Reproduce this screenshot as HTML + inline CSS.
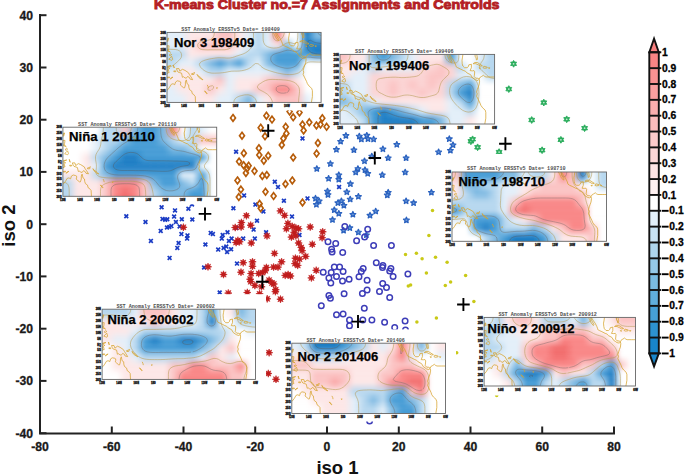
<!DOCTYPE html>
<html><head><meta charset="utf-8"><style>
html,body{margin:0;padding:0;background:#fff;}
body{width:685px;height:476px;overflow:hidden;position:relative;}
</style></head><body>
<svg width="685" height="476" viewBox="0 0 685 476" style="position:absolute;left:0;top:0">
<defs>
<symbol id="mD" overflow="visible"><path d="M0,-3.35 L2.5,0 L0,3.35 L-2.5,0Z" fill="none" stroke="#b65c0a" stroke-width="1.65"/></symbol>
<symbol id="mX" overflow="visible"><path d="M-1.9,-1.9 L1.9,1.9 M-1.9,1.9 L1.9,-1.9" stroke="#1b3cc4" stroke-width="1.7"/></symbol>
<symbol id="mS" overflow="visible"><path d="M0.00,-3.00 L0.82,-1.13 L2.85,-0.93 L1.33,0.43 L1.76,2.43 L0.00,1.40 L-1.76,2.43 L-1.33,0.43 L-2.85,-0.93 L-0.82,-1.13Z" fill="#6a98da" stroke="#2b62bf" stroke-width="1.3" stroke-linejoin="round"/></symbol>
<symbol id="mR" overflow="visible"><path d="M0.00,-3.70 L0.69,-1.66 L2.62,-2.62 L1.66,-0.69 L3.70,0.00 L1.66,0.69 L2.62,2.62 L0.69,1.66 L0.00,3.70 L-0.69,1.66 L-2.62,2.62 L-1.66,0.69 L-3.70,0.00 L-1.66,-0.69 L-2.62,-2.62 L-0.69,-1.66Z" fill="#c01c1c" stroke="#c01c1c" stroke-width="0.6"/></symbol>
<symbol id="mO" overflow="visible"><circle r="2.75" fill="none" stroke="#3d3db8" stroke-width="1.5"/></symbol>
<symbol id="mY" overflow="visible"><circle r="1.75" fill="#c9c916"/></symbol>
<symbol id="mG" overflow="visible"><path d="M0.00,-3.40 L1.00,-1.73 L2.94,-1.70 L2.00,0.00 L2.94,1.70 L1.00,1.73 L0.00,3.40 L-1.00,1.73 L-2.94,1.70 L-2.00,0.00 L-2.94,-1.70 L-1.00,-1.73Z" fill="#2aad5c" stroke="#2aad5c" stroke-width="0.9" stroke-linejoin="round"/><circle r="0.9" fill="#bfe8cf"/></symbol>
<symbol id="mC" overflow="visible"><path d="M-6.3,0 H6.3 M0,-6.5 V6.5" stroke="#000" stroke-width="1.9"/></symbol>

<filter id="bl" x="-30%" y="-30%" width="160%" height="160%"><feGaussianBlur stdDeviation="2.2"/></filter>
<filter id="blg" x="-10%" y="-10%" width="120%" height="120%"><feGaussianBlur stdDeviation="1.6"/></filter>
<filter id="bl2" x="-30%" y="-30%" width="160%" height="160%"><feGaussianBlur stdDeviation="1.2"/></filter>
</defs>
<rect width="685" height="476" fill="#fff"/>
<text x="154" y="9" font-family="Liberation Sans" font-weight="bold" font-size="12.3" fill="#b41f25" stroke="#b41f25" stroke-width="0.85" textLength="345.5" lengthAdjust="spacingAndGlyphs">K-means Cluster no.=7 Assignments and Centroids</text>
<g stroke="#222" stroke-width="2" fill="none">
<path d="M40,14 V434.5 M39,433.5 H615"/>
<path d="M40,433.2 H46.5"/>
<path d="M40,380.9 H46.5"/>
<path d="M40,328.7 H46.5"/>
<path d="M40,276.4 H46.5"/>
<path d="M40,224.2 H46.5"/>
<path d="M40,171.9 H46.5"/>
<path d="M40,119.7 H46.5"/>
<path d="M40,67.5 H46.5"/>
<path d="M40,15.2 H46.5"/>
<path d="M40.0,433.5 V426.5"/>
<path d="M111.8,433.5 V426.5"/>
<path d="M183.5,433.5 V426.5"/>
<path d="M255.2,433.5 V426.5"/>
<path d="M327.0,433.5 V426.5"/>
<path d="M398.8,433.5 V426.5"/>
<path d="M470.5,433.5 V426.5"/>
<path d="M542.2,433.5 V426.5"/>
<path d="M614.0,433.5 V426.5"/>
</g>
<g font-family="Liberation Sans" font-weight="bold" font-size="12.2" fill="#1a1a1a" stroke="#1a1a1a" stroke-width="0.3">
<text x="33" y="437.5" text-anchor="end">-40</text>
<text x="33" y="385.2" text-anchor="end">-30</text>
<text x="33" y="333.0" text-anchor="end">-20</text>
<text x="33" y="280.8" text-anchor="end">-10</text>
<text x="33" y="228.5" text-anchor="end">0</text>
<text x="33" y="176.2" text-anchor="end">10</text>
<text x="33" y="124.0" text-anchor="end">20</text>
<text x="33" y="71.8" text-anchor="end">30</text>
<text x="33" y="19.5" text-anchor="end">40</text>
<text x="40.0" y="450.5" text-anchor="middle">-80</text>
<text x="111.8" y="450.5" text-anchor="middle">-60</text>
<text x="183.5" y="450.5" text-anchor="middle">-40</text>
<text x="255.2" y="450.5" text-anchor="middle">-20</text>
<text x="327.0" y="450.5" text-anchor="middle">0</text>
<text x="398.8" y="450.5" text-anchor="middle">20</text>
<text x="470.5" y="450.5" text-anchor="middle">40</text>
<text x="542.2" y="450.5" text-anchor="middle">60</text>
<text x="614.0" y="450.5" text-anchor="middle">80</text>
</g>
<text x="337.5" y="474.3" text-anchor="middle" font-family="Liberation Sans" font-weight="bold" font-size="18.5" fill="#111">iso 1</text>
<text transform="translate(14.7,225.6) rotate(-90)" text-anchor="middle" font-family="Liberation Sans" font-weight="bold" font-size="18.5" fill="#111">iso 2</text>
<use href="#mX" x="302.5" y="138.4"/>
<use href="#mX" x="236.1" y="151.8"/>
<use href="#mX" x="274.8" y="181.8"/>
<use href="#mX" x="126.3" y="216.3"/>
<use href="#mX" x="145.5" y="222.0"/>
<use href="#mX" x="161.6" y="207.3"/>
<use href="#mX" x="175.0" y="210.4"/>
<use href="#mX" x="188.4" y="208.8"/>
<use href="#mX" x="162.5" y="218.9"/>
<use href="#mX" x="165.2" y="219.8"/>
<use href="#mX" x="167.3" y="219.3"/>
<use href="#mX" x="174.1" y="216.6"/>
<use href="#mX" x="181.8" y="219.3"/>
<use href="#mX" x="192.3" y="219.5"/>
<use href="#mX" x="175.9" y="222.0"/>
<use href="#mX" x="167.0" y="227.5"/>
<use href="#mX" x="169.3" y="227.0"/>
<use href="#mX" x="171.4" y="226.1"/>
<use href="#mX" x="160.7" y="230.9"/>
<use href="#mX" x="179.6" y="226.4"/>
<use href="#mX" x="181.4" y="234.1"/>
<use href="#mX" x="187.5" y="235.4"/>
<use href="#mX" x="187.1" y="238.6"/>
<use href="#mX" x="150.9" y="240.9"/>
<use href="#mX" x="178.6" y="243.0"/>
<use href="#mX" x="177.3" y="247.9"/>
<use href="#mX" x="169.6" y="257.9"/>
<use href="#mX" x="205.4" y="244.5"/>
<use href="#mX" x="210.7" y="232.9"/>
<use href="#mX" x="212.9" y="234.1"/>
<use href="#mX" x="218.2" y="249.6"/>
<use href="#mX" x="204.1" y="267.5"/>
<use href="#mX" x="244.1" y="195.4"/>
<use href="#mX" x="278.0" y="187.1"/>
<use href="#mX" x="283.9" y="200.7"/>
<use href="#mX" x="307.5" y="198.4"/>
<use href="#mX" x="233.4" y="208.2"/>
<use href="#mX" x="255.4" y="204.6"/>
<use href="#mX" x="263.4" y="211.4"/>
<use href="#mX" x="292.0" y="216.6"/>
<use href="#mX" x="257.0" y="220.7"/>
<use href="#mX" x="253.6" y="229.6"/>
<use href="#mX" x="266.1" y="232.3"/>
<use href="#mX" x="299.5" y="235.0"/>
<use href="#mX" x="254.8" y="238.6"/>
<use href="#mX" x="243.2" y="238.6"/>
<use href="#mX" x="227.5" y="232.3"/>
<use href="#mX" x="222.7" y="235.0"/>
<use href="#mX" x="221.8" y="238.6"/>
<use href="#mX" x="231.6" y="238.6"/>
<use href="#mX" x="228.9" y="240.9"/>
<use href="#mX" x="223.6" y="247.9"/>
<use href="#mX" x="227.1" y="252.0"/>
<use href="#mX" x="231.1" y="249.3"/>
<use href="#mX" x="226.3" y="246.6"/>
<use href="#mX" x="237.0" y="263.6"/>
<use href="#mX" x="236.4" y="227.9"/>
<use href="#mX" x="219.7" y="292.5"/>
<use href="#mX" x="339.1" y="187.0"/>
<use href="#mX" x="192.0" y="204.5"/>
<use href="#mD" x="233.0" y="117.9"/>
<use href="#mD" x="266.4" y="115.7"/>
<use href="#mD" x="272.0" y="119.6"/>
<use href="#mD" x="260.7" y="127.7"/>
<use href="#mD" x="242.0" y="135.7"/>
<use href="#mD" x="265.0" y="136.3"/>
<use href="#mD" x="285.7" y="126.8"/>
<use href="#mD" x="286.4" y="133.4"/>
<use href="#mD" x="283.4" y="138.4"/>
<use href="#mD" x="281.8" y="145.0"/>
<use href="#mD" x="293.2" y="117.3"/>
<use href="#mD" x="289.6" y="111.6"/>
<use href="#mD" x="299.5" y="112.5"/>
<use href="#mD" x="302.5" y="124.5"/>
<use href="#mD" x="303.6" y="130.4"/>
<use href="#mD" x="309.3" y="122.3"/>
<use href="#mD" x="316.4" y="125.4"/>
<use href="#mD" x="320.5" y="124.6"/>
<use href="#mD" x="322.3" y="118.2"/>
<use href="#mD" x="326.6" y="126.8"/>
<use href="#mD" x="317.9" y="142.9"/>
<use href="#mD" x="316.6" y="153.6"/>
<use href="#mD" x="293.2" y="157.5"/>
<use href="#mD" x="258.9" y="148.2"/>
<use href="#mD" x="259.3" y="155.0"/>
<use href="#mD" x="268.2" y="155.7"/>
<use href="#mD" x="263.8" y="160.7"/>
<use href="#mD" x="243.8" y="153.2"/>
<use href="#mD" x="239.1" y="161.6"/>
<use href="#mD" x="243.6" y="165.2"/>
<use href="#mD" x="248.6" y="165.7"/>
<use href="#mD" x="247.1" y="168.4"/>
<use href="#mD" x="245.9" y="172.9"/>
<use href="#mD" x="254.5" y="171.1"/>
<use href="#mD" x="262.3" y="175.9"/>
<use href="#mD" x="266.8" y="175.0"/>
<use href="#mD" x="237.5" y="180.4"/>
<use href="#mD" x="292.3" y="180.4"/>
<use href="#mD" x="285.5" y="184.0"/>
<use href="#mD" x="240.9" y="189.5"/>
<use href="#mD" x="238.8" y="197.1"/>
<use href="#mD" x="265.5" y="191.8"/>
<use href="#mD" x="273.6" y="196.1"/>
<use href="#mD" x="259.6" y="203.8"/>
<use href="#mD" x="260.7" y="208.2"/>
<use href="#mD" x="302.5" y="202.5"/>
<use href="#mS" x="336.4" y="149.6"/>
<use href="#mS" x="330.4" y="163.8"/>
<use href="#mS" x="316.8" y="168.8"/>
<use href="#mS" x="328.6" y="178.6"/>
<use href="#mS" x="338.8" y="175.0"/>
<use href="#mS" x="338.8" y="179.5"/>
<use href="#mS" x="345.9" y="135.7"/>
<use href="#mS" x="340.6" y="141.5"/>
<use href="#mS" x="359.3" y="136.3"/>
<use href="#mS" x="361.4" y="139.3"/>
<use href="#mS" x="366.8" y="135.4"/>
<use href="#mS" x="368.0" y="138.9"/>
<use href="#mS" x="373.6" y="139.3"/>
<use href="#mS" x="353.9" y="150.0"/>
<use href="#mS" x="382.9" y="149.1"/>
<use href="#mS" x="396.8" y="144.6"/>
<use href="#mS" x="371.8" y="156.3"/>
<use href="#mS" x="388.2" y="158.0"/>
<use href="#mS" x="406.1" y="158.0"/>
<use href="#mS" x="364.5" y="161.1"/>
<use href="#mS" x="357.9" y="168.8"/>
<use href="#mS" x="355.7" y="172.3"/>
<use href="#mS" x="365.0" y="170.0"/>
<use href="#mS" x="367.7" y="173.6"/>
<use href="#mS" x="382.3" y="175.0"/>
<use href="#mS" x="405.2" y="172.3"/>
<use href="#mS" x="449.3" y="138.9"/>
<use href="#mS" x="453.0" y="145.0"/>
<use href="#mS" x="450.4" y="150.5"/>
<use href="#mS" x="438.6" y="152.1"/>
<use href="#mS" x="350.4" y="183.9"/>
<use href="#mS" x="327.5" y="191.3"/>
<use href="#mS" x="328.0" y="194.8"/>
<use href="#mS" x="315.5" y="198.4"/>
<use href="#mS" x="319.1" y="201.1"/>
<use href="#mS" x="316.4" y="204.6"/>
<use href="#mS" x="337.9" y="202.9"/>
<use href="#mS" x="334.3" y="210.0"/>
<use href="#mS" x="338.8" y="213.6"/>
<use href="#mS" x="332.5" y="219.8"/>
<use href="#mS" x="346.8" y="192.1"/>
<use href="#mS" x="358.4" y="196.6"/>
<use href="#mS" x="350.2" y="199.3"/>
<use href="#mS" x="341.4" y="201.1"/>
<use href="#mS" x="343.9" y="205.5"/>
<use href="#mS" x="352.9" y="214.5"/>
<use href="#mS" x="370.0" y="215.4"/>
<use href="#mS" x="375.7" y="211.3"/>
<use href="#mS" x="388.2" y="192.5"/>
<use href="#mS" x="387.3" y="195.2"/>
<use href="#mS" x="406.1" y="201.1"/>
<use href="#mS" x="413.6" y="202.9"/>
<use href="#mS" x="431.4" y="192.5"/>
<use href="#mS" x="406.4" y="220.2"/>
<use href="#mS" x="343.6" y="230.5"/>
<use href="#mS" x="349.8" y="227.9"/>
<use href="#mS" x="358.4" y="232.3"/>
<use href="#mS" x="366.4" y="235.0"/>
<use href="#mO" x="328.0" y="241.8"/>
<use href="#mO" x="335.7" y="243.6"/>
<use href="#mO" x="331.6" y="249.3"/>
<use href="#mO" x="332.1" y="252.0"/>
<use href="#mO" x="334.3" y="267.1"/>
<use href="#mO" x="339.6" y="267.1"/>
<use href="#mO" x="344.8" y="226.4"/>
<use href="#mO" x="367.7" y="229.3"/>
<use href="#mO" x="364.6" y="237.1"/>
<use href="#mO" x="356.6" y="240.7"/>
<use href="#mO" x="373.6" y="245.4"/>
<use href="#mO" x="391.4" y="245.4"/>
<use href="#mO" x="342.7" y="252.5"/>
<use href="#mO" x="376.3" y="262.7"/>
<use href="#mO" x="382.9" y="265.4"/>
<use href="#mO" x="382.5" y="267.5"/>
<use href="#mO" x="363.2" y="268.6"/>
<use href="#mO" x="390.9" y="268.6"/>
<use href="#mO" x="323.2" y="272.2"/>
<use href="#mO" x="328.9" y="277.9"/>
<use href="#mO" x="331.2" y="272.6"/>
<use href="#mO" x="336.5" y="276.4"/>
<use href="#mO" x="343.1" y="271.6"/>
<use href="#mO" x="342.5" y="281.1"/>
<use href="#mO" x="330.8" y="283.0"/>
<use href="#mO" x="328.9" y="295.4"/>
<use href="#mO" x="330.4" y="298.2"/>
<use href="#mO" x="344.1" y="293.8"/>
<use href="#mO" x="321.3" y="305.8"/>
<use href="#mO" x="336.5" y="314.7"/>
<use href="#mO" x="343.1" y="314.0"/>
<use href="#mO" x="349.1" y="279.2"/>
<use href="#mO" x="359.0" y="276.8"/>
<use href="#mO" x="361.3" y="271.5"/>
<use href="#mO" x="367.1" y="280.2"/>
<use href="#mO" x="389.7" y="271.0"/>
<use href="#mO" x="393.1" y="276.4"/>
<use href="#mO" x="407.9" y="274.1"/>
<use href="#mO" x="382.7" y="283.6"/>
<use href="#mO" x="386.5" y="287.4"/>
<use href="#mO" x="379.5" y="291.6"/>
<use href="#mO" x="367.1" y="290.1"/>
<use href="#mO" x="362.4" y="293.5"/>
<use href="#mO" x="389.7" y="297.6"/>
<use href="#mO" x="364.3" y="308.3"/>
<use href="#mO" x="349.5" y="320.0"/>
<use href="#mO" x="349.5" y="325.7"/>
<use href="#mO" x="362.8" y="320.0"/>
<use href="#mO" x="371.9" y="320.0"/>
<use href="#mO" x="384.6" y="322.3"/>
<use href="#mO" x="394.7" y="327.6"/>
<use href="#mO" x="405.1" y="321.0"/>
<use href="#mO" x="405.5" y="330.0"/>
<use href="#mO" x="369.6" y="421.0"/>
<use href="#mR" x="183.4" y="227.3"/>
<use href="#mR" x="208.0" y="266.8"/>
<use href="#mR" x="246.4" y="215.7"/>
<use href="#mR" x="241.4" y="222.5"/>
<use href="#mR" x="241.1" y="227.0"/>
<use href="#mR" x="235.2" y="227.5"/>
<use href="#mR" x="250.7" y="225.2"/>
<use href="#mR" x="280.4" y="210.9"/>
<use href="#mR" x="284.6" y="215.4"/>
<use href="#mR" x="287.9" y="223.4"/>
<use href="#mR" x="286.4" y="228.8"/>
<use href="#mR" x="292.3" y="226.4"/>
<use href="#mR" x="295.9" y="227.9"/>
<use href="#mR" x="298.6" y="228.8"/>
<use href="#mR" x="294.1" y="232.3"/>
<use href="#mR" x="291.4" y="237.1"/>
<use href="#mR" x="295.9" y="235.9"/>
<use href="#mR" x="310.2" y="227.0"/>
<use href="#mR" x="322.7" y="231.8"/>
<use href="#mR" x="322.1" y="237.7"/>
<use href="#mR" x="267.0" y="235.9"/>
<use href="#mR" x="236.1" y="242.5"/>
<use href="#mR" x="239.6" y="241.8"/>
<use href="#mR" x="237.9" y="240.4"/>
<use href="#mR" x="251.3" y="243.0"/>
<use href="#mR" x="298.6" y="243.0"/>
<use href="#mR" x="301.3" y="247.5"/>
<use href="#mR" x="302.1" y="250.7"/>
<use href="#mR" x="312.3" y="244.3"/>
<use href="#mR" x="274.5" y="253.4"/>
<use href="#mR" x="243.2" y="262.7"/>
<use href="#mR" x="252.5" y="261.8"/>
<use href="#mR" x="252.5" y="266.3"/>
<use href="#mR" x="281.6" y="261.8"/>
<use href="#mR" x="295.4" y="258.2"/>
<use href="#mR" x="299.5" y="259.1"/>
<use href="#mR" x="305.7" y="256.4"/>
<use href="#mR" x="295.0" y="263.6"/>
<use href="#mR" x="297.7" y="265.4"/>
<use href="#mR" x="266.4" y="267.5"/>
<use href="#mR" x="273.6" y="267.1"/>
<use href="#mR" x="278.0" y="267.1"/>
<use href="#mR" x="223.5" y="274.5"/>
<use href="#mR" x="241.0" y="272.2"/>
<use href="#mR" x="251.1" y="273.5"/>
<use href="#mR" x="250.1" y="279.2"/>
<use href="#mR" x="250.7" y="281.7"/>
<use href="#mR" x="258.7" y="273.5"/>
<use href="#mR" x="262.4" y="272.6"/>
<use href="#mR" x="265.3" y="270.7"/>
<use href="#mR" x="254.9" y="285.5"/>
<use href="#mR" x="261.5" y="286.8"/>
<use href="#mR" x="269.1" y="280.2"/>
<use href="#mR" x="272.0" y="283.0"/>
<use href="#mR" x="273.8" y="284.0"/>
<use href="#mR" x="275.7" y="289.7"/>
<use href="#mR" x="275.4" y="291.6"/>
<use href="#mR" x="285.2" y="275.4"/>
<use href="#mR" x="288.1" y="274.5"/>
<use href="#mR" x="290.5" y="276.0"/>
<use href="#mR" x="280.5" y="299.2"/>
<use href="#mR" x="267.2" y="298.8"/>
<use href="#mR" x="247.3" y="292.5"/>
<use href="#mR" x="259.6" y="293.8"/>
<use href="#mR" x="228.3" y="293.1"/>
<use href="#mR" x="311.4" y="277.9"/>
<use href="#mR" x="316.2" y="270.3"/>
<use href="#mR" x="269.1" y="352.7"/>
<use href="#mR" x="268.3" y="373.5"/>
<use href="#mR" x="276.0" y="379.3"/>
<use href="#mY" x="432.5" y="210.4"/>
<use href="#mY" x="428.9" y="235.5"/>
<use href="#mY" x="405.5" y="254.6"/>
<use href="#mY" x="416.4" y="253.2"/>
<use href="#mY" x="422.1" y="258.8"/>
<use href="#mY" x="435.5" y="257.3"/>
<use href="#mY" x="447.1" y="262.3"/>
<use href="#mY" x="426.4" y="273.0"/>
<use href="#mY" x="408.3" y="285.9"/>
<use href="#mY" x="410.6" y="284.9"/>
<use href="#mY" x="445.3" y="285.5"/>
<use href="#mY" x="450.6" y="282.1"/>
<use href="#mY" x="465.6" y="275.4"/>
<use href="#mY" x="416.9" y="321.9"/>
<use href="#mY" x="436.4" y="318.1"/>
<use href="#mY" x="456.7" y="352.7"/>
<use href="#mY" x="473.9" y="301.6"/>
<use href="#mY" x="496.7" y="395.4"/>
<use href="#mG" x="513.6" y="63.8"/>
<use href="#mG" x="508.8" y="89.1"/>
<use href="#mG" x="543.8" y="102.6"/>
<use href="#mG" x="531.7" y="120.0"/>
<use href="#mG" x="566.7" y="119.3"/>
<use href="#mG" x="560.9" y="139.8"/>
<use href="#mG" x="542.1" y="150.2"/>
<use href="#mG" x="470.9" y="141.3"/>
<use href="#mG" x="472.6" y="139.3"/>
<use href="#mG" x="477.6" y="147.3"/>
<use href="#mG" x="499.1" y="152.1"/>
<use href="#mG" x="584.6" y="128.2"/>
<rect x="158.5" y="17.4" width="173.1" height="93.0" fill="#fff"/>
<clipPath id="cp0"><rect x="167.0" y="32.4" width="154.1" height="70.0"/></clipPath>
<g clip-path="url(#cp0)">
<rect x="167.0" y="32.4" width="154.1" height="70.0" fill="#f6fafd"/>
<g filter="url(#blg)">
<linearGradient id="g0_0" gradientUnits="userSpaceOnUse" x1="167.0" x2="321.1" y1="0" y2="0"><stop offset="0.031" stop-color="#e3eff9"/><stop offset="0.094" stop-color="#e3eff9"/><stop offset="0.156" stop-color="#fde7e7"/><stop offset="0.219" stop-color="#fde7e7"/><stop offset="0.281" stop-color="#fde7e7"/><stop offset="0.344" stop-color="#fbc3c3"/><stop offset="0.406" stop-color="#fbc3c3"/><stop offset="0.469" stop-color="#fde7e7"/><stop offset="0.531" stop-color="#e3eff9"/><stop offset="0.594" stop-color="#b6d7ef"/><stop offset="0.656" stop-color="#e3eff9"/><stop offset="0.719" stop-color="#f98585"/><stop offset="0.781" stop-color="#ffffff"/><stop offset="0.844" stop-color="#ffffff"/><stop offset="0.906" stop-color="#1d7dc4"/><stop offset="0.969" stop-color="#7db9e2"/></linearGradient>
<rect x="163.00" y="28.40" width="162.10" height="6.75" fill="url(#g0_0)"/>
<linearGradient id="g0_1" gradientUnits="userSpaceOnUse" x1="167.0" x2="321.1" y1="0" y2="0"><stop offset="0.031" stop-color="#e3eff9"/><stop offset="0.094" stop-color="#e3eff9"/><stop offset="0.156" stop-color="#fde7e7"/><stop offset="0.219" stop-color="#fde7e7"/><stop offset="0.281" stop-color="#fde7e7"/><stop offset="0.344" stop-color="#fbc3c3"/><stop offset="0.406" stop-color="#fbc3c3"/><stop offset="0.469" stop-color="#fde7e7"/><stop offset="0.531" stop-color="#e3eff9"/><stop offset="0.594" stop-color="#b6d7ef"/><stop offset="0.656" stop-color="#e3eff9"/><stop offset="0.719" stop-color="#f98585"/><stop offset="0.781" stop-color="#ffffff"/><stop offset="0.844" stop-color="#ffffff"/><stop offset="0.906" stop-color="#1d7dc4"/><stop offset="0.969" stop-color="#7db9e2"/></linearGradient>
<rect x="163.00" y="34.90" width="162.10" height="2.75" fill="url(#g0_1)"/>
<linearGradient id="g0_2" gradientUnits="userSpaceOnUse" x1="167.0" x2="321.1" y1="0" y2="0"><stop offset="0.031" stop-color="#e3eff9"/><stop offset="0.094" stop-color="#e3eff9"/><stop offset="0.156" stop-color="#fde7e7"/><stop offset="0.219" stop-color="#fddfdf"/><stop offset="0.281" stop-color="#fddfdf"/><stop offset="0.344" stop-color="#fbc3c3"/><stop offset="0.406" stop-color="#fbc3c3"/><stop offset="0.469" stop-color="#fde7e7"/><stop offset="0.531" stop-color="#e3eff9"/><stop offset="0.594" stop-color="#b6d7ef"/><stop offset="0.656" stop-color="#e3eff9"/><stop offset="0.719" stop-color="#fa9a9a"/><stop offset="0.781" stop-color="#e3f0f9"/><stop offset="0.844" stop-color="#ffffff"/><stop offset="0.906" stop-color="#1d7dc4"/><stop offset="0.969" stop-color="#68acdc"/></linearGradient>
<rect x="163.00" y="37.40" width="162.10" height="2.75" fill="url(#g0_2)"/>
<linearGradient id="g0_3" gradientUnits="userSpaceOnUse" x1="167.0" x2="321.1" y1="0" y2="0"><stop offset="0.031" stop-color="#e3eff9"/><stop offset="0.094" stop-color="#e3eff9"/><stop offset="0.156" stop-color="#fde7e7"/><stop offset="0.219" stop-color="#fcd5d5"/><stop offset="0.281" stop-color="#fcd5d5"/><stop offset="0.344" stop-color="#fbc3c3"/><stop offset="0.406" stop-color="#fbc3c3"/><stop offset="0.469" stop-color="#fde7e7"/><stop offset="0.531" stop-color="#e3eff9"/><stop offset="0.594" stop-color="#b6d7ef"/><stop offset="0.656" stop-color="#e3eff9"/><stop offset="0.719" stop-color="#fbb6b6"/><stop offset="0.781" stop-color="#bedcf0"/><stop offset="0.844" stop-color="#ffffff"/><stop offset="0.906" stop-color="#1d7dc4"/><stop offset="0.969" stop-color="#4d9bd3"/></linearGradient>
<rect x="163.00" y="39.90" width="162.10" height="2.75" fill="url(#g0_3)"/>
<linearGradient id="g0_4" gradientUnits="userSpaceOnUse" x1="167.0" x2="321.1" y1="0" y2="0"><stop offset="0.031" stop-color="#e3eff9"/><stop offset="0.094" stop-color="#e3eff9"/><stop offset="0.156" stop-color="#fde7e7"/><stop offset="0.219" stop-color="#fbcbcb"/><stop offset="0.281" stop-color="#fbcbcb"/><stop offset="0.344" stop-color="#fbc3c3"/><stop offset="0.406" stop-color="#fbc3c3"/><stop offset="0.469" stop-color="#fde7e7"/><stop offset="0.531" stop-color="#e3eff9"/><stop offset="0.594" stop-color="#b6d7ef"/><stop offset="0.656" stop-color="#e3eff9"/><stop offset="0.719" stop-color="#fcd2d2"/><stop offset="0.781" stop-color="#99c8e8"/><stop offset="0.844" stop-color="#ffffff"/><stop offset="0.906" stop-color="#1d7dc4"/><stop offset="0.969" stop-color="#328aca"/></linearGradient>
<rect x="163.00" y="42.40" width="162.10" height="2.75" fill="url(#g0_4)"/>
<linearGradient id="g0_5" gradientUnits="userSpaceOnUse" x1="167.0" x2="321.1" y1="0" y2="0"><stop offset="0.031" stop-color="#e0edf8"/><stop offset="0.094" stop-color="#e0edf8"/><stop offset="0.156" stop-color="#fde7e7"/><stop offset="0.219" stop-color="#fbc6c6"/><stop offset="0.281" stop-color="#fbc6c6"/><stop offset="0.344" stop-color="#fbc6c6"/><stop offset="0.406" stop-color="#fbc6c6"/><stop offset="0.469" stop-color="#fbe8e8"/><stop offset="0.531" stop-color="#e0edf8"/><stop offset="0.594" stop-color="#b6d7ef"/><stop offset="0.656" stop-color="#dcebf7"/><stop offset="0.719" stop-color="#f0e2e6"/><stop offset="0.781" stop-color="#79b7e1"/><stop offset="0.844" stop-color="#f2f8fc"/><stop offset="0.906" stop-color="#207fc5"/><stop offset="0.969" stop-color="#1d7dc4"/></linearGradient>
<rect x="163.00" y="44.90" width="162.10" height="2.75" fill="url(#g0_5)"/>
<linearGradient id="g0_6" gradientUnits="userSpaceOnUse" x1="167.0" x2="321.1" y1="0" y2="0"><stop offset="0.031" stop-color="#d3e6f5"/><stop offset="0.094" stop-color="#d3e6f5"/><stop offset="0.156" stop-color="#fde7e7"/><stop offset="0.219" stop-color="#fcd0d0"/><stop offset="0.281" stop-color="#fcd0d0"/><stop offset="0.344" stop-color="#fcd0d0"/><stop offset="0.406" stop-color="#fcd0d0"/><stop offset="0.469" stop-color="#f4eaed"/><stop offset="0.531" stop-color="#d3e6f5"/><stop offset="0.594" stop-color="#b6d7ef"/><stop offset="0.656" stop-color="#bfdcf1"/><stop offset="0.719" stop-color="#bbcce1"/><stop offset="0.781" stop-color="#69aedd"/><stop offset="0.844" stop-color="#bcdbf0"/><stop offset="0.906" stop-color="#2b88ca"/><stop offset="0.969" stop-color="#1d7dc4"/></linearGradient>
<rect x="163.00" y="47.40" width="162.10" height="2.75" fill="url(#g0_6)"/>
<linearGradient id="g0_7" gradientUnits="userSpaceOnUse" x1="167.0" x2="321.1" y1="0" y2="0"><stop offset="0.031" stop-color="#c6e0f3"/><stop offset="0.094" stop-color="#c6e0f3"/><stop offset="0.156" stop-color="#fde7e7"/><stop offset="0.219" stop-color="#fcdada"/><stop offset="0.281" stop-color="#fcdada"/><stop offset="0.344" stop-color="#fcdada"/><stop offset="0.406" stop-color="#fcdada"/><stop offset="0.469" stop-color="#ececf3"/><stop offset="0.531" stop-color="#c6e0f3"/><stop offset="0.594" stop-color="#b6d7ef"/><stop offset="0.656" stop-color="#a1ccea"/><stop offset="0.719" stop-color="#86b6db"/><stop offset="0.781" stop-color="#58a6da"/><stop offset="0.844" stop-color="#87bfe4"/><stop offset="0.906" stop-color="#3690cf"/><stop offset="0.969" stop-color="#1d7dc4"/></linearGradient>
<rect x="163.00" y="49.90" width="162.10" height="2.75" fill="url(#g0_7)"/>
<linearGradient id="g0_8" gradientUnits="userSpaceOnUse" x1="167.0" x2="321.1" y1="0" y2="0"><stop offset="0.031" stop-color="#b9d9f0"/><stop offset="0.094" stop-color="#b9d9f0"/><stop offset="0.156" stop-color="#fde7e7"/><stop offset="0.219" stop-color="#fde4e4"/><stop offset="0.281" stop-color="#fde4e4"/><stop offset="0.344" stop-color="#fde4e4"/><stop offset="0.406" stop-color="#fde4e4"/><stop offset="0.469" stop-color="#e5eef8"/><stop offset="0.531" stop-color="#b9d9f0"/><stop offset="0.594" stop-color="#b6d7ef"/><stop offset="0.656" stop-color="#84bde4"/><stop offset="0.719" stop-color="#51a0d6"/><stop offset="0.781" stop-color="#489dd6"/><stop offset="0.844" stop-color="#51a2d8"/><stop offset="0.906" stop-color="#4199d4"/><stop offset="0.969" stop-color="#1d7dc4"/></linearGradient>
<rect x="163.00" y="52.40" width="162.10" height="2.75" fill="url(#g0_8)"/>
<linearGradient id="g0_9" gradientUnits="userSpaceOnUse" x1="167.0" x2="321.1" y1="0" y2="0"><stop offset="0.031" stop-color="#b6d7ef"/><stop offset="0.094" stop-color="#c0dcf1"/><stop offset="0.156" stop-color="#f7e9eb"/><stop offset="0.219" stop-color="#eee4e9"/><stop offset="0.281" stop-color="#e2dde6"/><stop offset="0.344" stop-color="#d5d7e3"/><stop offset="0.406" stop-color="#e2dde6"/><stop offset="0.469" stop-color="#c1ddf1"/><stop offset="0.531" stop-color="#b6d7ef"/><stop offset="0.594" stop-color="#c0dcf1"/><stop offset="0.656" stop-color="#7db9e2"/><stop offset="0.719" stop-color="#449bd5"/><stop offset="0.781" stop-color="#449bd5"/><stop offset="0.844" stop-color="#449bd5"/><stop offset="0.906" stop-color="#6cb0de"/><stop offset="0.969" stop-color="#4d99d1"/></linearGradient>
<rect x="163.00" y="54.90" width="162.10" height="2.75" fill="url(#g0_9)"/>
<linearGradient id="g0_10" gradientUnits="userSpaceOnUse" x1="167.0" x2="321.1" y1="0" y2="0"><stop offset="0.031" stop-color="#b6d7ef"/><stop offset="0.094" stop-color="#cce3f4"/><stop offset="0.156" stop-color="#f0ebf0"/><stop offset="0.219" stop-color="#dadfeb"/><stop offset="0.281" stop-color="#bdd0e4"/><stop offset="0.344" stop-color="#a0c1de"/><stop offset="0.406" stop-color="#bdd0e4"/><stop offset="0.469" stop-color="#94c5e7"/><stop offset="0.531" stop-color="#b6d7ef"/><stop offset="0.594" stop-color="#cce3f4"/><stop offset="0.656" stop-color="#7db9e2"/><stop offset="0.719" stop-color="#449bd5"/><stop offset="0.781" stop-color="#449bd5"/><stop offset="0.844" stop-color="#449bd5"/><stop offset="0.906" stop-color="#a2cdea"/><stop offset="0.969" stop-color="#8ebee2"/></linearGradient>
<rect x="163.00" y="57.40" width="162.10" height="2.75" fill="url(#g0_10)"/>
<linearGradient id="g0_11" gradientUnits="userSpaceOnUse" x1="167.0" x2="321.1" y1="0" y2="0"><stop offset="0.031" stop-color="#b6d7ef"/><stop offset="0.094" stop-color="#d9eaf7"/><stop offset="0.156" stop-color="#e9edf5"/><stop offset="0.219" stop-color="#c5daed"/><stop offset="0.281" stop-color="#98c3e3"/><stop offset="0.344" stop-color="#6cabd9"/><stop offset="0.406" stop-color="#98c3e3"/><stop offset="0.469" stop-color="#66addd"/><stop offset="0.531" stop-color="#b6d7ef"/><stop offset="0.594" stop-color="#d9eaf7"/><stop offset="0.656" stop-color="#7db9e2"/><stop offset="0.719" stop-color="#449bd5"/><stop offset="0.781" stop-color="#449bd5"/><stop offset="0.844" stop-color="#449bd5"/><stop offset="0.906" stop-color="#d7eaf6"/><stop offset="0.969" stop-color="#cfe3f2"/></linearGradient>
<rect x="163.00" y="59.90" width="162.10" height="2.75" fill="url(#g0_11)"/>
<linearGradient id="g0_12" gradientUnits="userSpaceOnUse" x1="167.0" x2="321.1" y1="0" y2="0"><stop offset="0.031" stop-color="#b9d9f0"/><stop offset="0.094" stop-color="#e5eef8"/><stop offset="0.156" stop-color="#e5eef8"/><stop offset="0.219" stop-color="#b9d9f0"/><stop offset="0.281" stop-color="#81bbe3"/><stop offset="0.344" stop-color="#4c9fd7"/><stop offset="0.406" stop-color="#84bde4"/><stop offset="0.469" stop-color="#4fa1d8"/><stop offset="0.531" stop-color="#b9d9f0"/><stop offset="0.594" stop-color="#e3eff9"/><stop offset="0.656" stop-color="#84bde4"/><stop offset="0.719" stop-color="#4c9fd7"/><stop offset="0.781" stop-color="#489dd6"/><stop offset="0.844" stop-color="#4c9fd7"/><stop offset="0.906" stop-color="#ffffff"/><stop offset="0.969" stop-color="#ffffff"/></linearGradient>
<rect x="163.00" y="62.40" width="162.10" height="2.75" fill="url(#g0_12)"/>
<linearGradient id="g0_13" gradientUnits="userSpaceOnUse" x1="167.0" x2="321.1" y1="0" y2="0"><stop offset="0.031" stop-color="#c6e0f3"/><stop offset="0.094" stop-color="#ececf3"/><stop offset="0.156" stop-color="#ececf3"/><stop offset="0.219" stop-color="#c6e0f3"/><stop offset="0.281" stop-color="#91c4e7"/><stop offset="0.344" stop-color="#6db0de"/><stop offset="0.406" stop-color="#a1ccea"/><stop offset="0.469" stop-color="#7db9e2"/><stop offset="0.531" stop-color="#c6e0f3"/><stop offset="0.594" stop-color="#e3eff9"/><stop offset="0.656" stop-color="#a1ccea"/><stop offset="0.719" stop-color="#6db0de"/><stop offset="0.781" stop-color="#58a6da"/><stop offset="0.844" stop-color="#6db0de"/><stop offset="0.906" stop-color="#ffffff"/><stop offset="0.969" stop-color="#ffffff"/></linearGradient>
<rect x="163.00" y="64.90" width="162.10" height="2.75" fill="url(#g0_13)"/>
<linearGradient id="g0_14" gradientUnits="userSpaceOnUse" x1="167.0" x2="321.1" y1="0" y2="0"><stop offset="0.031" stop-color="#d3e6f5"/><stop offset="0.094" stop-color="#f4eaed"/><stop offset="0.156" stop-color="#f4eaed"/><stop offset="0.219" stop-color="#d3e6f5"/><stop offset="0.281" stop-color="#a2ccea"/><stop offset="0.344" stop-color="#8dc2e6"/><stop offset="0.406" stop-color="#bfdcf1"/><stop offset="0.469" stop-color="#aad1ec"/><stop offset="0.531" stop-color="#d3e6f5"/><stop offset="0.594" stop-color="#e3eff9"/><stop offset="0.656" stop-color="#bfdcf1"/><stop offset="0.719" stop-color="#8dc2e6"/><stop offset="0.781" stop-color="#69aedd"/><stop offset="0.844" stop-color="#8dc2e6"/><stop offset="0.906" stop-color="#ffffff"/><stop offset="0.969" stop-color="#ffffff"/></linearGradient>
<rect x="163.00" y="67.40" width="162.10" height="2.75" fill="url(#g0_14)"/>
<linearGradient id="g0_15" gradientUnits="userSpaceOnUse" x1="167.0" x2="321.1" y1="0" y2="0"><stop offset="0.031" stop-color="#e0edf8"/><stop offset="0.094" stop-color="#fbe8e8"/><stop offset="0.156" stop-color="#fbe8e8"/><stop offset="0.219" stop-color="#e0edf8"/><stop offset="0.281" stop-color="#b2d5ee"/><stop offset="0.344" stop-color="#aed3ed"/><stop offset="0.406" stop-color="#dcebf7"/><stop offset="0.469" stop-color="#d8e9f6"/><stop offset="0.531" stop-color="#e0edf8"/><stop offset="0.594" stop-color="#e3eff9"/><stop offset="0.656" stop-color="#dcebf7"/><stop offset="0.719" stop-color="#aed3ed"/><stop offset="0.781" stop-color="#79b7e1"/><stop offset="0.844" stop-color="#aed3ed"/><stop offset="0.906" stop-color="#ffffff"/><stop offset="0.969" stop-color="#ffffff"/></linearGradient>
<rect x="163.00" y="69.90" width="162.10" height="2.75" fill="url(#g0_15)"/>
<linearGradient id="g0_16" gradientUnits="userSpaceOnUse" x1="167.0" x2="321.1" y1="0" y2="0"><stop offset="0.031" stop-color="#e9edf5"/><stop offset="0.094" stop-color="#fde7e7"/><stop offset="0.156" stop-color="#fde7e7"/><stop offset="0.219" stop-color="#e9edf5"/><stop offset="0.281" stop-color="#c5daed"/><stop offset="0.344" stop-color="#c5d3e6"/><stop offset="0.406" stop-color="#e3eff9"/><stop offset="0.469" stop-color="#e9edf5"/><stop offset="0.531" stop-color="#e9edf5"/><stop offset="0.594" stop-color="#e9edf5"/><stop offset="0.656" stop-color="#e8e6ed"/><stop offset="0.719" stop-color="#c5d3e6"/><stop offset="0.781" stop-color="#98bbdb"/><stop offset="0.844" stop-color="#c5daed"/><stop offset="0.906" stop-color="#ffffff"/><stop offset="0.969" stop-color="#ffffff"/></linearGradient>
<rect x="163.00" y="72.40" width="162.10" height="2.75" fill="url(#g0_16)"/>
<linearGradient id="g0_17" gradientUnits="userSpaceOnUse" x1="167.0" x2="321.1" y1="0" y2="0"><stop offset="0.031" stop-color="#f0ebf0"/><stop offset="0.094" stop-color="#fde7e7"/><stop offset="0.156" stop-color="#fde7e7"/><stop offset="0.219" stop-color="#f0ebf0"/><stop offset="0.281" stop-color="#dadfeb"/><stop offset="0.344" stop-color="#d8cdd9"/><stop offset="0.406" stop-color="#e3eff9"/><stop offset="0.469" stop-color="#f0ebf0"/><stop offset="0.531" stop-color="#f0ebf0"/><stop offset="0.594" stop-color="#f0ebf0"/><stop offset="0.656" stop-color="#efd9de"/><stop offset="0.719" stop-color="#d8cdd9"/><stop offset="0.781" stop-color="#bcbed2"/><stop offset="0.844" stop-color="#dadfeb"/><stop offset="0.906" stop-color="#ffffff"/><stop offset="0.969" stop-color="#ffffff"/></linearGradient>
<rect x="163.00" y="74.90" width="162.10" height="2.75" fill="url(#g0_17)"/>
<linearGradient id="g0_18" gradientUnits="userSpaceOnUse" x1="167.0" x2="321.1" y1="0" y2="0"><stop offset="0.031" stop-color="#f7e9eb"/><stop offset="0.094" stop-color="#fde7e7"/><stop offset="0.156" stop-color="#fde7e7"/><stop offset="0.219" stop-color="#f7e9eb"/><stop offset="0.281" stop-color="#eee4e9"/><stop offset="0.344" stop-color="#ecc7cc"/><stop offset="0.406" stop-color="#e3eff9"/><stop offset="0.469" stop-color="#f7e9eb"/><stop offset="0.531" stop-color="#f7e9eb"/><stop offset="0.594" stop-color="#f7e9eb"/><stop offset="0.656" stop-color="#f6cccf"/><stop offset="0.719" stop-color="#ecc7cc"/><stop offset="0.781" stop-color="#e0c1ca"/><stop offset="0.844" stop-color="#eee4e9"/><stop offset="0.906" stop-color="#ffffff"/><stop offset="0.969" stop-color="#ffffff"/></linearGradient>
<rect x="163.00" y="77.40" width="162.10" height="2.75" fill="url(#g0_18)"/>
<linearGradient id="g0_19" gradientUnits="userSpaceOnUse" x1="167.0" x2="321.1" y1="0" y2="0"><stop offset="0.031" stop-color="#fbe8e8"/><stop offset="0.094" stop-color="#fde7e7"/><stop offset="0.156" stop-color="#fde7e7"/><stop offset="0.219" stop-color="#fde7e7"/><stop offset="0.281" stop-color="#fde4e4"/><stop offset="0.344" stop-color="#fbc6c6"/><stop offset="0.406" stop-color="#e3eff9"/><stop offset="0.469" stop-color="#fde7e7"/><stop offset="0.531" stop-color="#fde7e7"/><stop offset="0.594" stop-color="#fde4e4"/><stop offset="0.656" stop-color="#fbc3c3"/><stop offset="0.719" stop-color="#fbbfbf"/><stop offset="0.781" stop-color="#fbbfbf"/><stop offset="0.844" stop-color="#fde4e4"/><stop offset="0.906" stop-color="#ffffff"/><stop offset="0.969" stop-color="#ffffff"/></linearGradient>
<rect x="163.00" y="79.90" width="162.10" height="2.75" fill="url(#g0_19)"/>
<linearGradient id="g0_20" gradientUnits="userSpaceOnUse" x1="167.0" x2="321.1" y1="0" y2="0"><stop offset="0.031" stop-color="#f4eaed"/><stop offset="0.094" stop-color="#fde7e7"/><stop offset="0.156" stop-color="#fde7e7"/><stop offset="0.219" stop-color="#fde7e7"/><stop offset="0.281" stop-color="#fcdada"/><stop offset="0.344" stop-color="#fcd0d0"/><stop offset="0.406" stop-color="#e3eff9"/><stop offset="0.469" stop-color="#fde7e7"/><stop offset="0.531" stop-color="#fde7e7"/><stop offset="0.594" stop-color="#fcdada"/><stop offset="0.656" stop-color="#fbc3c3"/><stop offset="0.719" stop-color="#faadad"/><stop offset="0.781" stop-color="#faadad"/><stop offset="0.844" stop-color="#fcdada"/><stop offset="0.906" stop-color="#ffffff"/><stop offset="0.969" stop-color="#ffffff"/></linearGradient>
<rect x="163.00" y="82.40" width="162.10" height="2.75" fill="url(#g0_20)"/>
<linearGradient id="g0_21" gradientUnits="userSpaceOnUse" x1="167.0" x2="321.1" y1="0" y2="0"><stop offset="0.031" stop-color="#ececf3"/><stop offset="0.094" stop-color="#fde7e7"/><stop offset="0.156" stop-color="#fde7e7"/><stop offset="0.219" stop-color="#fde7e7"/><stop offset="0.281" stop-color="#fcd0d0"/><stop offset="0.344" stop-color="#fcdada"/><stop offset="0.406" stop-color="#e3eff9"/><stop offset="0.469" stop-color="#fde7e7"/><stop offset="0.531" stop-color="#fde7e7"/><stop offset="0.594" stop-color="#fcd0d0"/><stop offset="0.656" stop-color="#fbc3c3"/><stop offset="0.719" stop-color="#fa9b9b"/><stop offset="0.781" stop-color="#fa9b9b"/><stop offset="0.844" stop-color="#fcd0d0"/><stop offset="0.906" stop-color="#ffffff"/><stop offset="0.969" stop-color="#ffffff"/></linearGradient>
<rect x="163.00" y="84.90" width="162.10" height="2.75" fill="url(#g0_21)"/>
<linearGradient id="g0_22" gradientUnits="userSpaceOnUse" x1="167.0" x2="321.1" y1="0" y2="0"><stop offset="0.031" stop-color="#e5eef8"/><stop offset="0.094" stop-color="#fde7e7"/><stop offset="0.156" stop-color="#fde7e7"/><stop offset="0.219" stop-color="#fde7e7"/><stop offset="0.281" stop-color="#fbc6c6"/><stop offset="0.344" stop-color="#fde4e4"/><stop offset="0.406" stop-color="#e3eff9"/><stop offset="0.469" stop-color="#fde7e7"/><stop offset="0.531" stop-color="#fde7e7"/><stop offset="0.594" stop-color="#fbc6c6"/><stop offset="0.656" stop-color="#fbc3c3"/><stop offset="0.719" stop-color="#f98989"/><stop offset="0.781" stop-color="#f98989"/><stop offset="0.844" stop-color="#fbc6c6"/><stop offset="0.906" stop-color="#ffffff"/><stop offset="0.969" stop-color="#ffffff"/></linearGradient>
<rect x="163.00" y="87.40" width="162.10" height="2.75" fill="url(#g0_22)"/>
<linearGradient id="g0_23" gradientUnits="userSpaceOnUse" x1="167.0" x2="321.1" y1="0" y2="0"><stop offset="0.031" stop-color="#e3eff9"/><stop offset="0.094" stop-color="#f7e9eb"/><stop offset="0.156" stop-color="#fde7e7"/><stop offset="0.219" stop-color="#fde7e7"/><stop offset="0.281" stop-color="#fbcbcb"/><stop offset="0.344" stop-color="#f7e9eb"/><stop offset="0.406" stop-color="#e3eff9"/><stop offset="0.469" stop-color="#eee4e9"/><stop offset="0.531" stop-color="#e2dde6"/><stop offset="0.594" stop-color="#f6cccf"/><stop offset="0.656" stop-color="#fbcbcb"/><stop offset="0.719" stop-color="#f99292"/><stop offset="0.781" stop-color="#f99292"/><stop offset="0.844" stop-color="#fbc3c3"/><stop offset="0.906" stop-color="#f9fcfe"/><stop offset="0.969" stop-color="#ffffff"/></linearGradient>
<rect x="163.00" y="89.90" width="162.10" height="2.75" fill="url(#g0_23)"/>
<linearGradient id="g0_24" gradientUnits="userSpaceOnUse" x1="167.0" x2="321.1" y1="0" y2="0"><stop offset="0.031" stop-color="#e3eff9"/><stop offset="0.094" stop-color="#f0ebf0"/><stop offset="0.156" stop-color="#fde7e7"/><stop offset="0.219" stop-color="#fde7e7"/><stop offset="0.281" stop-color="#fcd5d5"/><stop offset="0.344" stop-color="#f0ebf0"/><stop offset="0.406" stop-color="#e3eff9"/><stop offset="0.469" stop-color="#dadfeb"/><stop offset="0.531" stop-color="#bdd0e4"/><stop offset="0.594" stop-color="#efd9de"/><stop offset="0.656" stop-color="#fcd5d5"/><stop offset="0.719" stop-color="#faa4a4"/><stop offset="0.781" stop-color="#faa4a4"/><stop offset="0.844" stop-color="#fbc3c3"/><stop offset="0.906" stop-color="#f1f7fc"/><stop offset="0.969" stop-color="#ffffff"/></linearGradient>
<rect x="163.00" y="92.40" width="162.10" height="2.75" fill="url(#g0_24)"/>
<linearGradient id="g0_25" gradientUnits="userSpaceOnUse" x1="167.0" x2="321.1" y1="0" y2="0"><stop offset="0.031" stop-color="#e3eff9"/><stop offset="0.094" stop-color="#e9edf5"/><stop offset="0.156" stop-color="#fde7e7"/><stop offset="0.219" stop-color="#fde7e7"/><stop offset="0.281" stop-color="#fddfdf"/><stop offset="0.344" stop-color="#e9edf5"/><stop offset="0.406" stop-color="#e3eff9"/><stop offset="0.469" stop-color="#c5daed"/><stop offset="0.531" stop-color="#98c3e3"/><stop offset="0.594" stop-color="#e8e6ed"/><stop offset="0.656" stop-color="#fddfdf"/><stop offset="0.719" stop-color="#fbb6b6"/><stop offset="0.781" stop-color="#fbb6b6"/><stop offset="0.844" stop-color="#fbc3c3"/><stop offset="0.906" stop-color="#e9f2fa"/><stop offset="0.969" stop-color="#ffffff"/></linearGradient>
<rect x="163.00" y="94.90" width="162.10" height="2.75" fill="url(#g0_25)"/>
<linearGradient id="g0_26" gradientUnits="userSpaceOnUse" x1="167.0" x2="321.1" y1="0" y2="0"><stop offset="0.031" stop-color="#e3eff9"/><stop offset="0.094" stop-color="#e3eff9"/><stop offset="0.156" stop-color="#fde7e7"/><stop offset="0.219" stop-color="#fde7e7"/><stop offset="0.281" stop-color="#fde7e7"/><stop offset="0.344" stop-color="#e3eff9"/><stop offset="0.406" stop-color="#e3eff9"/><stop offset="0.469" stop-color="#b6d7ef"/><stop offset="0.531" stop-color="#7db9e2"/><stop offset="0.594" stop-color="#e3eff9"/><stop offset="0.656" stop-color="#fde7e7"/><stop offset="0.719" stop-color="#fbc3c3"/><stop offset="0.781" stop-color="#fbc3c3"/><stop offset="0.844" stop-color="#fbc3c3"/><stop offset="0.906" stop-color="#e3eff9"/><stop offset="0.969" stop-color="#ffffff"/></linearGradient>
<rect x="163.00" y="97.40" width="162.10" height="2.75" fill="url(#g0_26)"/>
<linearGradient id="g0_27" gradientUnits="userSpaceOnUse" x1="167.0" x2="321.1" y1="0" y2="0"><stop offset="0.031" stop-color="#e3eff9"/><stop offset="0.094" stop-color="#e3eff9"/><stop offset="0.156" stop-color="#fde7e7"/><stop offset="0.219" stop-color="#fde7e7"/><stop offset="0.281" stop-color="#fde7e7"/><stop offset="0.344" stop-color="#e3eff9"/><stop offset="0.406" stop-color="#e3eff9"/><stop offset="0.469" stop-color="#b6d7ef"/><stop offset="0.531" stop-color="#7db9e2"/><stop offset="0.594" stop-color="#e3eff9"/><stop offset="0.656" stop-color="#fde7e7"/><stop offset="0.719" stop-color="#fbc3c3"/><stop offset="0.781" stop-color="#fbc3c3"/><stop offset="0.844" stop-color="#fbc3c3"/><stop offset="0.906" stop-color="#e3eff9"/><stop offset="0.969" stop-color="#ffffff"/></linearGradient>
<rect x="163.00" y="99.90" width="162.10" height="6.75" fill="url(#g0_27)"/>
</g>
<path d="M253.5,28.0 253.5,30.4 253.5,32.8 253.5,35.2 253.5,37.6 253.5,40.0 253.3,42.3 252.8,44.7 252.2,46.3 251.2,47.9 250.0,49.3 248.9,50.3 247.3,51.7 245.7,52.7 244.2,53.5 242.2,54.3 239.9,55.0 238.1,55.6 236.3,56.2 234.4,56.9 232.5,57.5 229.9,58.0 227.1,58.1 224.4,57.9 221.6,57.8 218.9,57.7 216.2,57.9 213.7,58.3 211.6,58.6 209.4,59.0 207.0,59.6 205.2,60.1 203.3,60.8 201.5,61.6 199.9,63.0 199.4,64.6 200.0,66.2 201.1,67.8 202.4,69.1 203.8,70.2 205.2,71.1 207.0,72.0 208.8,72.6 211.6,73.1 214.3,73.2 217.1,73.1 219.8,73.0 222.6,72.7 224.4,72.5 227.1,72.0 229.0,71.6 231.7,71.2 234.4,71.1 237.2,71.1 239.2,71.0 241.8,70.7 244.3,70.2 246.3,69.6 248.2,68.9 250.0,67.9 251.3,67.0 252.7,65.7 254.0,64.6 255.5,63.5 258.2,63.8 259.3,64.6 260.9,66.2 261.9,67.1 263.7,68.4 265.5,69.3 267.4,70.0 269.2,70.6 271.0,71.2 273.1,71.8 275.6,72.5 277.4,73.0 279.3,73.4 282.0,73.9 283.8,74.2 286.6,74.5 289.3,74.6 292.1,74.5 294.3,74.2 296.6,73.6 298.5,72.9 300.1,71.8 301.2,70.7 302.2,69.4 303.2,67.8 304.0,66.2 305.0,64.6 306.7,63.0 308.5,62.2 310.4,61.9 313.1,61.9 315.9,62.0 318.6,62.1 321.3,62.1 324.1,62.1" fill="none" stroke="#b59a55" stroke-width="0.55"/>
<path d="M297.9,28.0 297.9,30.4 297.9,32.8 297.8,35.2 297.7,37.6 297.5,39.2 297.0,41.5 295.9,43.1 293.9,43.6 292.1,43.1 289.3,42.5 286.6,43.1 285.0,43.9 283.8,44.7 282.0,45.9 280.2,46.9 278.4,47.6 276.5,47.9 273.8,48.1 271.9,47.9 269.2,47.3 267.4,46.6 265.6,45.5 264.6,44.4 263.7,42.5 263.3,40.8 263.1,38.4 263.1,36.0 263.1,33.6 263.0,31.2 263.0,28.8" fill="none" stroke="#b59a55" stroke-width="0.55"/>
<path d="M162.2,67.7 164.9,67.7 167.7,67.5 169.8,67.0 171.7,66.2 173.2,65.3 175.0,63.9 176.0,63.0 177.7,61.5 178.7,60.6 180.2,59.0 181.2,57.5 181.6,55.9 181.4,53.7 180.5,51.9 179.6,51.0 177.7,50.0 175.4,49.5 173.2,49.4 170.4,49.3 167.7,49.3 164.9,49.3 162.2,49.3" fill="none" stroke="#b59a55" stroke-width="0.55"/>
<path d="M256.7,106.8 256.7,104.4 256.5,102.0 256.1,100.4 255.3,98.8 253.8,97.2 252.7,96.4 250.9,95.5 248.3,94.8 246.3,94.8 244.5,94.9 241.8,95.5 239.9,96.0 238.1,96.7 236.3,97.7 235.1,98.8 234.2,100.4 233.7,102.8 233.6,105.2" fill="none" stroke="#b59a55" stroke-width="0.55"/>
<path d="M234.8,28.0 234.8,30.4 234.8,32.8 234.8,35.2 234.7,37.6 234.7,40.0 234.4,42.1 233.9,43.9 233.0,45.5 231.7,47.0 230.5,47.9 229.0,48.8 226.6,49.5 224.4,49.8 221.6,49.8 218.9,49.8 216.2,49.8 213.4,49.8 210.7,49.8 207.9,49.9 205.2,49.8 202.4,49.6 200.6,49.1 198.8,48.1 197.9,46.8 197.6,44.7 198.5,43.1 199.7,42.1 201.5,41.3 204.3,40.8 206.1,40.6 208.8,40.1 210.7,39.4 212.1,38.4 213.3,36.8 214.0,35.2 214.3,33.3 214.5,31.2 214.5,28.8" fill="none" stroke="#b59a55" stroke-width="0.55"/>
<path d="M284.5,28.0 284.5,30.4 284.3,32.8 283.8,35.0 283.0,36.8 282.0,38.1 281.0,39.2 279.3,40.4 277.4,40.9 275.6,40.4 274.2,39.2 273.4,37.6 272.9,35.7 272.6,33.6 272.5,31.2 272.5,28.8" fill="none" stroke="#b59a55" stroke-width="0.55"/>
<path d="M272.6,106.8 272.6,104.4 272.4,102.0 271.9,100.3 271.0,98.4 270.1,97.0 268.9,95.6 267.4,94.2 266.0,93.3 264.6,92.4 262.8,91.4 261.0,90.5 259.1,89.4 258.0,88.5 257.3,86.9 258.0,85.3 259.1,84.3 261.0,83.1 262.5,82.1 263.9,81.3 265.6,80.5 268.3,79.7 270.1,79.5 272.9,79.4 275.6,79.5 278.4,79.6 280.9,79.7 282.9,79.9 285.7,80.1 288.4,80.5 290.2,80.9 292.1,81.5 293.9,82.2 295.7,83.4 297.0,84.5 298.2,86.1 299.0,87.7 299.4,89.3 299.5,91.7 299.4,93.3 299.1,95.6 298.8,98.0 298.6,100.4 298.5,102.8 298.5,105.2" fill="none" stroke="#b59a55" stroke-width="0.55"/>
<path d="M210.7,90.5 208.2,90.1 207.8,88.5 208.8,86.9 210.4,86.1 212.5,85.7 213.8,86.9 213.1,88.5 211.6,90.0" fill="none" stroke="#b59a55" stroke-width="0.55"/>
<path d="M302.6,28.0 302.6,30.4 302.6,32.8 302.6,35.2 302.5,37.6 302.5,40.0 302.4,42.3 302.1,44.5 301.8,46.3 301.2,47.9 300.2,49.5 298.5,50.8 296.6,51.3 293.9,51.3 292.1,50.9 289.3,50.3 287.5,50.2 285.7,50.6 283.8,51.1 281.5,51.9 279.3,52.6 277.4,53.1 275.6,53.6 273.8,54.3 271.9,55.6 271.0,56.9 270.7,59.0 271.0,60.7 271.9,62.4 273.4,63.8 274.7,64.7 276.5,65.7 278.4,66.4 280.2,67.0 282.9,67.7 284.8,68.1 287.5,68.3 290.2,68.0 292.1,67.6 293.9,66.9 295.7,65.9 297.2,64.6 298.5,63.0 299.4,61.7 300.3,60.5 301.6,59.0 303.0,58.0 304.9,57.4 307.6,57.1 310.4,57.2 312.2,57.5 314.9,57.8 317.7,58.0 320.4,58.1 323.2,58.1 325.9,58.1" fill="none" stroke="#6b6b6b" stroke-width="0.45"/>
<path d="M325.9,35.9 323.2,35.8 320.4,35.3 318.8,34.4 317.9,32.8 317.6,31.2 317.5,28.8" fill="none" stroke="#6b6b6b" stroke-width="0.45"/>
<path d="M286.6,92.7 283.8,93.2 281.1,93.1 278.9,92.5 277.4,91.6 276.2,90.1 276.3,87.7 277.4,86.6 279.3,85.9 282.0,85.6 284.8,85.8 286.6,86.4 288.4,87.7 289.2,89.3 288.4,91.5 287.1,92.5" fill="none" stroke="#7a6a6a" stroke-width="0.45"/>
<path d="M325.9,43.3 323.2,43.3 320.4,43.3 318.6,43.1 315.9,42.7 314.0,42.1 312.2,41.2 310.4,40.3 308.3,40.8 307.6,42.3 307.2,44.7 307.3,47.1 307.6,48.8 308.5,50.4 310.4,51.9 312.1,52.7 314.0,53.3 315.9,53.8 318.6,54.2 320.4,54.3 323.2,54.4 325.9,54.4" fill="none" stroke="#555" stroke-width="0.4"/>
<path d="M166.1,90.7 L167.9,89.6 L169.6,87.2 L171.3,84.3 L173.0,83.7 L174.7,84.7 L175.6,82.0 L177.3,80.8 L179.8,81.4 L180.7,82.0 L180.7,83.7 L180.3,84.9 L181.6,86.1 L183.7,87.8 L184.6,87.8 L185.4,84.9 L185.4,82.0 L186.3,79.9 L187.1,83.7 L188.7,84.9 L188.8,87.2 L189.5,89.6 L191.7,91.1 L192.3,93.7 L193.4,94.2 L195.3,96.6 L195.4,100.1 L195.7,103.6" fill="none" stroke="#d6a32c" stroke-width="0.75" stroke-linejoin="round"/>
<path d="M176.4,68.6 L179.0,68.6 L179.8,71.2 L182.4,69.3 L185.0,70.4 L188.4,72.7 L189.3,74.4 L190.5,76.2 L192.7,79.7 L190.1,79.1 L189.3,77.3 L187.5,76.5 L186.3,78.2 L185.0,77.9 L183.3,76.7 L182.4,77.3 L181.6,73.2 L179.8,72.7 L178.1,72.1 L177.3,70.9 L176.4,68.6" fill="none" stroke="#d6a32c" stroke-width="0.75" stroke-linejoin="round"/>
<path d="M191.4,73.8 L193.5,73.2 L194.4,72.3 L194.0,74.4 L191.8,74.6 L191.4,73.8" fill="none" stroke="#d6a32c" stroke-width="0.75" stroke-linejoin="round"/>
<path d="M197.0,74.4 L198.2,75.6 L199.1,76.7 L200.4,77.3 L201.7,78.5 L203.0,79.9 L201.2,79.1 L198.7,77.3 L197.0,74.4" fill="none" stroke="#d6a32c" stroke-width="0.75" stroke-linejoin="round"/>
<path d="M166.6,73.8 L167.4,70.9 L167.0,67.4 L167.6,66.2 L170.9,65.7 L167.9,66.8 L168.7,68.6 L169.8,68.3 L168.3,69.7 L169.1,72.7 L167.9,72.7 L167.4,73.8" fill="none" stroke="#d6a32c" stroke-width="0.75" stroke-linejoin="round"/>
<path d="M173.4,65.1 L173.8,66.2 L174.3,68.0 L173.7,66.8 L173.4,65.1" fill="none" stroke="#d6a32c" stroke-width="0.75" stroke-linejoin="round"/>
<path d="M173.8,70.9 L176.0,71.1 L175.6,71.8 L173.8,71.6 L173.8,70.9" fill="none" stroke="#d6a32c" stroke-width="0.75" stroke-linejoin="round"/>
<path d="M167.0,77.3 L169.6,77.0 L169.6,77.7 L167.0,77.8" fill="none" stroke="#d6a32c" stroke-width="0.75" stroke-linejoin="round"/>
<path d="M170.3,79.1 L173.0,77.1 L171.3,77.7 L170.3,79.1" fill="none" stroke="#d6a32c" stroke-width="0.75" stroke-linejoin="round"/>
<path d="M167.0,45.8 L169.1,45.8 L168.7,48.7 L168.3,50.5 L170.4,52.2 L169.6,51.6 L167.9,51.3 L167.4,50.1 L167.0,48.7 L167.0,45.8" fill="none" stroke="#d6a32c" stroke-width="0.75" stroke-linejoin="round"/>
<path d="M168.7,59.2 L170.0,58.1 L171.7,56.3 L172.6,59.2 L171.7,60.4 L170.4,59.8 L168.7,59.2" fill="none" stroke="#d6a32c" stroke-width="0.75" stroke-linejoin="round"/>
<path d="M169.1,55.1 L170.4,54.0 L171.7,54.6 L170.4,55.7 L169.1,55.1" fill="none" stroke="#d6a32c" stroke-width="0.75" stroke-linejoin="round"/>
<path d="M167.0,41.7 L167.9,38.2 L168.7,38.2 L167.7,41.7" fill="none" stroke="#d6a32c" stroke-width="0.75" stroke-linejoin="round"/>
<path d="M204.7,90.7 L207.2,93.7 L206.8,93.8 L204.5,91.0" fill="none" stroke="#d6a32c" stroke-width="0.75" stroke-linejoin="round"/>
<path d="M207.2,84.9 L208.1,86.7 L208.4,88.2" fill="none" stroke="#d6a32c" stroke-width="0.75" stroke-linejoin="round"/>
<path d="M216.2,87.8 L217.1,88.6 L217.2,87.2" fill="none" stroke="#d6a32c" stroke-width="0.75" stroke-linejoin="round"/>
<path d="M235.3,41.7 L236.3,42.5 L238.1,43.1 L238.9,44.6 L239.8,44.4" fill="none" stroke="#d6a32c" stroke-width="0.75" stroke-linejoin="round"/>
<path d="M273.2,32.4 L274.4,34.7 L276.2,38.2 L278.3,40.7 L278.7,39.4 L276.6,35.9 L275.7,33.6 L275.3,32.4" fill="none" stroke="#d6a32c" stroke-width="0.75" stroke-linejoin="round"/>
<path d="M276.2,32.4 L278.3,35.9 L280.0,38.2 L281.7,41.7 L282.4,43.5 L282.6,44.6 L284.3,45.8 L286.9,47.0 L290.3,48.7 L292.0,49.3 L293.7,51.1 L297.1,52.8 L298.8,55.7 L300.6,56.9 L302.3,58.1 L304.4,58.6 L305.7,57.5 L306.1,59.2 L305.7,62.7 L304.8,65.1 L304.0,67.4 L303.1,70.3 L303.8,72.1 L303.1,74.4 L304.8,77.9 L306.5,81.4 L307.4,83.7 L309.1,86.1 L311.7,88.4 L312.4,90.7 L312.4,96.6 L311.3,103.0" fill="none" stroke="#d6a32c" stroke-width="0.75" stroke-linejoin="round"/>
<path d="M289.4,31.8 L289.4,33.0 L289.0,35.9 L288.6,38.2 L288.8,41.7 L289.4,44.1 L291.1,45.8 L293.7,45.8 L295.0,44.6 L295.4,42.9 L298.0,42.3 L298.0,45.8 L296.7,48.7 L298.8,49.0 L300.6,48.7 L301.2,49.9 L301.0,53.4 L300.7,54.6 L302.3,56.3 L304.4,56.4 L305.7,57.2 L307.0,55.1 L308.3,54.6 L310.0,53.4 L311.3,54.6 L312.5,55.1 L316.8,55.1 L319.4,55.1 L322.0,55.1" fill="none" stroke="#d6a32c" stroke-width="0.75" stroke-linejoin="round"/>
<path d="M301.4,31.8 L301.8,34.7 L302.7,35.9 L303.0,37.9 L303.8,37.6 L304.0,35.9 L303.1,31.8" fill="none" stroke="#d6a32c" stroke-width="0.75" stroke-linejoin="round"/>
<path d="M299.7,41.7 L301.4,40.6 L304.0,40.6 L306.5,42.3 L308.9,43.8 L307.0,44.2 L304.8,42.9 L302.3,41.7 L299.7,41.7" fill="none" stroke="#d6a32c" stroke-width="0.75" stroke-linejoin="round"/>
<path d="M310.4,44.3 L313.8,45.2 L313.4,46.0 L310.8,46.4 L309.5,45.8 L310.4,44.3" fill="none" stroke="#d6a32c" stroke-width="0.75" stroke-linejoin="round"/>
<path d="M305.7,45.8 L307.1,46.2 L306.1,46.6 L305.7,45.8" fill="none" stroke="#d6a32c" stroke-width="0.75" stroke-linejoin="round"/>
<path d="M314.9,45.8 L316.4,45.9 L316.2,46.4 L314.9,46.3" fill="none" stroke="#d6a32c" stroke-width="0.75" stroke-linejoin="round"/>
</g>
<rect x="167.0" y="32.4" width="154.1" height="70.0" fill="none" stroke="#666" stroke-width="0.9"/>
<text x="181.3" y="30.7" font-family="Liberation Mono" font-weight="bold" font-size="6.1" fill="#505050" textLength="98.5" lengthAdjust="spacingAndGlyphs">SST Anomaly ERSSTv5 Date= 198409</text>
<g font-family="Liberation Sans" font-weight="bold" fill="#1e1e1e" stroke="#1e1e1e" stroke-width="0.45">
<text x="165.8" y="33.6" font-size="3.6" text-anchor="end" textLength="5.2" lengthAdjust="spacingAndGlyphs">30N</text>
<text x="165.8" y="39.5" font-size="3.6" text-anchor="end" textLength="5.2" lengthAdjust="spacingAndGlyphs">25N</text>
<text x="165.8" y="45.3" font-size="3.6" text-anchor="end" textLength="5.2" lengthAdjust="spacingAndGlyphs">20N</text>
<text x="165.8" y="51.1" font-size="3.6" text-anchor="end" textLength="5.2" lengthAdjust="spacingAndGlyphs">15N</text>
<text x="165.8" y="57.0" font-size="3.6" text-anchor="end" textLength="5.2" lengthAdjust="spacingAndGlyphs">10N</text>
<text x="165.8" y="62.8" font-size="3.6" text-anchor="end" textLength="3.6" lengthAdjust="spacingAndGlyphs">5N</text>
<text x="165.8" y="68.7" font-size="3.6" text-anchor="end" textLength="3.6" lengthAdjust="spacingAndGlyphs">EQ</text>
<text x="165.8" y="74.5" font-size="3.6" text-anchor="end" textLength="3.6" lengthAdjust="spacingAndGlyphs">5S</text>
<text x="165.8" y="80.3" font-size="3.6" text-anchor="end" textLength="5.2" lengthAdjust="spacingAndGlyphs">10S</text>
<text x="165.8" y="86.2" font-size="3.6" text-anchor="end" textLength="5.2" lengthAdjust="spacingAndGlyphs">15S</text>
<text x="165.8" y="92.0" font-size="3.6" text-anchor="end" textLength="5.2" lengthAdjust="spacingAndGlyphs">20S</text>
<text x="165.8" y="97.8" font-size="3.6" text-anchor="end" textLength="5.2" lengthAdjust="spacingAndGlyphs">25S</text>
<text x="165.8" y="103.7" font-size="3.6" text-anchor="end" textLength="5.2" lengthAdjust="spacingAndGlyphs">30S</text>
<text x="167.0" y="107.1" font-size="3.7" text-anchor="middle" textLength="5.6" lengthAdjust="spacingAndGlyphs">120E</text>
<text x="184.1" y="107.1" font-size="3.7" text-anchor="middle" textLength="5.6" lengthAdjust="spacingAndGlyphs">140E</text>
<text x="201.2" y="107.1" font-size="3.7" text-anchor="middle" textLength="5.6" lengthAdjust="spacingAndGlyphs">160E</text>
<text x="218.4" y="107.1" font-size="3.7" text-anchor="middle" textLength="4.6" lengthAdjust="spacingAndGlyphs">180</text>
<text x="235.5" y="107.1" font-size="3.7" text-anchor="middle" textLength="5.6" lengthAdjust="spacingAndGlyphs">160W</text>
<text x="252.6" y="107.1" font-size="3.7" text-anchor="middle" textLength="5.6" lengthAdjust="spacingAndGlyphs">140W</text>
<text x="269.7" y="107.1" font-size="3.7" text-anchor="middle" textLength="5.6" lengthAdjust="spacingAndGlyphs">120W</text>
<text x="286.9" y="107.1" font-size="3.7" text-anchor="middle" textLength="5.6" lengthAdjust="spacingAndGlyphs">100W</text>
<text x="304.0" y="107.1" font-size="3.7" text-anchor="middle" textLength="4.6" lengthAdjust="spacingAndGlyphs">80W</text>
<text x="321.1" y="107.1" font-size="3.7" text-anchor="middle" textLength="4.6" lengthAdjust="spacingAndGlyphs">60W</text>
</g>
<text x="174.0" y="47.2" font-family="Liberation Sans" font-weight="bold" font-size="12.6" fill="#000" stroke="#000" stroke-width="0.25" textLength="80.3" lengthAdjust="spacingAndGlyphs">Nor 3 198409</text>
<rect x="331.5" y="39.4" width="173.6" height="92.6" fill="#fff"/>
<clipPath id="cp1"><rect x="340.0" y="54.4" width="154.6" height="69.6"/></clipPath>
<g clip-path="url(#cp1)">
<rect x="340.0" y="54.4" width="154.6" height="69.6" fill="#fdf7f7"/>
<g filter="url(#blg)">
<linearGradient id="g1_0" gradientUnits="userSpaceOnUse" x1="340.0" x2="494.6" y1="0" y2="0"><stop offset="0.031" stop-color="#fbc3c3"/><stop offset="0.094" stop-color="#fde7e7"/><stop offset="0.156" stop-color="#fde7e7"/><stop offset="0.219" stop-color="#7db9e2"/><stop offset="0.281" stop-color="#449bd5"/><stop offset="0.344" stop-color="#7db9e2"/><stop offset="0.406" stop-color="#b6d7ef"/><stop offset="0.469" stop-color="#e3eff9"/><stop offset="0.531" stop-color="#fde7e7"/><stop offset="0.594" stop-color="#fde7e7"/><stop offset="0.656" stop-color="#fde7e7"/><stop offset="0.719" stop-color="#449bd5"/><stop offset="0.781" stop-color="#ffffff"/><stop offset="0.844" stop-color="#ffffff"/><stop offset="0.906" stop-color="#e3eff9"/><stop offset="0.969" stop-color="#b6d7ef"/></linearGradient>
<rect x="336.00" y="50.40" width="162.60" height="6.74" fill="url(#g1_0)"/>
<linearGradient id="g1_1" gradientUnits="userSpaceOnUse" x1="340.0" x2="494.6" y1="0" y2="0"><stop offset="0.031" stop-color="#fbc3c3"/><stop offset="0.094" stop-color="#fde7e7"/><stop offset="0.156" stop-color="#fde7e7"/><stop offset="0.219" stop-color="#7db9e2"/><stop offset="0.281" stop-color="#449bd5"/><stop offset="0.344" stop-color="#7db9e2"/><stop offset="0.406" stop-color="#b6d7ef"/><stop offset="0.469" stop-color="#e3eff9"/><stop offset="0.531" stop-color="#fde7e7"/><stop offset="0.594" stop-color="#fde7e7"/><stop offset="0.656" stop-color="#fde7e7"/><stop offset="0.719" stop-color="#449bd5"/><stop offset="0.781" stop-color="#ffffff"/><stop offset="0.844" stop-color="#ffffff"/><stop offset="0.906" stop-color="#e3eff9"/><stop offset="0.969" stop-color="#b6d7ef"/></linearGradient>
<rect x="336.00" y="56.89" width="162.60" height="2.74" fill="url(#g1_1)"/>
<linearGradient id="g1_2" gradientUnits="userSpaceOnUse" x1="340.0" x2="494.6" y1="0" y2="0"><stop offset="0.031" stop-color="#fbcbcb"/><stop offset="0.094" stop-color="#fde7e7"/><stop offset="0.156" stop-color="#f7e9eb"/><stop offset="0.219" stop-color="#89bfe5"/><stop offset="0.281" stop-color="#66addd"/><stop offset="0.344" stop-color="#93c5e7"/><stop offset="0.406" stop-color="#c0dcf1"/><stop offset="0.469" stop-color="#e3eff9"/><stop offset="0.531" stop-color="#fde3e3"/><stop offset="0.594" stop-color="#fde3e3"/><stop offset="0.656" stop-color="#fddfdf"/><stop offset="0.719" stop-color="#6ba7d5"/><stop offset="0.781" stop-color="#eff6fc"/><stop offset="0.844" stop-color="#ffffff"/><stop offset="0.906" stop-color="#d9eaf7"/><stop offset="0.969" stop-color="#b6d7ef"/></linearGradient>
<rect x="336.00" y="59.37" width="162.60" height="2.74" fill="url(#g1_2)"/>
<linearGradient id="g1_3" gradientUnits="userSpaceOnUse" x1="340.0" x2="494.6" y1="0" y2="0"><stop offset="0.031" stop-color="#fcd5d5"/><stop offset="0.094" stop-color="#fde7e7"/><stop offset="0.156" stop-color="#f0ebf0"/><stop offset="0.219" stop-color="#9ac8e8"/><stop offset="0.281" stop-color="#94c5e7"/><stop offset="0.344" stop-color="#b0d4ee"/><stop offset="0.406" stop-color="#cce3f4"/><stop offset="0.469" stop-color="#e3eff9"/><stop offset="0.531" stop-color="#fcdede"/><stop offset="0.594" stop-color="#fcdede"/><stop offset="0.656" stop-color="#fcd5d5"/><stop offset="0.719" stop-color="#a0b8d4"/><stop offset="0.781" stop-color="#daebf7"/><stop offset="0.844" stop-color="#ffffff"/><stop offset="0.906" stop-color="#cce3f4"/><stop offset="0.969" stop-color="#b6d7ef"/></linearGradient>
<rect x="336.00" y="61.86" width="162.60" height="2.74" fill="url(#g1_3)"/>
<linearGradient id="g1_4" gradientUnits="userSpaceOnUse" x1="340.0" x2="494.6" y1="0" y2="0"><stop offset="0.031" stop-color="#fddfdf"/><stop offset="0.094" stop-color="#fde7e7"/><stop offset="0.156" stop-color="#e9edf5"/><stop offset="0.219" stop-color="#aad1ec"/><stop offset="0.281" stop-color="#c1ddf1"/><stop offset="0.344" stop-color="#cde3f4"/><stop offset="0.406" stop-color="#d9eaf7"/><stop offset="0.469" stop-color="#e3eff9"/><stop offset="0.531" stop-color="#fbd8d8"/><stop offset="0.594" stop-color="#fbd8d8"/><stop offset="0.656" stop-color="#fbcbcb"/><stop offset="0.719" stop-color="#d4c8d4"/><stop offset="0.781" stop-color="#c6e0f2"/><stop offset="0.844" stop-color="#ffffff"/><stop offset="0.906" stop-color="#c0dcf1"/><stop offset="0.969" stop-color="#b6d7ef"/></linearGradient>
<rect x="336.00" y="64.34" width="162.60" height="2.74" fill="url(#g1_4)"/>
<linearGradient id="g1_5" gradientUnits="userSpaceOnUse" x1="340.0" x2="494.6" y1="0" y2="0"><stop offset="0.031" stop-color="#fde7e7"/><stop offset="0.094" stop-color="#fbe8e8"/><stop offset="0.156" stop-color="#e3eff9"/><stop offset="0.219" stop-color="#bbd7ed"/><stop offset="0.281" stop-color="#e5edf6"/><stop offset="0.344" stop-color="#e5edf6"/><stop offset="0.406" stop-color="#e5edf6"/><stop offset="0.469" stop-color="#e5edf6"/><stop offset="0.531" stop-color="#fbd4d4"/><stop offset="0.594" stop-color="#fbd3d3"/><stop offset="0.656" stop-color="#fbc3c3"/><stop offset="0.719" stop-color="#fbd4d4"/><stop offset="0.781" stop-color="#b9d9f0"/><stop offset="0.844" stop-color="#fdfeff"/><stop offset="0.906" stop-color="#bbdaf0"/><stop offset="0.969" stop-color="#b6d7ef"/></linearGradient>
<rect x="336.00" y="66.83" width="162.60" height="2.74" fill="url(#g1_5)"/>
<linearGradient id="g1_6" gradientUnits="userSpaceOnUse" x1="340.0" x2="494.6" y1="0" y2="0"><stop offset="0.031" stop-color="#fde7e7"/><stop offset="0.094" stop-color="#f4eaed"/><stop offset="0.156" stop-color="#e3eff9"/><stop offset="0.219" stop-color="#cfd6e5"/><stop offset="0.281" stop-color="#ece5ec"/><stop offset="0.344" stop-color="#ece5ec"/><stop offset="0.406" stop-color="#ece5ec"/><stop offset="0.469" stop-color="#ece5ec"/><stop offset="0.531" stop-color="#fbd4d4"/><stop offset="0.594" stop-color="#fbcece"/><stop offset="0.656" stop-color="#fbc3c3"/><stop offset="0.719" stop-color="#fbd4d4"/><stop offset="0.781" stop-color="#c6e0f3"/><stop offset="0.844" stop-color="#f5f9fd"/><stop offset="0.906" stop-color="#d0e5f5"/><stop offset="0.969" stop-color="#b6d7ef"/></linearGradient>
<rect x="336.00" y="69.31" width="162.60" height="2.74" fill="url(#g1_6)"/>
<linearGradient id="g1_7" gradientUnits="userSpaceOnUse" x1="340.0" x2="494.6" y1="0" y2="0"><stop offset="0.031" stop-color="#fde7e7"/><stop offset="0.094" stop-color="#ececf3"/><stop offset="0.156" stop-color="#e3eff9"/><stop offset="0.219" stop-color="#e2d5de"/><stop offset="0.281" stop-color="#f2dee1"/><stop offset="0.344" stop-color="#f2dee1"/><stop offset="0.406" stop-color="#f2dee1"/><stop offset="0.469" stop-color="#f2dee1"/><stop offset="0.531" stop-color="#fbd4d4"/><stop offset="0.594" stop-color="#fbc9c9"/><stop offset="0.656" stop-color="#fbc3c3"/><stop offset="0.719" stop-color="#fbd4d4"/><stop offset="0.781" stop-color="#d3e6f5"/><stop offset="0.844" stop-color="#edf5fb"/><stop offset="0.906" stop-color="#e5f1f9"/><stop offset="0.969" stop-color="#b6d7ef"/></linearGradient>
<rect x="336.00" y="71.80" width="162.60" height="2.74" fill="url(#g1_7)"/>
<linearGradient id="g1_8" gradientUnits="userSpaceOnUse" x1="340.0" x2="494.6" y1="0" y2="0"><stop offset="0.031" stop-color="#fde7e7"/><stop offset="0.094" stop-color="#e5eef8"/><stop offset="0.156" stop-color="#e3eff9"/><stop offset="0.219" stop-color="#f6d4d6"/><stop offset="0.281" stop-color="#f9d6d7"/><stop offset="0.344" stop-color="#f9d6d7"/><stop offset="0.406" stop-color="#f9d6d7"/><stop offset="0.469" stop-color="#f9d6d7"/><stop offset="0.531" stop-color="#fbd4d4"/><stop offset="0.594" stop-color="#fbc4c4"/><stop offset="0.656" stop-color="#fbc3c3"/><stop offset="0.719" stop-color="#fbd4d4"/><stop offset="0.781" stop-color="#e0edf8"/><stop offset="0.844" stop-color="#e5f0f9"/><stop offset="0.906" stop-color="#fafcfe"/><stop offset="0.969" stop-color="#b6d7ef"/></linearGradient>
<rect x="336.00" y="74.29" width="162.60" height="2.74" fill="url(#g1_8)"/>
<linearGradient id="g1_9" gradientUnits="userSpaceOnUse" x1="340.0" x2="494.6" y1="0" y2="0"><stop offset="0.031" stop-color="#eee4e9"/><stop offset="0.094" stop-color="#e3eff9"/><stop offset="0.156" stop-color="#e3eff9"/><stop offset="0.219" stop-color="#fbd4d4"/><stop offset="0.281" stop-color="#fbd4d4"/><stop offset="0.344" stop-color="#fbd0d0"/><stop offset="0.406" stop-color="#fbd4d4"/><stop offset="0.469" stop-color="#fbd0d0"/><stop offset="0.531" stop-color="#fbd4d4"/><stop offset="0.594" stop-color="#fbc3c3"/><stop offset="0.656" stop-color="#fbc7c7"/><stop offset="0.719" stop-color="#ecd5da"/><stop offset="0.781" stop-color="#cde3f4"/><stop offset="0.844" stop-color="#c1ddf1"/><stop offset="0.906" stop-color="#ffffff"/><stop offset="0.969" stop-color="#c6e0f2"/></linearGradient>
<rect x="336.00" y="76.77" width="162.60" height="2.74" fill="url(#g1_9)"/>
<linearGradient id="g1_10" gradientUnits="userSpaceOnUse" x1="340.0" x2="494.6" y1="0" y2="0"><stop offset="0.031" stop-color="#dadfeb"/><stop offset="0.094" stop-color="#e3eff9"/><stop offset="0.156" stop-color="#e3eff9"/><stop offset="0.219" stop-color="#fbd4d4"/><stop offset="0.281" stop-color="#fbd4d4"/><stop offset="0.344" stop-color="#fbcccc"/><stop offset="0.406" stop-color="#fbd4d4"/><stop offset="0.469" stop-color="#fbcccc"/><stop offset="0.531" stop-color="#fbd4d4"/><stop offset="0.594" stop-color="#fbc3c3"/><stop offset="0.656" stop-color="#fbcccc"/><stop offset="0.719" stop-color="#d8d6e2"/><stop offset="0.781" stop-color="#b0d4ee"/><stop offset="0.844" stop-color="#94c5e7"/><stop offset="0.906" stop-color="#ffffff"/><stop offset="0.969" stop-color="#daebf7"/></linearGradient>
<rect x="336.00" y="79.26" width="162.60" height="2.74" fill="url(#g1_10)"/>
<linearGradient id="g1_11" gradientUnits="userSpaceOnUse" x1="340.0" x2="494.6" y1="0" y2="0"><stop offset="0.031" stop-color="#c5daed"/><stop offset="0.094" stop-color="#e3eff9"/><stop offset="0.156" stop-color="#e3eff9"/><stop offset="0.219" stop-color="#fbd4d4"/><stop offset="0.281" stop-color="#fbd4d4"/><stop offset="0.344" stop-color="#fbc7c7"/><stop offset="0.406" stop-color="#fbd4d4"/><stop offset="0.469" stop-color="#fbc7c7"/><stop offset="0.531" stop-color="#fbd4d4"/><stop offset="0.594" stop-color="#fbc3c3"/><stop offset="0.656" stop-color="#fbd0d0"/><stop offset="0.719" stop-color="#c5d6e9"/><stop offset="0.781" stop-color="#93c5e7"/><stop offset="0.844" stop-color="#66addd"/><stop offset="0.906" stop-color="#ffffff"/><stop offset="0.969" stop-color="#eff6fc"/></linearGradient>
<rect x="336.00" y="81.74" width="162.60" height="2.74" fill="url(#g1_11)"/>
<linearGradient id="g1_12" gradientUnits="userSpaceOnUse" x1="340.0" x2="494.6" y1="0" y2="0"><stop offset="0.031" stop-color="#b6d7ef"/><stop offset="0.094" stop-color="#e3eff9"/><stop offset="0.156" stop-color="#e3eff9"/><stop offset="0.219" stop-color="#fbd4d4"/><stop offset="0.281" stop-color="#fbd4d4"/><stop offset="0.344" stop-color="#fbc3c3"/><stop offset="0.406" stop-color="#fbd4d4"/><stop offset="0.469" stop-color="#fbc4c4"/><stop offset="0.531" stop-color="#fbd3d3"/><stop offset="0.594" stop-color="#fbc4c4"/><stop offset="0.656" stop-color="#fbd4d4"/><stop offset="0.719" stop-color="#b6d7ef"/><stop offset="0.781" stop-color="#79b7e1"/><stop offset="0.844" stop-color="#4199d4"/><stop offset="0.906" stop-color="#ffffff"/><stop offset="0.969" stop-color="#ffffff"/></linearGradient>
<rect x="336.00" y="84.23" width="162.60" height="2.74" fill="url(#g1_12)"/>
<linearGradient id="g1_13" gradientUnits="userSpaceOnUse" x1="340.0" x2="494.6" y1="0" y2="0"><stop offset="0.031" stop-color="#b6d7ef"/><stop offset="0.094" stop-color="#e3eff9"/><stop offset="0.156" stop-color="#e3eff9"/><stop offset="0.219" stop-color="#fbd4d4"/><stop offset="0.281" stop-color="#fbd4d4"/><stop offset="0.344" stop-color="#fbc3c3"/><stop offset="0.406" stop-color="#fbd4d4"/><stop offset="0.469" stop-color="#fbc9c9"/><stop offset="0.531" stop-color="#fbcece"/><stop offset="0.594" stop-color="#fbc9c9"/><stop offset="0.656" stop-color="#fbd4d4"/><stop offset="0.719" stop-color="#b6d7ef"/><stop offset="0.781" stop-color="#69aedd"/><stop offset="0.844" stop-color="#3690cf"/><stop offset="0.906" stop-color="#ffffff"/><stop offset="0.969" stop-color="#ffffff"/></linearGradient>
<rect x="336.00" y="86.71" width="162.60" height="2.74" fill="url(#g1_13)"/>
<linearGradient id="g1_14" gradientUnits="userSpaceOnUse" x1="340.0" x2="494.6" y1="0" y2="0"><stop offset="0.031" stop-color="#b6d7ef"/><stop offset="0.094" stop-color="#e3eff9"/><stop offset="0.156" stop-color="#e3eff9"/><stop offset="0.219" stop-color="#fbd4d4"/><stop offset="0.281" stop-color="#fbd4d4"/><stop offset="0.344" stop-color="#fbc3c3"/><stop offset="0.406" stop-color="#fbd4d4"/><stop offset="0.469" stop-color="#fbcece"/><stop offset="0.531" stop-color="#fbc9c9"/><stop offset="0.594" stop-color="#fbcece"/><stop offset="0.656" stop-color="#fbd4d4"/><stop offset="0.719" stop-color="#b6d7ef"/><stop offset="0.781" stop-color="#58a6da"/><stop offset="0.844" stop-color="#2b88ca"/><stop offset="0.906" stop-color="#ffffff"/><stop offset="0.969" stop-color="#ffffff"/></linearGradient>
<rect x="336.00" y="89.20" width="162.60" height="2.74" fill="url(#g1_14)"/>
<linearGradient id="g1_15" gradientUnits="userSpaceOnUse" x1="340.0" x2="494.6" y1="0" y2="0"><stop offset="0.031" stop-color="#b6d7ef"/><stop offset="0.094" stop-color="#e3eff9"/><stop offset="0.156" stop-color="#e3eff9"/><stop offset="0.219" stop-color="#fbd4d4"/><stop offset="0.281" stop-color="#fbd4d4"/><stop offset="0.344" stop-color="#fbc3c3"/><stop offset="0.406" stop-color="#fbd4d4"/><stop offset="0.469" stop-color="#fbd3d3"/><stop offset="0.531" stop-color="#fbc4c4"/><stop offset="0.594" stop-color="#fbd3d3"/><stop offset="0.656" stop-color="#fbd4d4"/><stop offset="0.719" stop-color="#b6d7ef"/><stop offset="0.781" stop-color="#489dd6"/><stop offset="0.844" stop-color="#207fc5"/><stop offset="0.906" stop-color="#ffffff"/><stop offset="0.969" stop-color="#ffffff"/></linearGradient>
<rect x="336.00" y="91.69" width="162.60" height="2.74" fill="url(#g1_15)"/>
<linearGradient id="g1_16" gradientUnits="userSpaceOnUse" x1="340.0" x2="494.6" y1="0" y2="0"><stop offset="0.031" stop-color="#aad1ec"/><stop offset="0.094" stop-color="#d9eaf7"/><stop offset="0.156" stop-color="#d9eaf7"/><stop offset="0.219" stop-color="#f6dadc"/><stop offset="0.281" stop-color="#fbd8d8"/><stop offset="0.344" stop-color="#fbcbcb"/><stop offset="0.406" stop-color="#fbd8d8"/><stop offset="0.469" stop-color="#fbd8d8"/><stop offset="0.531" stop-color="#fbcbcb"/><stop offset="0.594" stop-color="#fbd8d8"/><stop offset="0.656" stop-color="#fbd8d8"/><stop offset="0.719" stop-color="#c0dcf1"/><stop offset="0.781" stop-color="#5ca8db"/><stop offset="0.844" stop-color="#2583c8"/><stop offset="0.906" stop-color="#ffffff"/><stop offset="0.969" stop-color="#ffffff"/></linearGradient>
<rect x="336.00" y="94.17" width="162.60" height="2.74" fill="url(#g1_16)"/>
<linearGradient id="g1_17" gradientUnits="userSpaceOnUse" x1="340.0" x2="494.6" y1="0" y2="0"><stop offset="0.031" stop-color="#9ac8e8"/><stop offset="0.094" stop-color="#cce3f4"/><stop offset="0.156" stop-color="#cce3f4"/><stop offset="0.219" stop-color="#efe2e6"/><stop offset="0.281" stop-color="#fcdede"/><stop offset="0.344" stop-color="#fcd5d5"/><stop offset="0.406" stop-color="#fcdede"/><stop offset="0.469" stop-color="#fcdede"/><stop offset="0.531" stop-color="#fcd5d5"/><stop offset="0.594" stop-color="#fcdede"/><stop offset="0.656" stop-color="#fcdede"/><stop offset="0.719" stop-color="#cce3f4"/><stop offset="0.781" stop-color="#7db9e2"/><stop offset="0.844" stop-color="#308ccc"/><stop offset="0.906" stop-color="#ffffff"/><stop offset="0.969" stop-color="#ffffff"/></linearGradient>
<rect x="336.00" y="96.66" width="162.60" height="2.74" fill="url(#g1_17)"/>
<linearGradient id="g1_18" gradientUnits="userSpaceOnUse" x1="340.0" x2="494.6" y1="0" y2="0"><stop offset="0.031" stop-color="#89bfe5"/><stop offset="0.094" stop-color="#c0dcf1"/><stop offset="0.156" stop-color="#c0dcf1"/><stop offset="0.219" stop-color="#e8e9f1"/><stop offset="0.281" stop-color="#fde3e3"/><stop offset="0.344" stop-color="#fddfdf"/><stop offset="0.406" stop-color="#fde3e3"/><stop offset="0.469" stop-color="#fde3e3"/><stop offset="0.531" stop-color="#fddfdf"/><stop offset="0.594" stop-color="#fde3e3"/><stop offset="0.656" stop-color="#fde3e3"/><stop offset="0.719" stop-color="#d9eaf7"/><stop offset="0.781" stop-color="#9ecae9"/><stop offset="0.844" stop-color="#3c95d1"/><stop offset="0.906" stop-color="#ffffff"/><stop offset="0.969" stop-color="#ffffff"/></linearGradient>
<rect x="336.00" y="99.14" width="162.60" height="2.74" fill="url(#g1_18)"/>
<linearGradient id="g1_19" gradientUnits="userSpaceOnUse" x1="340.0" x2="494.6" y1="0" y2="0"><stop offset="0.031" stop-color="#84bde4"/><stop offset="0.094" stop-color="#b6d7ef"/><stop offset="0.156" stop-color="#b2d5ee"/><stop offset="0.219" stop-color="#d8e9f6"/><stop offset="0.281" stop-color="#eddfe4"/><stop offset="0.344" stop-color="#f0e2e6"/><stop offset="0.406" stop-color="#f4e4e7"/><stop offset="0.469" stop-color="#f8e6e8"/><stop offset="0.531" stop-color="#fbe8e8"/><stop offset="0.594" stop-color="#fde7e7"/><stop offset="0.656" stop-color="#fde7e7"/><stop offset="0.719" stop-color="#e3eff9"/><stop offset="0.781" stop-color="#b9d9f0"/><stop offset="0.844" stop-color="#4c9fd7"/><stop offset="0.906" stop-color="#ffffff"/><stop offset="0.969" stop-color="#ffffff"/></linearGradient>
<rect x="336.00" y="101.63" width="162.60" height="2.74" fill="url(#g1_19)"/>
<linearGradient id="g1_20" gradientUnits="userSpaceOnUse" x1="340.0" x2="494.6" y1="0" y2="0"><stop offset="0.031" stop-color="#a1ccea"/><stop offset="0.094" stop-color="#b6d7ef"/><stop offset="0.156" stop-color="#a2ccea"/><stop offset="0.219" stop-color="#aad1ec"/><stop offset="0.281" stop-color="#adc1da"/><stop offset="0.344" stop-color="#bbcce1"/><stop offset="0.406" stop-color="#cfd7e5"/><stop offset="0.469" stop-color="#e4e1ea"/><stop offset="0.531" stop-color="#f4eaed"/><stop offset="0.594" stop-color="#fde7e7"/><stop offset="0.656" stop-color="#fde7e7"/><stop offset="0.719" stop-color="#e3eff9"/><stop offset="0.781" stop-color="#c6e0f3"/><stop offset="0.844" stop-color="#6db0de"/><stop offset="0.906" stop-color="#ffffff"/><stop offset="0.969" stop-color="#ffffff"/></linearGradient>
<rect x="336.00" y="104.11" width="162.60" height="2.74" fill="url(#g1_20)"/>
<linearGradient id="g1_21" gradientUnits="userSpaceOnUse" x1="340.0" x2="494.6" y1="0" y2="0"><stop offset="0.031" stop-color="#bfdcf1"/><stop offset="0.094" stop-color="#b6d7ef"/><stop offset="0.156" stop-color="#91c4e7"/><stop offset="0.219" stop-color="#7db9e2"/><stop offset="0.281" stop-color="#6da3d0"/><stop offset="0.344" stop-color="#86b6db"/><stop offset="0.406" stop-color="#abc9e4"/><stop offset="0.469" stop-color="#cfddec"/><stop offset="0.531" stop-color="#ececf3"/><stop offset="0.594" stop-color="#fde7e7"/><stop offset="0.656" stop-color="#fde7e7"/><stop offset="0.719" stop-color="#e3eff9"/><stop offset="0.781" stop-color="#d3e6f5"/><stop offset="0.844" stop-color="#8dc2e6"/><stop offset="0.906" stop-color="#ffffff"/><stop offset="0.969" stop-color="#ffffff"/></linearGradient>
<rect x="336.00" y="106.60" width="162.60" height="2.74" fill="url(#g1_21)"/>
<linearGradient id="g1_22" gradientUnits="userSpaceOnUse" x1="340.0" x2="494.6" y1="0" y2="0"><stop offset="0.031" stop-color="#dcebf7"/><stop offset="0.094" stop-color="#b6d7ef"/><stop offset="0.156" stop-color="#81bbe3"/><stop offset="0.219" stop-color="#4fa1d8"/><stop offset="0.281" stop-color="#2d85c6"/><stop offset="0.344" stop-color="#51a0d6"/><stop offset="0.406" stop-color="#86bce2"/><stop offset="0.469" stop-color="#bbd8ee"/><stop offset="0.531" stop-color="#e5eef8"/><stop offset="0.594" stop-color="#fde7e7"/><stop offset="0.656" stop-color="#fde7e7"/><stop offset="0.719" stop-color="#e3eff9"/><stop offset="0.781" stop-color="#e0edf8"/><stop offset="0.844" stop-color="#aed3ed"/><stop offset="0.906" stop-color="#ffffff"/><stop offset="0.969" stop-color="#ffffff"/></linearGradient>
<rect x="336.00" y="109.09" width="162.60" height="2.74" fill="url(#g1_22)"/>
<linearGradient id="g1_23" gradientUnits="userSpaceOnUse" x1="340.0" x2="494.6" y1="0" y2="0"><stop offset="0.031" stop-color="#e3eff9"/><stop offset="0.094" stop-color="#c0dcf1"/><stop offset="0.156" stop-color="#89bfe5"/><stop offset="0.219" stop-color="#449bd5"/><stop offset="0.281" stop-color="#1d7dc4"/><stop offset="0.344" stop-color="#3c95d1"/><stop offset="0.406" stop-color="#68acdc"/><stop offset="0.469" stop-color="#95c4e6"/><stop offset="0.531" stop-color="#c1ddf1"/><stop offset="0.594" stop-color="#d5d7e3"/><stop offset="0.656" stop-color="#e2dde6"/><stop offset="0.719" stop-color="#e3eff9"/><stop offset="0.781" stop-color="#e3eff9"/><stop offset="0.844" stop-color="#c5daed"/><stop offset="0.906" stop-color="#ffffff"/><stop offset="0.969" stop-color="#ffffff"/></linearGradient>
<rect x="336.00" y="111.57" width="162.60" height="2.74" fill="url(#g1_23)"/>
<linearGradient id="g1_24" gradientUnits="userSpaceOnUse" x1="340.0" x2="494.6" y1="0" y2="0"><stop offset="0.031" stop-color="#e3eff9"/><stop offset="0.094" stop-color="#cce3f4"/><stop offset="0.156" stop-color="#9ac8e8"/><stop offset="0.219" stop-color="#449bd5"/><stop offset="0.281" stop-color="#1d7dc4"/><stop offset="0.344" stop-color="#308ccc"/><stop offset="0.406" stop-color="#4d9bd3"/><stop offset="0.469" stop-color="#6aaada"/><stop offset="0.531" stop-color="#94c5e7"/><stop offset="0.594" stop-color="#a0c1de"/><stop offset="0.656" stop-color="#bdd0e4"/><stop offset="0.719" stop-color="#e3eff9"/><stop offset="0.781" stop-color="#e3eff9"/><stop offset="0.844" stop-color="#dadfeb"/><stop offset="0.906" stop-color="#ffffff"/><stop offset="0.969" stop-color="#ffffff"/></linearGradient>
<rect x="336.00" y="114.06" width="162.60" height="2.74" fill="url(#g1_24)"/>
<linearGradient id="g1_25" gradientUnits="userSpaceOnUse" x1="340.0" x2="494.6" y1="0" y2="0"><stop offset="0.031" stop-color="#e3eff9"/><stop offset="0.094" stop-color="#d9eaf7"/><stop offset="0.156" stop-color="#aad1ec"/><stop offset="0.219" stop-color="#449bd5"/><stop offset="0.281" stop-color="#1d7dc4"/><stop offset="0.344" stop-color="#2583c8"/><stop offset="0.406" stop-color="#328aca"/><stop offset="0.469" stop-color="#3e90cd"/><stop offset="0.531" stop-color="#66addd"/><stop offset="0.594" stop-color="#6cabd9"/><stop offset="0.656" stop-color="#98c3e3"/><stop offset="0.719" stop-color="#e3eff9"/><stop offset="0.781" stop-color="#e3eff9"/><stop offset="0.844" stop-color="#eee4e9"/><stop offset="0.906" stop-color="#ffffff"/><stop offset="0.969" stop-color="#ffffff"/></linearGradient>
<rect x="336.00" y="116.54" width="162.60" height="2.74" fill="url(#g1_25)"/>
<linearGradient id="g1_26" gradientUnits="userSpaceOnUse" x1="340.0" x2="494.6" y1="0" y2="0"><stop offset="0.031" stop-color="#e3eff9"/><stop offset="0.094" stop-color="#e3eff9"/><stop offset="0.156" stop-color="#b6d7ef"/><stop offset="0.219" stop-color="#449bd5"/><stop offset="0.281" stop-color="#1d7dc4"/><stop offset="0.344" stop-color="#1d7dc4"/><stop offset="0.406" stop-color="#1d7dc4"/><stop offset="0.469" stop-color="#1d7dc4"/><stop offset="0.531" stop-color="#449bd5"/><stop offset="0.594" stop-color="#449bd5"/><stop offset="0.656" stop-color="#7db9e2"/><stop offset="0.719" stop-color="#e3eff9"/><stop offset="0.781" stop-color="#e3eff9"/><stop offset="0.844" stop-color="#fde7e7"/><stop offset="0.906" stop-color="#ffffff"/><stop offset="0.969" stop-color="#ffffff"/></linearGradient>
<rect x="336.00" y="119.03" width="162.60" height="2.74" fill="url(#g1_26)"/>
<linearGradient id="g1_27" gradientUnits="userSpaceOnUse" x1="340.0" x2="494.6" y1="0" y2="0"><stop offset="0.031" stop-color="#e3eff9"/><stop offset="0.094" stop-color="#e3eff9"/><stop offset="0.156" stop-color="#b6d7ef"/><stop offset="0.219" stop-color="#449bd5"/><stop offset="0.281" stop-color="#1d7dc4"/><stop offset="0.344" stop-color="#1d7dc4"/><stop offset="0.406" stop-color="#1d7dc4"/><stop offset="0.469" stop-color="#1d7dc4"/><stop offset="0.531" stop-color="#449bd5"/><stop offset="0.594" stop-color="#449bd5"/><stop offset="0.656" stop-color="#7db9e2"/><stop offset="0.719" stop-color="#e3eff9"/><stop offset="0.781" stop-color="#e3eff9"/><stop offset="0.844" stop-color="#fde7e7"/><stop offset="0.906" stop-color="#ffffff"/><stop offset="0.969" stop-color="#ffffff"/></linearGradient>
<rect x="336.00" y="121.51" width="162.60" height="6.74" fill="url(#g1_27)"/>
</g>
<path d="M369.1,50.0 369.1,52.4 369.1,54.8 369.1,57.2 369.1,59.5 369.1,61.9 369.2,63.5 369.8,65.9 371.0,67.1 372.8,67.7 375.5,67.9 378.3,67.6 380.1,67.3 382.9,67.0 385.3,66.7 387.5,66.4 390.2,66.1 392.1,65.9 394.8,65.5 396.9,65.1 399.4,64.5 401.2,64.0 403.1,63.3 404.9,62.2 406.1,61.1 407.1,59.5 407.7,57.7 408.0,55.6 408.1,53.2 408.1,50.8" fill="none" stroke="#b59a55" stroke-width="0.55"/>
<path d="M444.8,50.0 444.8,52.4 444.9,54.8 445.3,57.2 445.9,58.8 447.0,60.3 448.0,61.3 449.9,62.3 451.7,62.9 454.5,63.1 456.7,62.7 458.1,61.1 458.5,59.5 458.8,57.2 458.8,54.8 458.9,52.4 458.9,50.0" fill="none" stroke="#b59a55" stroke-width="0.55"/>
<path d="M484.5,50.0 484.4,52.4 484.4,54.8 484.0,57.2 483.6,58.8 482.8,60.3 481.7,61.9 480.6,63.5 479.7,65.1 479.5,67.5 480.3,69.0 481.9,70.6 482.9,71.4 484.7,73.0 485.7,73.9 487.0,75.4 488.4,76.6 490.3,77.7 492.1,78.2 493.9,78.5 496.7,78.7 499.4,78.7" fill="none" stroke="#b59a55" stroke-width="0.55"/>
<path d="M471.1,111.7 473.0,110.9 474.7,109.6 475.6,108.5 476.5,106.9 477.4,104.6 477.9,103.0 478.3,100.8 478.6,99.1 478.8,96.7 479.0,94.3 478.9,92.0 478.8,89.6 478.5,87.2 478.2,85.6 477.4,83.3 476.7,81.7 475.6,80.1 474.7,79.2 472.8,77.9 471.0,77.2 469.1,76.7 466.4,76.5 463.6,76.9 461.8,77.6 460.1,78.5 458.8,79.3 457.2,80.3 455.4,81.4 453.8,82.5 452.6,83.4 451.3,84.8 450.4,86.4 449.9,88.1 449.6,90.4 449.7,92.8 449.9,94.3 450.6,96.7 451.3,98.3 452.3,99.9 453.4,101.5 454.5,102.8 455.4,103.9 456.8,105.4 458.1,106.7 459.4,107.8 460.9,109.0 462.5,110.2 463.9,110.9 466.0,111.7 468.2,112.1 471.0,111.8" fill="none" stroke="#b59a55" stroke-width="0.55"/>
<path d="M450.1,128.3 450.1,126.0 450.0,123.6 449.8,122.0 449.1,119.7 448.1,118.1 447.1,117.2 445.3,116.3 443.2,115.7 440.7,115.2 438.9,114.9 436.1,114.5 433.8,114.1 431.5,113.7 429.3,113.3 426.9,112.8 425.1,112.3 423.2,111.7 420.7,110.9 418.7,110.3 416.8,109.7 415.0,109.2 412.4,108.6 410.4,108.1 408.6,107.7 405.8,107.2 404.0,106.8 401.2,106.4 399.4,106.1 396.7,105.7 394.6,105.4 392.1,105.1 389.3,104.8 387.0,104.6 384.7,104.4 382.0,104.1 379.2,103.8 377.4,103.6 374.6,103.1 372.8,102.7 371.0,102.2 369.0,101.5 367.2,100.7 365.5,99.7 363.6,98.8 361.8,98.0 359.9,97.5 357.2,96.8 355.4,96.1 353.8,95.1 352.6,94.0 351.6,92.8 350.8,90.8 350.2,88.8 349.7,87.2 348.6,85.6 347.1,84.6 345.3,84.0 342.5,83.6 339.8,83.5 337.0,83.5" fill="none" stroke="#b59a55" stroke-width="0.55"/>
<path d="M335.2,109.9 337.9,109.9 340.7,110.0 342.9,110.2 345.3,110.6 347.1,111.2 348.9,112.3 350.3,113.3 351.7,114.6 353.0,115.7 354.4,117.0 355.5,118.1 356.8,119.7 357.6,121.2 358.1,123.1 358.3,125.2 358.4,127.6" fill="none" stroke="#b59a55" stroke-width="0.55"/>
<path d="M350.3,50.0 350.3,52.4 350.2,54.8 349.9,57.2 349.4,58.8 348.5,60.3 347.1,61.7 345.3,62.7 343.4,63.2 341.4,63.5 338.8,63.6 336.1,63.7" fill="none" stroke="#b59a55" stroke-width="0.55"/>
<path d="M423.3,97.5 421.0,97.5 418.7,97.2 416.4,96.7 414.1,96.1 412.3,95.6 409.5,95.2 407.7,95.0 404.9,95.1 403.1,95.4 401.2,95.9 398.5,96.6 396.7,97.0 393.9,97.2 391.1,97.1 388.8,96.7 386.6,96.0 384.7,95.2 383.0,94.3 381.5,93.5 380.0,92.8 378.3,91.7 377.1,90.4 376.5,88.8 376.2,86.4 376.2,84.1 376.5,81.7 377.2,80.1 378.3,79.2 380.3,78.5 382.9,78.1 385.3,77.7 387.5,77.5 390.2,77.3 393.0,77.2 395.7,77.2 398.5,77.4 401.2,77.6 404.0,77.6 406.7,77.4 409.5,77.2 411.9,76.9 414.1,76.7 416.7,76.2 418.7,75.4 419.8,74.6 421.4,73.0 422.3,71.6 423.3,70.1 424.2,68.8 425.5,67.5 426.9,66.6 429.0,65.9 431.5,65.2 433.4,64.8 436.0,64.3 437.2,64.3 439.8,64.9 441.6,65.8 443.2,66.7 444.6,67.5 446.2,68.5 447.9,69.8 448.9,71.4 449.0,73.0 448.4,74.6 447.1,76.0 446.1,76.9 444.4,78.5 443.5,79.4 442.2,80.9 441.2,82.5 440.5,84.1 439.8,86.4 439.4,88.0 438.9,90.4 438.3,92.0 437.2,93.5 436.1,94.4 434.2,95.1 431.5,95.8 429.7,96.3 427.9,96.8 425.1,97.4 423.3,97.5" fill="none" stroke="#b59a55" stroke-width="0.55"/>
<path d="M376.6,50.0 376.6,52.4 376.7,54.8 377.4,57.2 378.3,58.5 379.9,59.5 382.0,60.1 384.7,60.0 386.6,59.5 388.4,58.5 389.9,57.2 390.7,55.6 391.1,53.8 391.3,51.6" fill="none" stroke="#6b6b6b" stroke-width="0.45"/>
<path d="M470.6,102.2 471.9,101.1 472.8,99.5 473.5,97.5 473.8,95.9 474.0,93.5 473.9,91.2 473.5,89.6 472.8,87.5 471.9,86.0 470.7,84.8 468.6,84.1 466.9,84.1 464.6,84.7 462.8,85.6 461.6,86.4 460.0,88.0 459.1,89.2 458.3,91.2 458.4,93.5 459.1,95.1 460.3,96.7 461.8,98.1 462.9,99.1 464.6,100.5 465.9,101.5 467.3,102.3 470.1,102.5" fill="none" stroke="#6b6b6b" stroke-width="0.45"/>
<path d="M439.2,128.3 439.1,126.0 438.9,124.1 438.0,122.0 437.0,121.0 435.2,119.8 433.4,119.1 431.5,118.7 428.8,118.2 426.9,117.9 424.2,117.4 422.3,117.0 420.5,116.5 418.0,115.7 415.9,115.1 414.1,114.6 412.2,114.1 409.5,113.5 407.7,113.1 405.2,112.5 403.1,112.0 401.2,111.5 399.2,110.9 396.7,110.3 394.8,109.8 393.0,109.4 390.2,108.8 388.4,108.5 385.6,108.1 382.9,107.9 380.1,108.0 377.4,108.1 374.6,108.5 372.8,108.9 371.0,109.6 369.1,110.8 368.2,112.5 368.2,114.1 368.5,115.7 369.0,118.1 369.2,119.7 369.5,122.0 369.5,124.4 369.5,126.8" fill="none" stroke="#6b6b6b" stroke-width="0.45"/>
<path d="M418.5,128.3 418.4,126.0 417.9,123.6 417.0,122.0 415.9,121.0 414.1,119.9 412.3,119.2 410.4,118.7 407.7,118.2 405.8,117.9 403.1,117.5 401.2,117.2 398.5,116.6 396.7,116.1 394.8,115.5 393.0,114.9 391.1,114.1 389.1,113.3 386.6,112.5 384.7,112.3 382.0,112.5 380.1,113.2 379.1,114.1 378.3,115.7 378.0,118.1 378.0,120.4 378.0,122.8 378.0,125.2 378.0,127.6" fill="none" stroke="#555" stroke-width="0.4"/>
<path d="M339.1,112.4 L340.9,111.2 L342.6,108.9 L344.3,106.0 L346.0,105.4 L347.7,106.4 L348.6,103.7 L350.3,102.5 L352.9,103.1 L353.7,103.7 L353.7,105.4 L353.3,106.6 L354.6,107.8 L356.7,109.5 L357.6,109.5 L358.5,106.6 L358.5,103.7 L359.3,101.6 L360.2,105.4 L361.7,106.6 L361.9,108.9 L362.6,111.2 L364.7,112.7 L365.3,115.3 L366.5,115.9 L368.3,118.2 L368.5,121.7 L368.8,125.2" fill="none" stroke="#d6a32c" stroke-width="0.75" stroke-linejoin="round"/>
<path d="M349.4,90.4 L352.0,90.4 L352.9,93.0 L355.5,91.1 L358.0,92.2 L361.5,94.4 L362.3,96.2 L363.6,97.9 L365.8,101.4 L363.2,100.8 L362.3,99.1 L360.6,98.2 L359.3,100.0 L358.0,99.6 L356.3,98.5 L355.5,99.1 L354.6,95.0 L352.9,94.4 L351.2,93.8 L350.3,92.7 L349.4,90.4" fill="none" stroke="#d6a32c" stroke-width="0.75" stroke-linejoin="round"/>
<path d="M364.5,95.6 L366.6,95.0 L367.5,94.1 L367.1,96.2 L364.9,96.4 L364.5,95.6" fill="none" stroke="#d6a32c" stroke-width="0.75" stroke-linejoin="round"/>
<path d="M370.1,96.2 L371.3,97.3 L372.2,98.5 L373.5,99.1 L374.8,100.2 L376.1,101.6 L374.4,100.8 L371.8,99.1 L370.1,96.2" fill="none" stroke="#d6a32c" stroke-width="0.75" stroke-linejoin="round"/>
<path d="M339.6,95.6 L340.4,92.7 L340.0,89.2 L340.6,88.0 L343.9,87.5 L340.9,88.6 L341.7,90.4 L342.8,90.1 L341.3,91.5 L342.1,94.4 L340.9,94.4 L340.4,95.6" fill="none" stroke="#d6a32c" stroke-width="0.75" stroke-linejoin="round"/>
<path d="M346.4,86.9 L346.9,88.0 L347.3,89.8 L346.7,88.6 L346.4,86.9" fill="none" stroke="#d6a32c" stroke-width="0.75" stroke-linejoin="round"/>
<path d="M346.9,92.7 L349.0,92.9 L348.6,93.6 L346.9,93.4 L346.9,92.7" fill="none" stroke="#d6a32c" stroke-width="0.75" stroke-linejoin="round"/>
<path d="M340.0,99.1 L342.6,98.7 L342.6,99.4 L340.0,99.5" fill="none" stroke="#d6a32c" stroke-width="0.75" stroke-linejoin="round"/>
<path d="M343.3,100.8 L346.0,98.8 L344.3,99.4 L343.3,100.8" fill="none" stroke="#d6a32c" stroke-width="0.75" stroke-linejoin="round"/>
<path d="M340.0,67.7 L342.1,67.7 L341.7,70.6 L341.3,72.4 L343.4,74.1 L342.6,73.5 L340.9,73.2 L340.4,72.0 L340.0,70.6 L340.0,67.7" fill="none" stroke="#d6a32c" stroke-width="0.75" stroke-linejoin="round"/>
<path d="M341.7,81.1 L343.0,79.9 L344.7,78.2 L345.6,81.1 L344.7,82.2 L343.4,81.7 L341.7,81.1" fill="none" stroke="#d6a32c" stroke-width="0.75" stroke-linejoin="round"/>
<path d="M342.1,77.0 L343.4,75.9 L344.7,76.4 L343.4,77.6 L342.1,77.0" fill="none" stroke="#d6a32c" stroke-width="0.75" stroke-linejoin="round"/>
<path d="M340.0,63.7 L340.9,60.2 L341.7,60.2 L340.7,63.7" fill="none" stroke="#d6a32c" stroke-width="0.75" stroke-linejoin="round"/>
<path d="M377.8,112.4 L380.4,115.3 L379.9,115.4 L377.6,112.6" fill="none" stroke="#d6a32c" stroke-width="0.75" stroke-linejoin="round"/>
<path d="M380.4,106.6 L381.2,108.3 L381.5,109.8" fill="none" stroke="#d6a32c" stroke-width="0.75" stroke-linejoin="round"/>
<path d="M389.4,109.5 L390.2,110.3 L390.3,108.9" fill="none" stroke="#d6a32c" stroke-width="0.75" stroke-linejoin="round"/>
<path d="M408.5,63.7 L409.6,64.5 L411.3,65.1 L412.1,66.6 L413.0,66.3" fill="none" stroke="#d6a32c" stroke-width="0.75" stroke-linejoin="round"/>
<path d="M446.5,54.4 L447.8,56.7 L449.5,60.2 L451.7,62.6 L452.1,61.4 L449.9,57.9 L449.1,55.6 L448.6,54.4" fill="none" stroke="#d6a32c" stroke-width="0.75" stroke-linejoin="round"/>
<path d="M449.5,54.4 L451.7,57.9 L453.4,60.2 L455.1,63.7 L455.8,65.4 L456.0,66.6 L457.7,67.7 L460.2,68.9 L463.7,70.6 L465.4,71.2 L467.1,73.0 L470.6,74.7 L472.3,77.6 L474.0,78.8 L475.7,79.9 L477.9,80.5 L479.1,79.3 L479.6,81.1 L479.1,84.6 L478.3,86.9 L477.4,89.2 L476.6,92.1 L477.3,93.8 L476.6,96.2 L478.3,99.6 L480.0,103.1 L480.9,105.4 L482.6,107.8 L485.2,110.1 L485.8,112.4 L485.8,118.2 L484.7,124.6" fill="none" stroke="#d6a32c" stroke-width="0.75" stroke-linejoin="round"/>
<path d="M462.8,53.8 L462.8,55.0 L462.4,57.9 L462.0,60.2 L462.2,63.7 L462.8,66.0 L464.5,67.7 L467.1,67.7 L468.4,66.6 L468.8,64.8 L471.4,64.3 L471.4,67.7 L470.1,70.6 L472.3,70.9 L474.0,70.6 L474.7,71.8 L474.4,75.3 L474.2,76.4 L475.7,78.2 L477.9,78.3 L479.1,79.1 L480.4,77.0 L481.7,76.4 L483.4,75.3 L484.7,76.4 L486.0,77.0 L490.3,77.0 L492.9,77.0 L495.5,77.0" fill="none" stroke="#d6a32c" stroke-width="0.75" stroke-linejoin="round"/>
<path d="M474.8,53.8 L475.3,56.7 L476.1,57.9 L476.4,59.9 L477.3,59.6 L477.4,57.9 L476.6,53.8" fill="none" stroke="#d6a32c" stroke-width="0.75" stroke-linejoin="round"/>
<path d="M473.1,63.7 L474.8,62.5 L477.4,62.5 L480.0,64.3 L482.4,65.8 L480.4,66.1 L478.3,64.8 L475.7,63.7 L473.1,63.7" fill="none" stroke="#d6a32c" stroke-width="0.75" stroke-linejoin="round"/>
<path d="M483.9,66.2 L487.3,67.2 L486.9,68.0 L484.3,68.3 L483.0,67.7 L483.9,66.2" fill="none" stroke="#d6a32c" stroke-width="0.75" stroke-linejoin="round"/>
<path d="M479.1,67.7 L480.5,68.1 L479.6,68.6 L479.1,67.7" fill="none" stroke="#d6a32c" stroke-width="0.75" stroke-linejoin="round"/>
<path d="M488.4,67.7 L489.9,67.9 L489.7,68.3 L488.4,68.2" fill="none" stroke="#d6a32c" stroke-width="0.75" stroke-linejoin="round"/>
</g>
<rect x="340.0" y="54.4" width="154.6" height="69.6" fill="none" stroke="#666" stroke-width="0.9"/>
<text x="355.1" y="52.7" font-family="Liberation Mono" font-weight="bold" font-size="6.1" fill="#505050" textLength="98.5" lengthAdjust="spacingAndGlyphs">SST Anomaly ERSSTv5 Date= 199406</text>
<g font-family="Liberation Sans" font-weight="bold" fill="#1e1e1e" stroke="#1e1e1e" stroke-width="0.45">
<text x="338.8" y="55.6" font-size="3.6" text-anchor="end" textLength="5.2" lengthAdjust="spacingAndGlyphs">30N</text>
<text x="338.8" y="61.4" font-size="3.6" text-anchor="end" textLength="5.2" lengthAdjust="spacingAndGlyphs">25N</text>
<text x="338.8" y="67.2" font-size="3.6" text-anchor="end" textLength="5.2" lengthAdjust="spacingAndGlyphs">20N</text>
<text x="338.8" y="73.0" font-size="3.6" text-anchor="end" textLength="5.2" lengthAdjust="spacingAndGlyphs">15N</text>
<text x="338.8" y="78.8" font-size="3.6" text-anchor="end" textLength="5.2" lengthAdjust="spacingAndGlyphs">10N</text>
<text x="338.8" y="84.7" font-size="3.6" text-anchor="end" textLength="3.6" lengthAdjust="spacingAndGlyphs">5N</text>
<text x="338.8" y="90.4" font-size="3.6" text-anchor="end" textLength="3.6" lengthAdjust="spacingAndGlyphs">EQ</text>
<text x="338.8" y="96.2" font-size="3.6" text-anchor="end" textLength="3.6" lengthAdjust="spacingAndGlyphs">5S</text>
<text x="338.8" y="102.0" font-size="3.6" text-anchor="end" textLength="5.2" lengthAdjust="spacingAndGlyphs">10S</text>
<text x="338.8" y="107.8" font-size="3.6" text-anchor="end" textLength="5.2" lengthAdjust="spacingAndGlyphs">15S</text>
<text x="338.8" y="113.7" font-size="3.6" text-anchor="end" textLength="5.2" lengthAdjust="spacingAndGlyphs">20S</text>
<text x="338.8" y="119.4" font-size="3.6" text-anchor="end" textLength="5.2" lengthAdjust="spacingAndGlyphs">25S</text>
<text x="338.8" y="125.2" font-size="3.6" text-anchor="end" textLength="5.2" lengthAdjust="spacingAndGlyphs">30S</text>
<text x="340.0" y="128.7" font-size="3.7" text-anchor="middle" textLength="5.6" lengthAdjust="spacingAndGlyphs">120E</text>
<text x="357.2" y="128.7" font-size="3.7" text-anchor="middle" textLength="5.6" lengthAdjust="spacingAndGlyphs">140E</text>
<text x="374.4" y="128.7" font-size="3.7" text-anchor="middle" textLength="5.6" lengthAdjust="spacingAndGlyphs">160E</text>
<text x="391.5" y="128.7" font-size="3.7" text-anchor="middle" textLength="4.6" lengthAdjust="spacingAndGlyphs">180</text>
<text x="408.7" y="128.7" font-size="3.7" text-anchor="middle" textLength="5.6" lengthAdjust="spacingAndGlyphs">160W</text>
<text x="425.9" y="128.7" font-size="3.7" text-anchor="middle" textLength="5.6" lengthAdjust="spacingAndGlyphs">140W</text>
<text x="443.1" y="128.7" font-size="3.7" text-anchor="middle" textLength="5.6" lengthAdjust="spacingAndGlyphs">120W</text>
<text x="460.2" y="128.7" font-size="3.7" text-anchor="middle" textLength="5.6" lengthAdjust="spacingAndGlyphs">100W</text>
<text x="477.4" y="128.7" font-size="3.7" text-anchor="middle" textLength="4.6" lengthAdjust="spacingAndGlyphs">80W</text>
<text x="494.6" y="128.7" font-size="3.7" text-anchor="middle" textLength="4.6" lengthAdjust="spacingAndGlyphs">60W</text>
</g>
<text x="349.0" y="70.3" font-family="Liberation Sans" font-weight="bold" font-size="12.6" fill="#000" stroke="#000" stroke-width="0.25" textLength="80.3" lengthAdjust="spacingAndGlyphs">Nor 1 199406</text>
<rect x="54.4" y="112.2" width="172.8" height="92.1" fill="#fff"/>
<clipPath id="cp2"><rect x="62.9" y="127.2" width="153.8" height="69.1"/></clipPath>
<g clip-path="url(#cp2)">
<rect x="62.9" y="127.2" width="153.8" height="69.1" fill="#f4f9fd"/>
<g filter="url(#blg)">
<linearGradient id="g2_0" gradientUnits="userSpaceOnUse" x1="62.9" x2="216.7" y1="0" y2="0"><stop offset="0.031" stop-color="#ffffff"/><stop offset="0.094" stop-color="#ffffff"/><stop offset="0.156" stop-color="#ffffff"/><stop offset="0.219" stop-color="#ffffff"/><stop offset="0.281" stop-color="#b6d7ef"/><stop offset="0.344" stop-color="#b6d7ef"/><stop offset="0.406" stop-color="#fbc3c3"/><stop offset="0.469" stop-color="#7db9e2"/><stop offset="0.531" stop-color="#449bd5"/><stop offset="0.594" stop-color="#449bd5"/><stop offset="0.656" stop-color="#7db9e2"/><stop offset="0.719" stop-color="#f98585"/><stop offset="0.781" stop-color="#ffffff"/><stop offset="0.844" stop-color="#b6d7ef"/><stop offset="0.906" stop-color="#e3eff9"/><stop offset="0.969" stop-color="#ffffff"/></linearGradient>
<rect x="58.90" y="123.20" width="161.80" height="6.72" fill="url(#g2_0)"/>
<linearGradient id="g2_1" gradientUnits="userSpaceOnUse" x1="62.9" x2="216.7" y1="0" y2="0"><stop offset="0.031" stop-color="#ffffff"/><stop offset="0.094" stop-color="#ffffff"/><stop offset="0.156" stop-color="#ffffff"/><stop offset="0.219" stop-color="#ffffff"/><stop offset="0.281" stop-color="#b6d7ef"/><stop offset="0.344" stop-color="#b6d7ef"/><stop offset="0.406" stop-color="#fbc3c3"/><stop offset="0.469" stop-color="#7db9e2"/><stop offset="0.531" stop-color="#449bd5"/><stop offset="0.594" stop-color="#449bd5"/><stop offset="0.656" stop-color="#7db9e2"/><stop offset="0.719" stop-color="#f98585"/><stop offset="0.781" stop-color="#ffffff"/><stop offset="0.844" stop-color="#b6d7ef"/><stop offset="0.906" stop-color="#e3eff9"/><stop offset="0.969" stop-color="#ffffff"/></linearGradient>
<rect x="58.90" y="129.67" width="161.80" height="2.72" fill="url(#g2_1)"/>
<linearGradient id="g2_2" gradientUnits="userSpaceOnUse" x1="62.9" x2="216.7" y1="0" y2="0"><stop offset="0.031" stop-color="#ffffff"/><stop offset="0.094" stop-color="#ffffff"/><stop offset="0.156" stop-color="#ffffff"/><stop offset="0.219" stop-color="#f9fcfe"/><stop offset="0.281" stop-color="#b6d7ef"/><stop offset="0.344" stop-color="#b6d7ef"/><stop offset="0.406" stop-color="#e0c1ca"/><stop offset="0.469" stop-color="#71b3df"/><stop offset="0.531" stop-color="#449bd5"/><stop offset="0.594" stop-color="#449bd5"/><stop offset="0.656" stop-color="#7db9e2"/><stop offset="0.719" stop-color="#eb979c"/><stop offset="0.781" stop-color="#f9fcfe"/><stop offset="0.844" stop-color="#b6d7ef"/><stop offset="0.906" stop-color="#e8e6ed"/><stop offset="0.969" stop-color="#fef2f2"/></linearGradient>
<rect x="58.90" y="132.14" width="161.80" height="2.72" fill="url(#g2_2)"/>
<linearGradient id="g2_3" gradientUnits="userSpaceOnUse" x1="62.9" x2="216.7" y1="0" y2="0"><stop offset="0.031" stop-color="#ffffff"/><stop offset="0.094" stop-color="#ffffff"/><stop offset="0.156" stop-color="#ffffff"/><stop offset="0.219" stop-color="#f1f7fc"/><stop offset="0.281" stop-color="#b6d7ef"/><stop offset="0.344" stop-color="#b6d7ef"/><stop offset="0.406" stop-color="#bcbed2"/><stop offset="0.469" stop-color="#60aadc"/><stop offset="0.531" stop-color="#449bd5"/><stop offset="0.594" stop-color="#449bd5"/><stop offset="0.656" stop-color="#7db9e2"/><stop offset="0.719" stop-color="#d8aeba"/><stop offset="0.781" stop-color="#f1f7fc"/><stop offset="0.844" stop-color="#b6d7ef"/><stop offset="0.906" stop-color="#efd9de"/><stop offset="0.969" stop-color="#fde1e1"/></linearGradient>
<rect x="58.90" y="134.60" width="161.80" height="2.72" fill="url(#g2_3)"/>
<linearGradient id="g2_4" gradientUnits="userSpaceOnUse" x1="62.9" x2="216.7" y1="0" y2="0"><stop offset="0.031" stop-color="#ffffff"/><stop offset="0.094" stop-color="#ffffff"/><stop offset="0.156" stop-color="#ffffff"/><stop offset="0.219" stop-color="#e9f2fa"/><stop offset="0.281" stop-color="#b6d7ef"/><stop offset="0.344" stop-color="#b6d7ef"/><stop offset="0.406" stop-color="#98bbdb"/><stop offset="0.469" stop-color="#50a1d8"/><stop offset="0.531" stop-color="#449bd5"/><stop offset="0.594" stop-color="#449bd5"/><stop offset="0.656" stop-color="#7db9e2"/><stop offset="0.719" stop-color="#c4c5d8"/><stop offset="0.781" stop-color="#e9f2fa"/><stop offset="0.844" stop-color="#b6d7ef"/><stop offset="0.906" stop-color="#f6cccf"/><stop offset="0.969" stop-color="#fcd0d0"/></linearGradient>
<rect x="58.90" y="137.07" width="161.80" height="2.72" fill="url(#g2_4)"/>
<linearGradient id="g2_5" gradientUnits="userSpaceOnUse" x1="62.9" x2="216.7" y1="0" y2="0"><stop offset="0.031" stop-color="#ffffff"/><stop offset="0.094" stop-color="#ffffff"/><stop offset="0.156" stop-color="#ffffff"/><stop offset="0.219" stop-color="#e3eff9"/><stop offset="0.281" stop-color="#b6d7ef"/><stop offset="0.344" stop-color="#b2d5ee"/><stop offset="0.406" stop-color="#79b7e1"/><stop offset="0.469" stop-color="#449bd5"/><stop offset="0.531" stop-color="#449bd5"/><stop offset="0.594" stop-color="#449bd5"/><stop offset="0.656" stop-color="#79b7e1"/><stop offset="0.719" stop-color="#b2d5ee"/><stop offset="0.781" stop-color="#dcebf7"/><stop offset="0.844" stop-color="#b6d7ef"/><stop offset="0.906" stop-color="#fbc7c7"/><stop offset="0.969" stop-color="#fbc7c7"/></linearGradient>
<rect x="58.90" y="139.54" width="161.80" height="2.72" fill="url(#g2_5)"/>
<linearGradient id="g2_6" gradientUnits="userSpaceOnUse" x1="62.9" x2="216.7" y1="0" y2="0"><stop offset="0.031" stop-color="#ffffff"/><stop offset="0.094" stop-color="#ffffff"/><stop offset="0.156" stop-color="#ffffff"/><stop offset="0.219" stop-color="#e3eff9"/><stop offset="0.281" stop-color="#b6d7ef"/><stop offset="0.344" stop-color="#a2ccea"/><stop offset="0.406" stop-color="#69aedd"/><stop offset="0.469" stop-color="#449bd5"/><stop offset="0.531" stop-color="#449bd5"/><stop offset="0.594" stop-color="#449bd5"/><stop offset="0.656" stop-color="#69aedd"/><stop offset="0.719" stop-color="#a2ccea"/><stop offset="0.781" stop-color="#bfdcf1"/><stop offset="0.844" stop-color="#b6d7ef"/><stop offset="0.906" stop-color="#fcd8d8"/><stop offset="0.969" stop-color="#fcd8d8"/></linearGradient>
<rect x="58.90" y="142.01" width="161.80" height="2.72" fill="url(#g2_6)"/>
<linearGradient id="g2_7" gradientUnits="userSpaceOnUse" x1="62.9" x2="216.7" y1="0" y2="0"><stop offset="0.031" stop-color="#ffffff"/><stop offset="0.094" stop-color="#ffffff"/><stop offset="0.156" stop-color="#ffffff"/><stop offset="0.219" stop-color="#e3eff9"/><stop offset="0.281" stop-color="#b6d7ef"/><stop offset="0.344" stop-color="#91c4e7"/><stop offset="0.406" stop-color="#58a6da"/><stop offset="0.469" stop-color="#449bd5"/><stop offset="0.531" stop-color="#449bd5"/><stop offset="0.594" stop-color="#449bd5"/><stop offset="0.656" stop-color="#58a6da"/><stop offset="0.719" stop-color="#91c4e7"/><stop offset="0.781" stop-color="#a1ccea"/><stop offset="0.844" stop-color="#b6d7ef"/><stop offset="0.906" stop-color="#feeaea"/><stop offset="0.969" stop-color="#feeaea"/></linearGradient>
<rect x="58.90" y="144.47" width="161.80" height="2.72" fill="url(#g2_7)"/>
<linearGradient id="g2_8" gradientUnits="userSpaceOnUse" x1="62.9" x2="216.7" y1="0" y2="0"><stop offset="0.031" stop-color="#ffffff"/><stop offset="0.094" stop-color="#ffffff"/><stop offset="0.156" stop-color="#ffffff"/><stop offset="0.219" stop-color="#e3eff9"/><stop offset="0.281" stop-color="#b6d7ef"/><stop offset="0.344" stop-color="#81bbe3"/><stop offset="0.406" stop-color="#489dd6"/><stop offset="0.469" stop-color="#449bd5"/><stop offset="0.531" stop-color="#449bd5"/><stop offset="0.594" stop-color="#449bd5"/><stop offset="0.656" stop-color="#489dd6"/><stop offset="0.719" stop-color="#81bbe3"/><stop offset="0.781" stop-color="#84bde4"/><stop offset="0.844" stop-color="#b6d7ef"/><stop offset="0.906" stop-color="#fffbfb"/><stop offset="0.969" stop-color="#fffbfb"/></linearGradient>
<rect x="58.90" y="146.94" width="161.80" height="2.72" fill="url(#g2_8)"/>
<linearGradient id="g2_9" gradientUnits="userSpaceOnUse" x1="62.9" x2="216.7" y1="0" y2="0"><stop offset="0.031" stop-color="#ffffff"/><stop offset="0.094" stop-color="#ffffff"/><stop offset="0.156" stop-color="#fffafa"/><stop offset="0.219" stop-color="#d9eaf7"/><stop offset="0.281" stop-color="#aad1ec"/><stop offset="0.344" stop-color="#71b3df"/><stop offset="0.406" stop-color="#3c95d1"/><stop offset="0.469" stop-color="#3c95d1"/><stop offset="0.531" stop-color="#449bd5"/><stop offset="0.594" stop-color="#449bd5"/><stop offset="0.656" stop-color="#449bd5"/><stop offset="0.719" stop-color="#71b3df"/><stop offset="0.781" stop-color="#71b3df"/><stop offset="0.844" stop-color="#9ecae9"/><stop offset="0.906" stop-color="#d7eaf6"/><stop offset="0.969" stop-color="#ffffff"/></linearGradient>
<rect x="58.90" y="149.41" width="161.80" height="2.72" fill="url(#g2_9)"/>
<linearGradient id="g2_10" gradientUnits="userSpaceOnUse" x1="62.9" x2="216.7" y1="0" y2="0"><stop offset="0.031" stop-color="#ffffff"/><stop offset="0.094" stop-color="#ffffff"/><stop offset="0.156" stop-color="#fef3f3"/><stop offset="0.219" stop-color="#cce3f4"/><stop offset="0.281" stop-color="#9ac8e8"/><stop offset="0.344" stop-color="#60aadc"/><stop offset="0.406" stop-color="#308ccc"/><stop offset="0.469" stop-color="#308ccc"/><stop offset="0.531" stop-color="#449bd5"/><stop offset="0.594" stop-color="#449bd5"/><stop offset="0.656" stop-color="#449bd5"/><stop offset="0.719" stop-color="#60aadc"/><stop offset="0.781" stop-color="#60aadc"/><stop offset="0.844" stop-color="#7db9e2"/><stop offset="0.906" stop-color="#a2cdea"/><stop offset="0.969" stop-color="#ffffff"/></linearGradient>
<rect x="58.90" y="151.88" width="161.80" height="2.72" fill="url(#g2_10)"/>
<linearGradient id="g2_11" gradientUnits="userSpaceOnUse" x1="62.9" x2="216.7" y1="0" y2="0"><stop offset="0.031" stop-color="#ffffff"/><stop offset="0.094" stop-color="#ffffff"/><stop offset="0.156" stop-color="#fdecec"/><stop offset="0.219" stop-color="#c0dcf1"/><stop offset="0.281" stop-color="#89bfe5"/><stop offset="0.344" stop-color="#50a1d8"/><stop offset="0.406" stop-color="#2583c8"/><stop offset="0.469" stop-color="#2583c8"/><stop offset="0.531" stop-color="#449bd5"/><stop offset="0.594" stop-color="#449bd5"/><stop offset="0.656" stop-color="#449bd5"/><stop offset="0.719" stop-color="#50a1d8"/><stop offset="0.781" stop-color="#50a1d8"/><stop offset="0.844" stop-color="#5ca8db"/><stop offset="0.906" stop-color="#6cb0de"/><stop offset="0.969" stop-color="#ffffff"/></linearGradient>
<rect x="58.90" y="154.35" width="161.80" height="2.72" fill="url(#g2_11)"/>
<linearGradient id="g2_12" gradientUnits="userSpaceOnUse" x1="62.9" x2="216.7" y1="0" y2="0"><stop offset="0.031" stop-color="#ffffff"/><stop offset="0.094" stop-color="#ffffff"/><stop offset="0.156" stop-color="#fde7e7"/><stop offset="0.219" stop-color="#b9d9f0"/><stop offset="0.281" stop-color="#79b7e1"/><stop offset="0.344" stop-color="#4199d4"/><stop offset="0.406" stop-color="#1d7dc4"/><stop offset="0.469" stop-color="#1d7dc4"/><stop offset="0.531" stop-color="#4199d4"/><stop offset="0.594" stop-color="#4199d4"/><stop offset="0.656" stop-color="#4199d4"/><stop offset="0.719" stop-color="#4199d4"/><stop offset="0.781" stop-color="#4199d4"/><stop offset="0.844" stop-color="#4199d4"/><stop offset="0.906" stop-color="#51a2d8"/><stop offset="0.969" stop-color="#ffffff"/></linearGradient>
<rect x="58.90" y="156.81" width="161.80" height="2.72" fill="url(#g2_12)"/>
<linearGradient id="g2_13" gradientUnits="userSpaceOnUse" x1="62.9" x2="216.7" y1="0" y2="0"><stop offset="0.031" stop-color="#ffffff"/><stop offset="0.094" stop-color="#ffffff"/><stop offset="0.156" stop-color="#fde7e7"/><stop offset="0.219" stop-color="#c6e0f3"/><stop offset="0.281" stop-color="#69aedd"/><stop offset="0.344" stop-color="#3690cf"/><stop offset="0.406" stop-color="#1d7dc4"/><stop offset="0.469" stop-color="#1d7dc4"/><stop offset="0.531" stop-color="#3690cf"/><stop offset="0.594" stop-color="#3690cf"/><stop offset="0.656" stop-color="#3690cf"/><stop offset="0.719" stop-color="#3690cf"/><stop offset="0.781" stop-color="#3690cf"/><stop offset="0.844" stop-color="#3690cf"/><stop offset="0.906" stop-color="#87bfe4"/><stop offset="0.969" stop-color="#ffffff"/></linearGradient>
<rect x="58.90" y="159.28" width="161.80" height="2.72" fill="url(#g2_13)"/>
<linearGradient id="g2_14" gradientUnits="userSpaceOnUse" x1="62.9" x2="216.7" y1="0" y2="0"><stop offset="0.031" stop-color="#ffffff"/><stop offset="0.094" stop-color="#ffffff"/><stop offset="0.156" stop-color="#fde7e7"/><stop offset="0.219" stop-color="#d3e6f5"/><stop offset="0.281" stop-color="#58a6da"/><stop offset="0.344" stop-color="#2b88ca"/><stop offset="0.406" stop-color="#1d7dc4"/><stop offset="0.469" stop-color="#1d7dc4"/><stop offset="0.531" stop-color="#2b88ca"/><stop offset="0.594" stop-color="#2b88ca"/><stop offset="0.656" stop-color="#2b88ca"/><stop offset="0.719" stop-color="#2b88ca"/><stop offset="0.781" stop-color="#2b88ca"/><stop offset="0.844" stop-color="#2b88ca"/><stop offset="0.906" stop-color="#bcdbf0"/><stop offset="0.969" stop-color="#ffffff"/></linearGradient>
<rect x="58.90" y="161.75" width="161.80" height="2.72" fill="url(#g2_14)"/>
<linearGradient id="g2_15" gradientUnits="userSpaceOnUse" x1="62.9" x2="216.7" y1="0" y2="0"><stop offset="0.031" stop-color="#ffffff"/><stop offset="0.094" stop-color="#ffffff"/><stop offset="0.156" stop-color="#fde7e7"/><stop offset="0.219" stop-color="#e0edf8"/><stop offset="0.281" stop-color="#489dd6"/><stop offset="0.344" stop-color="#207fc5"/><stop offset="0.406" stop-color="#1d7dc4"/><stop offset="0.469" stop-color="#1d7dc4"/><stop offset="0.531" stop-color="#207fc5"/><stop offset="0.594" stop-color="#207fc5"/><stop offset="0.656" stop-color="#207fc5"/><stop offset="0.719" stop-color="#207fc5"/><stop offset="0.781" stop-color="#207fc5"/><stop offset="0.844" stop-color="#207fc5"/><stop offset="0.906" stop-color="#f2f8fc"/><stop offset="0.969" stop-color="#ffffff"/></linearGradient>
<rect x="58.90" y="164.22" width="161.80" height="2.72" fill="url(#g2_15)"/>
<linearGradient id="g2_16" gradientUnits="userSpaceOnUse" x1="62.9" x2="216.7" y1="0" y2="0"><stop offset="0.031" stop-color="#fffafa"/><stop offset="0.094" stop-color="#fffafa"/><stop offset="0.156" stop-color="#fde7e7"/><stop offset="0.219" stop-color="#d9eaf7"/><stop offset="0.281" stop-color="#50a1d8"/><stop offset="0.344" stop-color="#2583c8"/><stop offset="0.406" stop-color="#2583c8"/><stop offset="0.469" stop-color="#2583c8"/><stop offset="0.531" stop-color="#2583c8"/><stop offset="0.594" stop-color="#2583c8"/><stop offset="0.656" stop-color="#2583c8"/><stop offset="0.719" stop-color="#2583c8"/><stop offset="0.781" stop-color="#4795cf"/><stop offset="0.844" stop-color="#4795cf"/><stop offset="0.906" stop-color="#d7eaf6"/><stop offset="0.969" stop-color="#ffffff"/></linearGradient>
<rect x="58.90" y="166.69" width="161.80" height="2.72" fill="url(#g2_16)"/>
<linearGradient id="g2_17" gradientUnits="userSpaceOnUse" x1="62.9" x2="216.7" y1="0" y2="0"><stop offset="0.031" stop-color="#fef3f3"/><stop offset="0.094" stop-color="#fef3f3"/><stop offset="0.156" stop-color="#fde7e7"/><stop offset="0.219" stop-color="#cce3f4"/><stop offset="0.281" stop-color="#60aadc"/><stop offset="0.344" stop-color="#308ccc"/><stop offset="0.406" stop-color="#308ccc"/><stop offset="0.469" stop-color="#308ccc"/><stop offset="0.531" stop-color="#308ccc"/><stop offset="0.594" stop-color="#308ccc"/><stop offset="0.656" stop-color="#308ccc"/><stop offset="0.719" stop-color="#308ccc"/><stop offset="0.781" stop-color="#80b6de"/><stop offset="0.844" stop-color="#80b6de"/><stop offset="0.906" stop-color="#a2cdea"/><stop offset="0.969" stop-color="#ffffff"/></linearGradient>
<rect x="58.90" y="169.15" width="161.80" height="2.72" fill="url(#g2_17)"/>
<linearGradient id="g2_18" gradientUnits="userSpaceOnUse" x1="62.9" x2="216.7" y1="0" y2="0"><stop offset="0.031" stop-color="#fdecec"/><stop offset="0.094" stop-color="#fdecec"/><stop offset="0.156" stop-color="#fde7e7"/><stop offset="0.219" stop-color="#c0dcf1"/><stop offset="0.281" stop-color="#71b3df"/><stop offset="0.344" stop-color="#3c95d1"/><stop offset="0.406" stop-color="#3c95d1"/><stop offset="0.469" stop-color="#3c95d1"/><stop offset="0.531" stop-color="#3c95d1"/><stop offset="0.594" stop-color="#3c95d1"/><stop offset="0.656" stop-color="#3c95d1"/><stop offset="0.719" stop-color="#3c95d1"/><stop offset="0.781" stop-color="#b9d7ee"/><stop offset="0.844" stop-color="#b9d7ee"/><stop offset="0.906" stop-color="#6cb0de"/><stop offset="0.969" stop-color="#ffffff"/></linearGradient>
<rect x="58.90" y="171.62" width="161.80" height="2.72" fill="url(#g2_18)"/>
<linearGradient id="g2_19" gradientUnits="userSpaceOnUse" x1="62.9" x2="216.7" y1="0" y2="0"><stop offset="0.031" stop-color="#f8e6e8"/><stop offset="0.094" stop-color="#fde7e7"/><stop offset="0.156" stop-color="#fde7e7"/><stop offset="0.219" stop-color="#bbd8ee"/><stop offset="0.281" stop-color="#86bae0"/><stop offset="0.344" stop-color="#5199cf"/><stop offset="0.406" stop-color="#5199cf"/><stop offset="0.469" stop-color="#5199cf"/><stop offset="0.531" stop-color="#519ed4"/><stop offset="0.594" stop-color="#489dd6"/><stop offset="0.656" stop-color="#449bd5"/><stop offset="0.719" stop-color="#449bd5"/><stop offset="0.781" stop-color="#dcebf7"/><stop offset="0.844" stop-color="#e0edf8"/><stop offset="0.906" stop-color="#449bd5"/><stop offset="0.969" stop-color="#ffffff"/></linearGradient>
<rect x="58.90" y="174.09" width="161.80" height="2.72" fill="url(#g2_19)"/>
<linearGradient id="g2_20" gradientUnits="userSpaceOnUse" x1="62.9" x2="216.7" y1="0" y2="0"><stop offset="0.031" stop-color="#e4e1ea"/><stop offset="0.094" stop-color="#fde7e7"/><stop offset="0.156" stop-color="#fde7e7"/><stop offset="0.219" stop-color="#cfddec"/><stop offset="0.281" stop-color="#aabdd7"/><stop offset="0.344" stop-color="#8593b8"/><stop offset="0.406" stop-color="#8593b8"/><stop offset="0.469" stop-color="#8593b8"/><stop offset="0.531" stop-color="#85a9cf"/><stop offset="0.594" stop-color="#58a6da"/><stop offset="0.656" stop-color="#449bd5"/><stop offset="0.719" stop-color="#449bd5"/><stop offset="0.781" stop-color="#bfdcf1"/><stop offset="0.844" stop-color="#d3e6f5"/><stop offset="0.906" stop-color="#449bd5"/><stop offset="0.969" stop-color="#ffffff"/></linearGradient>
<rect x="58.90" y="176.56" width="161.80" height="2.72" fill="url(#g2_20)"/>
<linearGradient id="g2_21" gradientUnits="userSpaceOnUse" x1="62.9" x2="216.7" y1="0" y2="0"><stop offset="0.031" stop-color="#cfddec"/><stop offset="0.094" stop-color="#fde7e7"/><stop offset="0.156" stop-color="#fde7e7"/><stop offset="0.219" stop-color="#e4e1ea"/><stop offset="0.281" stop-color="#cebfce"/><stop offset="0.344" stop-color="#b88da2"/><stop offset="0.406" stop-color="#b88da2"/><stop offset="0.469" stop-color="#b88da2"/><stop offset="0.531" stop-color="#bab5c9"/><stop offset="0.594" stop-color="#69aedd"/><stop offset="0.656" stop-color="#449bd5"/><stop offset="0.719" stop-color="#449bd5"/><stop offset="0.781" stop-color="#a1ccea"/><stop offset="0.844" stop-color="#c6e0f3"/><stop offset="0.906" stop-color="#449bd5"/><stop offset="0.969" stop-color="#ffffff"/></linearGradient>
<rect x="58.90" y="179.03" width="161.80" height="2.72" fill="url(#g2_21)"/>
<linearGradient id="g2_22" gradientUnits="userSpaceOnUse" x1="62.9" x2="216.7" y1="0" y2="0"><stop offset="0.031" stop-color="#bbd8ee"/><stop offset="0.094" stop-color="#fde7e7"/><stop offset="0.156" stop-color="#fde7e7"/><stop offset="0.219" stop-color="#f8e6e8"/><stop offset="0.281" stop-color="#f2c2c5"/><stop offset="0.344" stop-color="#ec878b"/><stop offset="0.406" stop-color="#ec878b"/><stop offset="0.469" stop-color="#ec878b"/><stop offset="0.531" stop-color="#eec0c4"/><stop offset="0.594" stop-color="#79b7e1"/><stop offset="0.656" stop-color="#449bd5"/><stop offset="0.719" stop-color="#449bd5"/><stop offset="0.781" stop-color="#84bde4"/><stop offset="0.844" stop-color="#b9d9f0"/><stop offset="0.906" stop-color="#449bd5"/><stop offset="0.969" stop-color="#ffffff"/></linearGradient>
<rect x="58.90" y="181.49" width="161.80" height="2.72" fill="url(#g2_22)"/>
<linearGradient id="g2_23" gradientUnits="userSpaceOnUse" x1="62.9" x2="216.7" y1="0" y2="0"><stop offset="0.031" stop-color="#b6d7ef"/><stop offset="0.094" stop-color="#fde7e7"/><stop offset="0.156" stop-color="#fde7e7"/><stop offset="0.219" stop-color="#fde7e7"/><stop offset="0.281" stop-color="#fbc3c3"/><stop offset="0.344" stop-color="#f98585"/><stop offset="0.406" stop-color="#f88080"/><stop offset="0.469" stop-color="#f98585"/><stop offset="0.531" stop-color="#fbc3c3"/><stop offset="0.594" stop-color="#89bfe5"/><stop offset="0.656" stop-color="#50a1d8"/><stop offset="0.719" stop-color="#50a1d8"/><stop offset="0.781" stop-color="#7db9e2"/><stop offset="0.844" stop-color="#9ecae9"/><stop offset="0.906" stop-color="#449bd5"/><stop offset="0.969" stop-color="#ffffff"/></linearGradient>
<rect x="58.90" y="183.96" width="161.80" height="2.72" fill="url(#g2_23)"/>
<linearGradient id="g2_24" gradientUnits="userSpaceOnUse" x1="62.9" x2="216.7" y1="0" y2="0"><stop offset="0.031" stop-color="#b6d7ef"/><stop offset="0.094" stop-color="#fde7e7"/><stop offset="0.156" stop-color="#fde7e7"/><stop offset="0.219" stop-color="#fde7e7"/><stop offset="0.281" stop-color="#fbc3c3"/><stop offset="0.344" stop-color="#f98585"/><stop offset="0.406" stop-color="#f67878"/><stop offset="0.469" stop-color="#f98585"/><stop offset="0.531" stop-color="#fbc3c3"/><stop offset="0.594" stop-color="#9ac8e8"/><stop offset="0.656" stop-color="#60aadc"/><stop offset="0.719" stop-color="#60aadc"/><stop offset="0.781" stop-color="#7db9e2"/><stop offset="0.844" stop-color="#7db9e2"/><stop offset="0.906" stop-color="#449bd5"/><stop offset="0.969" stop-color="#ffffff"/></linearGradient>
<rect x="58.90" y="186.43" width="161.80" height="2.72" fill="url(#g2_24)"/>
<linearGradient id="g2_25" gradientUnits="userSpaceOnUse" x1="62.9" x2="216.7" y1="0" y2="0"><stop offset="0.031" stop-color="#b6d7ef"/><stop offset="0.094" stop-color="#fde7e7"/><stop offset="0.156" stop-color="#fde7e7"/><stop offset="0.219" stop-color="#fde7e7"/><stop offset="0.281" stop-color="#fbc3c3"/><stop offset="0.344" stop-color="#f98585"/><stop offset="0.406" stop-color="#f47171"/><stop offset="0.469" stop-color="#f98585"/><stop offset="0.531" stop-color="#fbc3c3"/><stop offset="0.594" stop-color="#aad1ec"/><stop offset="0.656" stop-color="#71b3df"/><stop offset="0.719" stop-color="#71b3df"/><stop offset="0.781" stop-color="#7db9e2"/><stop offset="0.844" stop-color="#5ca8db"/><stop offset="0.906" stop-color="#449bd5"/><stop offset="0.969" stop-color="#ffffff"/></linearGradient>
<rect x="58.90" y="188.90" width="161.80" height="2.72" fill="url(#g2_25)"/>
<linearGradient id="g2_26" gradientUnits="userSpaceOnUse" x1="62.9" x2="216.7" y1="0" y2="0"><stop offset="0.031" stop-color="#b6d7ef"/><stop offset="0.094" stop-color="#fde7e7"/><stop offset="0.156" stop-color="#fde7e7"/><stop offset="0.219" stop-color="#fde7e7"/><stop offset="0.281" stop-color="#fbc3c3"/><stop offset="0.344" stop-color="#f98585"/><stop offset="0.406" stop-color="#f26c6c"/><stop offset="0.469" stop-color="#f98585"/><stop offset="0.531" stop-color="#fbc3c3"/><stop offset="0.594" stop-color="#b6d7ef"/><stop offset="0.656" stop-color="#7db9e2"/><stop offset="0.719" stop-color="#7db9e2"/><stop offset="0.781" stop-color="#7db9e2"/><stop offset="0.844" stop-color="#449bd5"/><stop offset="0.906" stop-color="#449bd5"/><stop offset="0.969" stop-color="#ffffff"/></linearGradient>
<rect x="58.90" y="191.36" width="161.80" height="2.72" fill="url(#g2_26)"/>
<linearGradient id="g2_27" gradientUnits="userSpaceOnUse" x1="62.9" x2="216.7" y1="0" y2="0"><stop offset="0.031" stop-color="#b6d7ef"/><stop offset="0.094" stop-color="#fde7e7"/><stop offset="0.156" stop-color="#fde7e7"/><stop offset="0.219" stop-color="#fde7e7"/><stop offset="0.281" stop-color="#fbc3c3"/><stop offset="0.344" stop-color="#f98585"/><stop offset="0.406" stop-color="#f26c6c"/><stop offset="0.469" stop-color="#f98585"/><stop offset="0.531" stop-color="#fbc3c3"/><stop offset="0.594" stop-color="#b6d7ef"/><stop offset="0.656" stop-color="#7db9e2"/><stop offset="0.719" stop-color="#7db9e2"/><stop offset="0.781" stop-color="#7db9e2"/><stop offset="0.844" stop-color="#449bd5"/><stop offset="0.906" stop-color="#449bd5"/><stop offset="0.969" stop-color="#ffffff"/></linearGradient>
<rect x="58.90" y="193.83" width="161.80" height="6.72" fill="url(#g2_27)"/>
</g>
<path d="M103.4,122.9 103.4,125.2 103.4,127.6 103.3,129.9 103.0,132.3 102.8,133.9 102.3,136.2 101.9,137.8 101.3,140.2 101.0,142.2 100.8,144.1 100.3,146.4 99.7,148.0 98.9,149.6 97.9,151.1 96.9,152.7 96.1,154.3 95.5,156.6 95.5,158.2 95.6,159.8 96.0,162.1 96.4,164.5 96.4,166.1 96.4,167.6 96.1,170.0 96.0,172.4 96.4,174.2 97.5,175.5 99.2,176.5 101.0,177.1 103.7,177.5 106.5,177.8 108.3,177.9 111.0,178.0 113.8,178.0 116.5,178.1 119.3,178.1 122.0,178.1 124.7,178.1 127.5,178.1 130.2,178.1 133.0,178.2 135.7,178.3 138.4,178.5 140.3,178.7 143.0,179.3 144.8,179.8 146.6,180.6 148.4,181.8 149.4,182.8 150.3,184.2 151.2,186.2 151.9,188.1 152.3,189.6 152.8,192.0 153.1,193.6 153.3,195.9 153.3,198.3 153.3,200.6" fill="none" stroke="#b59a55" stroke-width="0.55"/>
<path d="M131.5,122.9 131.5,125.2 131.4,127.6 131.1,129.3 130.4,131.5 129.4,133.1 128.4,134.1 126.6,135.2 124.7,135.8 122.0,135.9 120.2,135.4 118.3,134.2 117.4,133.0 116.5,130.7 116.3,129.2 116.1,126.8 116.1,124.5" fill="none" stroke="#b59a55" stroke-width="0.55"/>
<path d="M190.5,122.9 190.5,125.2 190.5,127.6 190.5,129.2 190.4,131.5 190.2,133.9 189.6,136.2 188.6,137.8 187.7,138.7 185.9,139.9 184.1,140.5 181.3,140.7 178.6,140.5 176.5,140.2 174.0,139.5 172.2,138.8 170.4,137.8 169.5,137.0 168.1,135.4 167.2,133.9 166.7,132.3 166.2,129.9 166.1,127.6 166.0,125.2 166.0,122.9" fill="none" stroke="#b59a55" stroke-width="0.55"/>
<path d="M210.0,200.6 210.0,198.3 210.0,195.9 210.0,193.6 210.0,191.2 210.0,188.8 210.0,186.5 210.0,184.1 210.0,181.8 210.0,179.4 209.8,177.1 209.6,175.5 208.8,173.1 207.9,171.6 206.9,170.3 205.9,169.2 204.6,167.6 204.4,165.3 205.4,163.7 206.7,162.1 207.8,160.6 208.4,159.0 208.6,156.6 207.8,154.6 206.9,153.5 205.1,152.1 203.2,151.2 201.4,150.5 199.6,149.7 198.0,148.8 196.9,148.0 195.4,146.4 194.4,144.9 193.7,143.3 193.2,141.7 192.7,139.4 192.8,137.0 193.4,135.4 194.3,133.9 195.3,132.3 196.3,130.7 197.0,129.2 197.5,126.8 197.7,124.5" fill="none" stroke="#b59a55" stroke-width="0.55"/>
<path d="M69.2,200.6 69.2,198.3 69.2,195.9 69.2,193.6 69.2,191.2 69.1,188.8 68.9,187.3 68.2,184.9 67.2,183.7 65.4,182.6 63.6,182.2 60.8,182.0 58.1,182.0" fill="none" stroke="#b59a55" stroke-width="0.55"/>
<path d="M179.9,122.9 179.9,125.2 179.7,127.6 179.5,129.2 178.6,131.2 177.6,132.3 175.0,133.1 174.0,132.9 172.2,131.7 171.3,130.1 170.9,128.4 170.7,126.0 170.7,123.7" fill="none" stroke="#b59a55" stroke-width="0.55"/>
<path d="M221.5,141.9 218.8,141.9 216.0,141.9 213.3,141.9 210.6,141.7 208.7,141.3 207.7,140.2 208.8,139.4 211.5,138.8 213.3,138.6 216.0,138.4 218.8,138.4 221.5,138.4" fill="none" stroke="#b59a55" stroke-width="0.55"/>
<path d="M100.5,200.6 100.5,198.3 100.5,195.9 100.5,193.6 100.5,191.2 100.7,188.8 101.1,187.3 102.2,185.7 103.7,184.5 105.6,183.6 107.4,183.0 109.2,182.4 112.0,181.9 113.8,181.6 116.5,181.4 119.3,181.2 122.0,181.2 124.7,181.2 127.5,181.2 130.2,181.2 133.0,181.3 135.7,181.6 137.5,181.9 140.1,182.6 141.9,183.3 143.1,184.1 144.4,185.7 145.0,187.3 145.4,189.6 145.6,192.0 145.7,194.3 145.7,196.7 145.7,198.8 145.7,200.6" fill="none" stroke="#b59a55" stroke-width="0.55"/>
<path d="M137.9,122.9 137.9,125.2 137.8,127.6 137.6,129.9 137.2,131.5 136.5,133.1 135.5,134.7 134.2,136.2 133.0,137.5 131.7,138.6 130.2,139.7 128.4,140.9 127.0,141.7 125.6,142.5 123.8,143.6 122.0,144.8 120.9,145.7 119.3,147.0 118.1,148.0 116.5,149.4 115.5,150.4 113.8,151.9 112.9,152.7 111.2,154.3 110.1,155.2 108.7,156.6 107.4,158.0 106.5,159.1 105.5,160.6 104.7,162.4 104.2,164.5 104.1,166.9 104.6,169.2 105.4,170.8 106.5,171.9 108.3,173.1 110.1,173.8 112.0,174.3 114.3,174.7 116.5,174.9 119.3,175.1 122.0,175.1 124.7,175.1 127.5,175.1 130.2,175.1 133.0,175.2 135.7,175.2 138.4,175.4 140.4,175.5 143.0,175.7 145.7,176.1 147.6,176.6 149.4,177.1 151.2,177.9 153.0,179.0 154.5,180.2 155.8,181.6 156.7,182.7 157.8,184.1 159.1,185.7 160.3,187.0 161.7,188.1 163.1,189.0 164.9,190.0 166.7,190.6 169.5,190.9 172.2,190.8 174.4,190.4 176.7,189.6 178.1,188.8 179.4,187.3 179.8,185.7 179.5,183.7 178.8,181.8 178.2,180.2 177.7,178.4 177.6,176.3 178.1,174.7 179.3,173.1 180.4,172.3 182.3,171.5 185.0,170.8 186.8,170.6 189.6,170.4 192.3,170.2 194.1,169.7 195.8,168.4 196.7,166.9 197.2,165.3 197.8,163.7 198.7,161.9 199.6,160.3 200.4,158.2 199.6,156.5 197.8,155.4 195.9,154.8 194.1,154.2 191.5,153.5 189.6,153.0 187.7,152.5 185.8,151.9 183.2,151.3 181.3,151.0 178.6,150.6 176.8,150.4 174.0,149.6 172.3,148.8 171.1,148.0 169.5,146.8 168.1,145.7 166.7,144.5 165.4,143.3 164.0,141.9 163.1,140.8 162.2,139.2 161.4,137.0 161.1,135.4 160.8,133.1 160.7,130.7 160.6,128.4 160.6,126.0 160.6,123.7" fill="none" stroke="#6b6b6b" stroke-width="0.45"/>
<path d="M204.2,200.6 204.2,198.3 204.2,196.5 204.1,194.3 204.1,192.0 203.9,189.6 203.7,187.3 203.5,184.9 203.2,182.7 202.9,181.0 202.3,178.9 200.9,178.6 199.8,180.2 199.1,181.8 198.1,183.3 196.9,184.9 195.9,185.7 194.1,186.9 192.3,187.7 190.5,188.4 188.6,189.0 186.8,189.8 185.2,191.2 184.4,192.8 184.1,195.0 184.0,196.7 183.9,199.0" fill="none" stroke="#6b6b6b" stroke-width="0.45"/>
<path d="M111.0,200.6 111.0,198.3 111.0,195.9 111.0,193.6 111.0,191.2 111.1,189.6 111.7,187.3 112.9,185.9 114.5,184.9 116.5,184.3 118.3,184.0 121.1,183.8 123.8,183.7 126.6,183.7 129.3,183.7 132.0,184.0 133.9,184.3 136.0,184.9 137.5,185.8 138.8,187.3 139.3,189.1 139.5,191.2 139.6,193.6 139.6,195.9 139.6,198.3 139.6,200.6" fill="none" stroke="#7a6a6a" stroke-width="0.45"/>
<path d="M170.2,170.8 172.2,170.1 174.0,169.2 175.7,168.4 177.5,167.6 179.5,166.9 181.3,166.4 183.2,166.1 185.9,165.7 188.0,165.3 189.6,164.2 189.6,162.8 187.7,161.7 185.2,161.4 183.2,161.3 180.4,161.2 177.7,161.1 174.9,161.1 172.2,161.0 169.5,160.9 166.7,160.9 164.0,160.8 161.3,160.8 158.5,160.8 155.8,160.8 153.0,160.8 150.3,160.7 148.3,160.6 145.7,160.1 143.9,159.3 142.4,158.2 141.2,157.1 140.0,155.9 138.4,154.5 136.8,153.5 134.8,152.8 133.0,152.5 130.2,152.4 128.2,152.7 125.8,153.5 124.3,154.3 122.9,155.3 121.3,156.6 120.2,157.7 118.8,159.0 117.4,160.3 116.2,161.4 114.7,162.9 113.8,164.2 113.3,166.1 113.8,167.6 115.6,169.2 117.4,169.9 119.3,170.3 122.0,170.5 124.7,170.5 127.5,170.5 130.2,170.5 133.0,170.5 135.7,170.6 138.4,170.6 141.2,170.6 143.9,170.6 146.6,170.7 148.5,170.8 151.2,170.9 154.0,171.0 156.7,171.1 159.4,171.2 162.2,171.3 164.9,171.3 167.6,171.2 170.2,170.8" fill="none" stroke="#555" stroke-width="0.4"/>
<path d="M62.0,184.8 L63.8,183.6 L65.5,181.3 L67.2,178.4 L68.9,177.9 L70.6,178.8 L71.4,176.1 L73.2,175.0 L75.7,175.6 L76.6,176.1 L76.6,177.9 L76.1,179.0 L77.4,180.2 L79.6,181.9 L80.4,181.9 L81.3,179.0 L81.3,176.1 L82.1,174.1 L83.0,177.9 L84.5,179.0 L84.7,181.3 L85.4,183.6 L87.5,185.1 L88.1,187.7 L89.2,188.2 L91.1,190.5 L91.3,194.0 L91.5,197.5" fill="none" stroke="#d6a32c" stroke-width="0.75" stroke-linejoin="round"/>
<path d="M72.3,162.9 L74.9,162.9 L75.7,165.6 L78.3,163.6 L80.8,164.7 L84.3,166.9 L85.1,168.7 L86.4,170.4 L88.5,173.8 L86.0,173.3 L85.1,171.5 L83.4,170.7 L82.1,172.5 L80.8,172.1 L79.1,171.0 L78.3,171.5 L77.4,167.5 L75.7,166.9 L74.0,166.4 L73.2,165.2 L72.3,162.9" fill="none" stroke="#d6a32c" stroke-width="0.75" stroke-linejoin="round"/>
<path d="M87.3,168.1 L89.4,167.5 L90.2,166.6 L89.8,168.7 L87.7,168.9 L87.3,168.1" fill="none" stroke="#d6a32c" stroke-width="0.75" stroke-linejoin="round"/>
<path d="M92.8,168.7 L94.1,169.8 L94.9,171.0 L96.2,171.5 L97.5,172.7 L98.8,174.1 L97.1,173.3 L94.5,171.5 L92.8,168.7" fill="none" stroke="#d6a32c" stroke-width="0.75" stroke-linejoin="round"/>
<path d="M62.5,168.1 L63.3,165.2 L62.9,161.8 L63.5,160.6 L66.7,160.0 L63.8,161.2 L64.6,162.9 L65.7,162.7 L64.2,164.1 L65.0,166.9 L63.8,166.9 L63.3,168.1" fill="none" stroke="#d6a32c" stroke-width="0.75" stroke-linejoin="round"/>
<path d="M69.3,159.4 L69.7,160.6 L70.2,162.3 L69.6,161.2 L69.3,159.4" fill="none" stroke="#d6a32c" stroke-width="0.75" stroke-linejoin="round"/>
<path d="M69.7,165.2 L71.9,165.4 L71.4,166.1 L69.7,165.9 L69.7,165.2" fill="none" stroke="#d6a32c" stroke-width="0.75" stroke-linejoin="round"/>
<path d="M62.9,171.5 L65.5,171.2 L65.5,171.9 L62.9,172.0" fill="none" stroke="#d6a32c" stroke-width="0.75" stroke-linejoin="round"/>
<path d="M66.1,173.3 L68.9,171.3 L67.2,171.9 L66.1,173.3" fill="none" stroke="#d6a32c" stroke-width="0.75" stroke-linejoin="round"/>
<path d="M62.9,140.4 L65.0,140.4 L64.6,143.3 L64.2,145.1 L66.3,146.8 L65.5,146.2 L63.8,145.9 L63.3,144.7 L62.9,143.3 L62.9,140.4" fill="none" stroke="#d6a32c" stroke-width="0.75" stroke-linejoin="round"/>
<path d="M64.6,153.7 L65.9,152.5 L67.6,150.8 L68.5,153.7 L67.6,154.8 L66.3,154.3 L64.6,153.7" fill="none" stroke="#d6a32c" stroke-width="0.75" stroke-linejoin="round"/>
<path d="M65.0,149.7 L66.3,148.5 L67.6,149.1 L66.3,150.2 L65.0,149.7" fill="none" stroke="#d6a32c" stroke-width="0.75" stroke-linejoin="round"/>
<path d="M62.9,136.4 L63.8,133.0 L64.6,133.0 L63.6,136.4" fill="none" stroke="#d6a32c" stroke-width="0.75" stroke-linejoin="round"/>
<path d="M100.5,184.8 L103.1,187.7 L102.6,187.8 L100.3,185.0" fill="none" stroke="#d6a32c" stroke-width="0.75" stroke-linejoin="round"/>
<path d="M103.1,179.0 L103.9,180.8 L104.2,182.2" fill="none" stroke="#d6a32c" stroke-width="0.75" stroke-linejoin="round"/>
<path d="M112.0,181.9 L112.9,182.7 L113.0,181.3" fill="none" stroke="#d6a32c" stroke-width="0.75" stroke-linejoin="round"/>
<path d="M131.1,136.4 L132.1,137.2 L133.8,137.8 L134.7,139.3 L135.5,139.1" fill="none" stroke="#d6a32c" stroke-width="0.75" stroke-linejoin="round"/>
<path d="M168.9,127.2 L170.1,129.5 L171.8,133.0 L174.0,135.4 L174.4,134.1 L172.3,130.7 L171.4,128.4 L171.0,127.2" fill="none" stroke="#d6a32c" stroke-width="0.75" stroke-linejoin="round"/>
<path d="M171.8,127.2 L174.0,130.7 L175.7,133.0 L177.4,136.4 L178.1,138.1 L178.2,139.3 L180.0,140.4 L182.5,141.6 L185.9,143.3 L187.6,143.9 L189.4,145.6 L192.8,147.4 L194.5,150.2 L196.2,151.4 L197.9,152.5 L200.0,153.1 L201.3,152.0 L201.7,153.7 L201.3,157.1 L200.5,159.4 L199.6,161.8 L198.8,164.6 L199.4,166.4 L198.8,168.7 L200.5,172.1 L202.2,175.6 L203.0,177.9 L204.7,180.2 L207.3,182.5 L208.0,184.8 L208.0,190.5 L206.9,196.9" fill="none" stroke="#d6a32c" stroke-width="0.75" stroke-linejoin="round"/>
<path d="M185.1,126.6 L185.1,127.8 L184.7,130.7 L184.2,133.0 L184.5,136.4 L185.1,138.7 L186.8,140.4 L189.4,140.4 L190.6,139.3 L191.1,137.6 L193.6,137.0 L193.6,140.4 L192.3,143.3 L194.5,143.6 L196.2,143.3 L196.9,144.5 L196.6,147.9 L196.4,149.1 L197.9,150.8 L200.0,150.9 L201.3,151.7 L202.6,149.7 L203.9,149.1 L205.6,147.9 L206.9,149.1 L208.2,149.7 L212.4,149.7 L215.0,149.7 L217.6,149.7" fill="none" stroke="#d6a32c" stroke-width="0.75" stroke-linejoin="round"/>
<path d="M197.0,126.6 L197.5,129.5 L198.3,130.7 L198.6,132.6 L199.4,132.4 L199.6,130.7 L198.8,126.6" fill="none" stroke="#d6a32c" stroke-width="0.75" stroke-linejoin="round"/>
<path d="M195.3,136.4 L197.0,135.3 L199.6,135.3 L202.2,137.0 L204.6,138.5 L202.6,138.8 L200.5,137.6 L197.9,136.4 L195.3,136.4" fill="none" stroke="#d6a32c" stroke-width="0.75" stroke-linejoin="round"/>
<path d="M206.0,138.9 L209.4,139.9 L209.0,140.7 L206.4,141.0 L205.2,140.4 L206.0,138.9" fill="none" stroke="#d6a32c" stroke-width="0.75" stroke-linejoin="round"/>
<path d="M201.3,140.4 L202.7,140.8 L201.7,141.3 L201.3,140.4" fill="none" stroke="#d6a32c" stroke-width="0.75" stroke-linejoin="round"/>
<path d="M210.5,140.4 L212.0,140.6 L211.8,141.0 L210.5,140.9" fill="none" stroke="#d6a32c" stroke-width="0.75" stroke-linejoin="round"/>
</g>
<rect x="62.9" y="127.2" width="153.8" height="69.1" fill="none" stroke="#666" stroke-width="0.9"/>
<text x="78.1" y="125.5" font-family="Liberation Mono" font-weight="bold" font-size="6.1" fill="#505050" textLength="98.5" lengthAdjust="spacingAndGlyphs">SST Anomaly ERSSTv5 Date= 201110</text>
<g font-family="Liberation Sans" font-weight="bold" fill="#1e1e1e" stroke="#1e1e1e" stroke-width="0.45">
<text x="61.7" y="128.4" font-size="3.6" text-anchor="end" textLength="5.2" lengthAdjust="spacingAndGlyphs">30N</text>
<text x="61.7" y="134.2" font-size="3.6" text-anchor="end" textLength="5.2" lengthAdjust="spacingAndGlyphs">25N</text>
<text x="61.7" y="140.0" font-size="3.6" text-anchor="end" textLength="5.2" lengthAdjust="spacingAndGlyphs">20N</text>
<text x="61.7" y="145.7" font-size="3.6" text-anchor="end" textLength="5.2" lengthAdjust="spacingAndGlyphs">15N</text>
<text x="61.7" y="151.5" font-size="3.6" text-anchor="end" textLength="5.2" lengthAdjust="spacingAndGlyphs">10N</text>
<text x="61.7" y="157.2" font-size="3.6" text-anchor="end" textLength="3.6" lengthAdjust="spacingAndGlyphs">5N</text>
<text x="61.7" y="163.0" font-size="3.6" text-anchor="end" textLength="3.6" lengthAdjust="spacingAndGlyphs">EQ</text>
<text x="61.7" y="168.8" font-size="3.6" text-anchor="end" textLength="3.6" lengthAdjust="spacingAndGlyphs">5S</text>
<text x="61.7" y="174.5" font-size="3.6" text-anchor="end" textLength="5.2" lengthAdjust="spacingAndGlyphs">10S</text>
<text x="61.7" y="180.3" font-size="3.6" text-anchor="end" textLength="5.2" lengthAdjust="spacingAndGlyphs">15S</text>
<text x="61.7" y="186.0" font-size="3.6" text-anchor="end" textLength="5.2" lengthAdjust="spacingAndGlyphs">20S</text>
<text x="61.7" y="191.8" font-size="3.6" text-anchor="end" textLength="5.2" lengthAdjust="spacingAndGlyphs">25S</text>
<text x="61.7" y="197.6" font-size="3.6" text-anchor="end" textLength="5.2" lengthAdjust="spacingAndGlyphs">30S</text>
<text x="62.9" y="201.0" font-size="3.7" text-anchor="middle" textLength="5.6" lengthAdjust="spacingAndGlyphs">120E</text>
<text x="80.0" y="201.0" font-size="3.7" text-anchor="middle" textLength="5.6" lengthAdjust="spacingAndGlyphs">140E</text>
<text x="97.1" y="201.0" font-size="3.7" text-anchor="middle" textLength="5.6" lengthAdjust="spacingAndGlyphs">160E</text>
<text x="114.2" y="201.0" font-size="3.7" text-anchor="middle" textLength="4.6" lengthAdjust="spacingAndGlyphs">180</text>
<text x="131.3" y="201.0" font-size="3.7" text-anchor="middle" textLength="5.6" lengthAdjust="spacingAndGlyphs">160W</text>
<text x="148.3" y="201.0" font-size="3.7" text-anchor="middle" textLength="5.6" lengthAdjust="spacingAndGlyphs">140W</text>
<text x="165.4" y="201.0" font-size="3.7" text-anchor="middle" textLength="5.6" lengthAdjust="spacingAndGlyphs">120W</text>
<text x="182.5" y="201.0" font-size="3.7" text-anchor="middle" textLength="5.6" lengthAdjust="spacingAndGlyphs">100W</text>
<text x="199.6" y="201.0" font-size="3.7" text-anchor="middle" textLength="4.6" lengthAdjust="spacingAndGlyphs">80W</text>
<text x="216.7" y="201.0" font-size="3.7" text-anchor="middle" textLength="4.6" lengthAdjust="spacingAndGlyphs">60W</text>
</g>
<text x="69.0" y="140.8" font-family="Liberation Sans" font-weight="bold" font-size="12.6" fill="#000" stroke="#000" stroke-width="0.25" textLength="85.9" lengthAdjust="spacingAndGlyphs">Niña 1 201110</text>
<rect x="443.5" y="154.0" width="173.5" height="95.3" fill="#fff"/>
<clipPath id="cp3"><rect x="452.0" y="172.0" width="154.5" height="69.3"/></clipPath>
<g clip-path="url(#cp3)">
<rect x="452.0" y="172.0" width="154.5" height="69.3" fill="#f8fafc"/>
<g filter="url(#blg)">
<linearGradient id="g3_0" gradientUnits="userSpaceOnUse" x1="452.0" x2="606.5" y1="0" y2="0"><stop offset="0.031" stop-color="#fbc3c3"/><stop offset="0.094" stop-color="#449bd5"/><stop offset="0.156" stop-color="#449bd5"/><stop offset="0.219" stop-color="#449bd5"/><stop offset="0.281" stop-color="#449bd5"/><stop offset="0.344" stop-color="#7db9e2"/><stop offset="0.406" stop-color="#7db9e2"/><stop offset="0.469" stop-color="#e3eff9"/><stop offset="0.531" stop-color="#b6d7ef"/><stop offset="0.594" stop-color="#b6d7ef"/><stop offset="0.656" stop-color="#fde7e7"/><stop offset="0.719" stop-color="#f98585"/><stop offset="0.781" stop-color="#fbc3c3"/><stop offset="0.844" stop-color="#1d7dc4"/><stop offset="0.906" stop-color="#ffffff"/><stop offset="0.969" stop-color="#b6d7ef"/></linearGradient>
<rect x="448.00" y="168.00" width="162.50" height="6.73" fill="url(#g3_0)"/>
<linearGradient id="g3_1" gradientUnits="userSpaceOnUse" x1="452.0" x2="606.5" y1="0" y2="0"><stop offset="0.031" stop-color="#fbc3c3"/><stop offset="0.094" stop-color="#449bd5"/><stop offset="0.156" stop-color="#449bd5"/><stop offset="0.219" stop-color="#449bd5"/><stop offset="0.281" stop-color="#449bd5"/><stop offset="0.344" stop-color="#7db9e2"/><stop offset="0.406" stop-color="#7db9e2"/><stop offset="0.469" stop-color="#e3eff9"/><stop offset="0.531" stop-color="#b6d7ef"/><stop offset="0.594" stop-color="#b6d7ef"/><stop offset="0.656" stop-color="#fde7e7"/><stop offset="0.719" stop-color="#f98585"/><stop offset="0.781" stop-color="#fbc3c3"/><stop offset="0.844" stop-color="#1d7dc4"/><stop offset="0.906" stop-color="#ffffff"/><stop offset="0.969" stop-color="#b6d7ef"/></linearGradient>
<rect x="448.00" y="174.47" width="162.50" height="2.73" fill="url(#g3_1)"/>
<linearGradient id="g3_2" gradientUnits="userSpaceOnUse" x1="452.0" x2="606.5" y1="0" y2="0"><stop offset="0.031" stop-color="#fbcbcb"/><stop offset="0.094" stop-color="#50a1d8"/><stop offset="0.156" stop-color="#50a1d8"/><stop offset="0.219" stop-color="#5ca8db"/><stop offset="0.281" stop-color="#5ca8db"/><stop offset="0.344" stop-color="#93c5e7"/><stop offset="0.406" stop-color="#93c5e7"/><stop offset="0.469" stop-color="#e9edf5"/><stop offset="0.531" stop-color="#c5daed"/><stop offset="0.594" stop-color="#c5d3e6"/><stop offset="0.656" stop-color="#fddfdf"/><stop offset="0.719" stop-color="#f99292"/><stop offset="0.781" stop-color="#fbc3c3"/><stop offset="0.844" stop-color="#4d99d1"/><stop offset="0.906" stop-color="#ffffff"/><stop offset="0.969" stop-color="#b6d7ef"/></linearGradient>
<rect x="448.00" y="176.95" width="162.50" height="2.73" fill="url(#g3_2)"/>
<linearGradient id="g3_3" gradientUnits="userSpaceOnUse" x1="452.0" x2="606.5" y1="0" y2="0"><stop offset="0.031" stop-color="#fcd5d5"/><stop offset="0.094" stop-color="#60aadc"/><stop offset="0.156" stop-color="#60aadc"/><stop offset="0.219" stop-color="#7db9e2"/><stop offset="0.281" stop-color="#7db9e2"/><stop offset="0.344" stop-color="#b0d4ee"/><stop offset="0.406" stop-color="#b0d4ee"/><stop offset="0.469" stop-color="#f0ebf0"/><stop offset="0.531" stop-color="#dadfeb"/><stop offset="0.594" stop-color="#d8cdd9"/><stop offset="0.656" stop-color="#fcd5d5"/><stop offset="0.719" stop-color="#faa4a4"/><stop offset="0.781" stop-color="#fbc3c3"/><stop offset="0.844" stop-color="#8ebee2"/><stop offset="0.906" stop-color="#ffffff"/><stop offset="0.969" stop-color="#b6d7ef"/></linearGradient>
<rect x="448.00" y="179.43" width="162.50" height="2.73" fill="url(#g3_3)"/>
<linearGradient id="g3_4" gradientUnits="userSpaceOnUse" x1="452.0" x2="606.5" y1="0" y2="0"><stop offset="0.031" stop-color="#fddfdf"/><stop offset="0.094" stop-color="#71b3df"/><stop offset="0.156" stop-color="#71b3df"/><stop offset="0.219" stop-color="#9ecae9"/><stop offset="0.281" stop-color="#9ecae9"/><stop offset="0.344" stop-color="#cde3f4"/><stop offset="0.406" stop-color="#cde3f4"/><stop offset="0.469" stop-color="#f7e9eb"/><stop offset="0.531" stop-color="#eee4e9"/><stop offset="0.594" stop-color="#ecc7cc"/><stop offset="0.656" stop-color="#fbcbcb"/><stop offset="0.719" stop-color="#fbb6b6"/><stop offset="0.781" stop-color="#fbc3c3"/><stop offset="0.844" stop-color="#cfe3f2"/><stop offset="0.906" stop-color="#ffffff"/><stop offset="0.969" stop-color="#b6d7ef"/></linearGradient>
<rect x="448.00" y="181.90" width="162.50" height="2.73" fill="url(#g3_4)"/>
<linearGradient id="g3_5" gradientUnits="userSpaceOnUse" x1="452.0" x2="606.5" y1="0" y2="0"><stop offset="0.031" stop-color="#fde7e7"/><stop offset="0.094" stop-color="#81bbe3"/><stop offset="0.156" stop-color="#7db9e2"/><stop offset="0.219" stop-color="#b2d5ee"/><stop offset="0.281" stop-color="#b6d7ef"/><stop offset="0.344" stop-color="#e3eff9"/><stop offset="0.406" stop-color="#e3eff9"/><stop offset="0.469" stop-color="#fde7e7"/><stop offset="0.531" stop-color="#fde4e4"/><stop offset="0.594" stop-color="#fbc3c3"/><stop offset="0.656" stop-color="#fbc3c3"/><stop offset="0.719" stop-color="#fbc3c3"/><stop offset="0.781" stop-color="#fbc3c3"/><stop offset="0.844" stop-color="#fffbfb"/><stop offset="0.906" stop-color="#ffffff"/><stop offset="0.969" stop-color="#bbdaf0"/></linearGradient>
<rect x="448.00" y="184.38" width="162.50" height="2.73" fill="url(#g3_5)"/>
<linearGradient id="g3_6" gradientUnits="userSpaceOnUse" x1="452.0" x2="606.5" y1="0" y2="0"><stop offset="0.031" stop-color="#fde7e7"/><stop offset="0.094" stop-color="#91c4e7"/><stop offset="0.156" stop-color="#7db9e2"/><stop offset="0.219" stop-color="#a2ccea"/><stop offset="0.281" stop-color="#b6d7ef"/><stop offset="0.344" stop-color="#e3eff9"/><stop offset="0.406" stop-color="#e3eff9"/><stop offset="0.469" stop-color="#fde7e7"/><stop offset="0.531" stop-color="#fcdada"/><stop offset="0.594" stop-color="#fbc3c3"/><stop offset="0.656" stop-color="#fbc3c3"/><stop offset="0.719" stop-color="#fbc3c3"/><stop offset="0.781" stop-color="#fbc3c3"/><stop offset="0.844" stop-color="#feeaea"/><stop offset="0.906" stop-color="#ffffff"/><stop offset="0.969" stop-color="#d0e5f5"/></linearGradient>
<rect x="448.00" y="186.85" width="162.50" height="2.73" fill="url(#g3_6)"/>
<linearGradient id="g3_7" gradientUnits="userSpaceOnUse" x1="452.0" x2="606.5" y1="0" y2="0"><stop offset="0.031" stop-color="#fde7e7"/><stop offset="0.094" stop-color="#a2ccea"/><stop offset="0.156" stop-color="#7db9e2"/><stop offset="0.219" stop-color="#91c4e7"/><stop offset="0.281" stop-color="#b6d7ef"/><stop offset="0.344" stop-color="#e3eff9"/><stop offset="0.406" stop-color="#e3eff9"/><stop offset="0.469" stop-color="#fde7e7"/><stop offset="0.531" stop-color="#fcd0d0"/><stop offset="0.594" stop-color="#fbc3c3"/><stop offset="0.656" stop-color="#fbc3c3"/><stop offset="0.719" stop-color="#fbc3c3"/><stop offset="0.781" stop-color="#fbc3c3"/><stop offset="0.844" stop-color="#fcd8d8"/><stop offset="0.906" stop-color="#ffffff"/><stop offset="0.969" stop-color="#e5f1f9"/></linearGradient>
<rect x="448.00" y="189.32" width="162.50" height="2.73" fill="url(#g3_7)"/>
<linearGradient id="g3_8" gradientUnits="userSpaceOnUse" x1="452.0" x2="606.5" y1="0" y2="0"><stop offset="0.031" stop-color="#fde7e7"/><stop offset="0.094" stop-color="#b2d5ee"/><stop offset="0.156" stop-color="#7db9e2"/><stop offset="0.219" stop-color="#81bbe3"/><stop offset="0.281" stop-color="#b6d7ef"/><stop offset="0.344" stop-color="#e3eff9"/><stop offset="0.406" stop-color="#e3eff9"/><stop offset="0.469" stop-color="#fde7e7"/><stop offset="0.531" stop-color="#fbc6c6"/><stop offset="0.594" stop-color="#fbc3c3"/><stop offset="0.656" stop-color="#fbc3c3"/><stop offset="0.719" stop-color="#fbc3c3"/><stop offset="0.781" stop-color="#fbc3c3"/><stop offset="0.844" stop-color="#fbc7c7"/><stop offset="0.906" stop-color="#ffffff"/><stop offset="0.969" stop-color="#fafcfe"/></linearGradient>
<rect x="448.00" y="191.80" width="162.50" height="2.73" fill="url(#g3_8)"/>
<linearGradient id="g3_9" gradientUnits="userSpaceOnUse" x1="452.0" x2="606.5" y1="0" y2="0"><stop offset="0.031" stop-color="#eee4e9"/><stop offset="0.094" stop-color="#b6d7ef"/><stop offset="0.156" stop-color="#89bfe5"/><stop offset="0.219" stop-color="#89bfe5"/><stop offset="0.281" stop-color="#b6d7ef"/><stop offset="0.344" stop-color="#e3eff9"/><stop offset="0.406" stop-color="#e8e6ed"/><stop offset="0.469" stop-color="#fcd2d2"/><stop offset="0.531" stop-color="#fbb6b6"/><stop offset="0.594" stop-color="#fbb6b6"/><stop offset="0.656" stop-color="#fbb6b6"/><stop offset="0.719" stop-color="#fbb6b6"/><stop offset="0.781" stop-color="#fbb6b6"/><stop offset="0.844" stop-color="#fbc3c3"/><stop offset="0.906" stop-color="#ffffff"/><stop offset="0.969" stop-color="#ffffff"/></linearGradient>
<rect x="448.00" y="194.28" width="162.50" height="2.73" fill="url(#g3_9)"/>
<linearGradient id="g3_10" gradientUnits="userSpaceOnUse" x1="452.0" x2="606.5" y1="0" y2="0"><stop offset="0.031" stop-color="#dadfeb"/><stop offset="0.094" stop-color="#b6d7ef"/><stop offset="0.156" stop-color="#9ac8e8"/><stop offset="0.219" stop-color="#9ac8e8"/><stop offset="0.281" stop-color="#b6d7ef"/><stop offset="0.344" stop-color="#e3eff9"/><stop offset="0.406" stop-color="#efd9de"/><stop offset="0.469" stop-color="#fbb6b6"/><stop offset="0.531" stop-color="#faa4a4"/><stop offset="0.594" stop-color="#faa4a4"/><stop offset="0.656" stop-color="#faa4a4"/><stop offset="0.719" stop-color="#faa4a4"/><stop offset="0.781" stop-color="#faa4a4"/><stop offset="0.844" stop-color="#fbc3c3"/><stop offset="0.906" stop-color="#ffffff"/><stop offset="0.969" stop-color="#ffffff"/></linearGradient>
<rect x="448.00" y="196.75" width="162.50" height="2.73" fill="url(#g3_10)"/>
<linearGradient id="g3_11" gradientUnits="userSpaceOnUse" x1="452.0" x2="606.5" y1="0" y2="0"><stop offset="0.031" stop-color="#c5daed"/><stop offset="0.094" stop-color="#b6d7ef"/><stop offset="0.156" stop-color="#aad1ec"/><stop offset="0.219" stop-color="#aad1ec"/><stop offset="0.281" stop-color="#b6d7ef"/><stop offset="0.344" stop-color="#e3eff9"/><stop offset="0.406" stop-color="#f6cccf"/><stop offset="0.469" stop-color="#fa9a9a"/><stop offset="0.531" stop-color="#f99292"/><stop offset="0.594" stop-color="#f99292"/><stop offset="0.656" stop-color="#f99292"/><stop offset="0.719" stop-color="#f99292"/><stop offset="0.781" stop-color="#f99292"/><stop offset="0.844" stop-color="#fbc3c3"/><stop offset="0.906" stop-color="#ffffff"/><stop offset="0.969" stop-color="#ffffff"/></linearGradient>
<rect x="448.00" y="199.22" width="162.50" height="2.73" fill="url(#g3_11)"/>
<linearGradient id="g3_12" gradientUnits="userSpaceOnUse" x1="452.0" x2="606.5" y1="0" y2="0"><stop offset="0.031" stop-color="#aed3ed"/><stop offset="0.094" stop-color="#b6d7ef"/><stop offset="0.156" stop-color="#b6d7ef"/><stop offset="0.219" stop-color="#b6d7ef"/><stop offset="0.281" stop-color="#b6d7ef"/><stop offset="0.344" stop-color="#e3eff9"/><stop offset="0.406" stop-color="#fbbfbf"/><stop offset="0.469" stop-color="#f88383"/><stop offset="0.531" stop-color="#f98585"/><stop offset="0.594" stop-color="#f98585"/><stop offset="0.656" stop-color="#f98585"/><stop offset="0.719" stop-color="#f98585"/><stop offset="0.781" stop-color="#f98585"/><stop offset="0.844" stop-color="#fbbfbf"/><stop offset="0.906" stop-color="#ffffff"/><stop offset="0.969" stop-color="#ffffff"/></linearGradient>
<rect x="448.00" y="201.70" width="162.50" height="2.73" fill="url(#g3_12)"/>
<linearGradient id="g3_13" gradientUnits="userSpaceOnUse" x1="452.0" x2="606.5" y1="0" y2="0"><stop offset="0.031" stop-color="#8dc2e6"/><stop offset="0.094" stop-color="#b6d7ef"/><stop offset="0.156" stop-color="#b6d7ef"/><stop offset="0.219" stop-color="#b6d7ef"/><stop offset="0.281" stop-color="#b6d7ef"/><stop offset="0.344" stop-color="#e3eff9"/><stop offset="0.406" stop-color="#faadad"/><stop offset="0.469" stop-color="#f67c7c"/><stop offset="0.531" stop-color="#f98585"/><stop offset="0.594" stop-color="#f98585"/><stop offset="0.656" stop-color="#f98585"/><stop offset="0.719" stop-color="#f98585"/><stop offset="0.781" stop-color="#f98585"/><stop offset="0.844" stop-color="#faadad"/><stop offset="0.906" stop-color="#ffffff"/><stop offset="0.969" stop-color="#ffffff"/></linearGradient>
<rect x="448.00" y="204.18" width="162.50" height="2.73" fill="url(#g3_13)"/>
<linearGradient id="g3_14" gradientUnits="userSpaceOnUse" x1="452.0" x2="606.5" y1="0" y2="0"><stop offset="0.031" stop-color="#6db0de"/><stop offset="0.094" stop-color="#b6d7ef"/><stop offset="0.156" stop-color="#b6d7ef"/><stop offset="0.219" stop-color="#b6d7ef"/><stop offset="0.281" stop-color="#b6d7ef"/><stop offset="0.344" stop-color="#e3eff9"/><stop offset="0.406" stop-color="#fa9b9b"/><stop offset="0.469" stop-color="#f47575"/><stop offset="0.531" stop-color="#f98585"/><stop offset="0.594" stop-color="#f98585"/><stop offset="0.656" stop-color="#f98585"/><stop offset="0.719" stop-color="#f98585"/><stop offset="0.781" stop-color="#f98585"/><stop offset="0.844" stop-color="#fa9b9b"/><stop offset="0.906" stop-color="#ffffff"/><stop offset="0.969" stop-color="#ffffff"/></linearGradient>
<rect x="448.00" y="206.65" width="162.50" height="2.73" fill="url(#g3_14)"/>
<linearGradient id="g3_15" gradientUnits="userSpaceOnUse" x1="452.0" x2="606.5" y1="0" y2="0"><stop offset="0.031" stop-color="#4c9fd7"/><stop offset="0.094" stop-color="#b6d7ef"/><stop offset="0.156" stop-color="#b6d7ef"/><stop offset="0.219" stop-color="#b6d7ef"/><stop offset="0.281" stop-color="#b6d7ef"/><stop offset="0.344" stop-color="#e3eff9"/><stop offset="0.406" stop-color="#f98989"/><stop offset="0.469" stop-color="#f26e6e"/><stop offset="0.531" stop-color="#f98585"/><stop offset="0.594" stop-color="#f98585"/><stop offset="0.656" stop-color="#f98585"/><stop offset="0.719" stop-color="#f98585"/><stop offset="0.781" stop-color="#f98585"/><stop offset="0.844" stop-color="#f98989"/><stop offset="0.906" stop-color="#ffffff"/><stop offset="0.969" stop-color="#ffffff"/></linearGradient>
<rect x="448.00" y="209.12" width="162.50" height="2.73" fill="url(#g3_15)"/>
<linearGradient id="g3_16" gradientUnits="userSpaceOnUse" x1="452.0" x2="606.5" y1="0" y2="0"><stop offset="0.031" stop-color="#66addd"/><stop offset="0.094" stop-color="#c0dcf1"/><stop offset="0.156" stop-color="#9ecae9"/><stop offset="0.219" stop-color="#9ecae9"/><stop offset="0.281" stop-color="#9ecae9"/><stop offset="0.344" stop-color="#d9eaf7"/><stop offset="0.406" stop-color="#f49c9e"/><stop offset="0.469" stop-color="#f48686"/><stop offset="0.531" stop-color="#f99292"/><stop offset="0.594" stop-color="#f98585"/><stop offset="0.656" stop-color="#f98585"/><stop offset="0.719" stop-color="#f98585"/><stop offset="0.781" stop-color="#f98585"/><stop offset="0.844" stop-color="#f98585"/><stop offset="0.906" stop-color="#ffffff"/><stop offset="0.969" stop-color="#ffffff"/></linearGradient>
<rect x="448.00" y="211.60" width="162.50" height="2.73" fill="url(#g3_16)"/>
<linearGradient id="g3_17" gradientUnits="userSpaceOnUse" x1="452.0" x2="606.5" y1="0" y2="0"><stop offset="0.031" stop-color="#94c5e7"/><stop offset="0.094" stop-color="#cce3f4"/><stop offset="0.156" stop-color="#7db9e2"/><stop offset="0.219" stop-color="#7db9e2"/><stop offset="0.281" stop-color="#7db9e2"/><stop offset="0.344" stop-color="#cce3f4"/><stop offset="0.406" stop-color="#eebabf"/><stop offset="0.469" stop-color="#f8aaaa"/><stop offset="0.531" stop-color="#faa4a4"/><stop offset="0.594" stop-color="#f98585"/><stop offset="0.656" stop-color="#f98585"/><stop offset="0.719" stop-color="#f98585"/><stop offset="0.781" stop-color="#f98585"/><stop offset="0.844" stop-color="#f98585"/><stop offset="0.906" stop-color="#ffffff"/><stop offset="0.969" stop-color="#ffffff"/></linearGradient>
<rect x="448.00" y="214.07" width="162.50" height="2.73" fill="url(#g3_17)"/>
<linearGradient id="g3_18" gradientUnits="userSpaceOnUse" x1="452.0" x2="606.5" y1="0" y2="0"><stop offset="0.031" stop-color="#c1ddf1"/><stop offset="0.094" stop-color="#d9eaf7"/><stop offset="0.156" stop-color="#5ca8db"/><stop offset="0.219" stop-color="#5ca8db"/><stop offset="0.281" stop-color="#5ca8db"/><stop offset="0.344" stop-color="#c0dcf1"/><stop offset="0.406" stop-color="#e8d8e0"/><stop offset="0.469" stop-color="#fbcdcd"/><stop offset="0.531" stop-color="#fbb6b6"/><stop offset="0.594" stop-color="#f98585"/><stop offset="0.656" stop-color="#f98585"/><stop offset="0.719" stop-color="#f98585"/><stop offset="0.781" stop-color="#f98585"/><stop offset="0.844" stop-color="#f98585"/><stop offset="0.906" stop-color="#ffffff"/><stop offset="0.969" stop-color="#ffffff"/></linearGradient>
<rect x="448.00" y="216.55" width="162.50" height="2.73" fill="url(#g3_18)"/>
<linearGradient id="g3_19" gradientUnits="userSpaceOnUse" x1="452.0" x2="606.5" y1="0" y2="0"><stop offset="0.031" stop-color="#e5f0f9"/><stop offset="0.094" stop-color="#e5f0f9"/><stop offset="0.156" stop-color="#449bd5"/><stop offset="0.219" stop-color="#4199d4"/><stop offset="0.281" stop-color="#449bd5"/><stop offset="0.344" stop-color="#b6d7ef"/><stop offset="0.406" stop-color="#e0edf8"/><stop offset="0.469" stop-color="#f8e6e8"/><stop offset="0.531" stop-color="#f2c2c5"/><stop offset="0.594" stop-color="#f48b8d"/><stop offset="0.656" stop-color="#f98c8c"/><stop offset="0.719" stop-color="#f98989"/><stop offset="0.781" stop-color="#f98585"/><stop offset="0.844" stop-color="#f98585"/><stop offset="0.906" stop-color="#fffbfb"/><stop offset="0.969" stop-color="#ffffff"/></linearGradient>
<rect x="448.00" y="219.03" width="162.50" height="2.73" fill="url(#g3_19)"/>
<linearGradient id="g3_20" gradientUnits="userSpaceOnUse" x1="452.0" x2="606.5" y1="0" y2="0"><stop offset="0.031" stop-color="#edf5fb"/><stop offset="0.094" stop-color="#edf5fb"/><stop offset="0.156" stop-color="#449bd5"/><stop offset="0.219" stop-color="#3690cf"/><stop offset="0.281" stop-color="#449bd5"/><stop offset="0.344" stop-color="#b6d7ef"/><stop offset="0.406" stop-color="#d3e6f5"/><stop offset="0.469" stop-color="#e4e1ea"/><stop offset="0.531" stop-color="#cebfce"/><stop offset="0.594" stop-color="#e1a2ab"/><stop offset="0.656" stop-color="#faa8a8"/><stop offset="0.719" stop-color="#fa9b9b"/><stop offset="0.781" stop-color="#f98585"/><stop offset="0.844" stop-color="#f98585"/><stop offset="0.906" stop-color="#feeaea"/><stop offset="0.969" stop-color="#ffffff"/></linearGradient>
<rect x="448.00" y="221.50" width="162.50" height="2.73" fill="url(#g3_20)"/>
<linearGradient id="g3_21" gradientUnits="userSpaceOnUse" x1="452.0" x2="606.5" y1="0" y2="0"><stop offset="0.031" stop-color="#f5f9fd"/><stop offset="0.094" stop-color="#f5f9fd"/><stop offset="0.156" stop-color="#449bd5"/><stop offset="0.219" stop-color="#2b88ca"/><stop offset="0.281" stop-color="#449bd5"/><stop offset="0.344" stop-color="#b6d7ef"/><stop offset="0.406" stop-color="#c6e0f3"/><stop offset="0.469" stop-color="#cfddec"/><stop offset="0.531" stop-color="#aabdd7"/><stop offset="0.594" stop-color="#cebac9"/><stop offset="0.656" stop-color="#fcc4c4"/><stop offset="0.719" stop-color="#faadad"/><stop offset="0.781" stop-color="#f98585"/><stop offset="0.844" stop-color="#f98585"/><stop offset="0.906" stop-color="#fcd8d8"/><stop offset="0.969" stop-color="#ffffff"/></linearGradient>
<rect x="448.00" y="223.98" width="162.50" height="2.73" fill="url(#g3_21)"/>
<linearGradient id="g3_22" gradientUnits="userSpaceOnUse" x1="452.0" x2="606.5" y1="0" y2="0"><stop offset="0.031" stop-color="#fdfeff"/><stop offset="0.094" stop-color="#fdfeff"/><stop offset="0.156" stop-color="#449bd5"/><stop offset="0.219" stop-color="#207fc5"/><stop offset="0.281" stop-color="#449bd5"/><stop offset="0.344" stop-color="#b6d7ef"/><stop offset="0.406" stop-color="#b9d9f0"/><stop offset="0.469" stop-color="#bbd8ee"/><stop offset="0.531" stop-color="#86bae0"/><stop offset="0.594" stop-color="#bbd1e7"/><stop offset="0.656" stop-color="#fde0e0"/><stop offset="0.719" stop-color="#fbbfbf"/><stop offset="0.781" stop-color="#f98585"/><stop offset="0.844" stop-color="#f98585"/><stop offset="0.906" stop-color="#fbc7c7"/><stop offset="0.969" stop-color="#ffffff"/></linearGradient>
<rect x="448.00" y="226.45" width="162.50" height="2.73" fill="url(#g3_22)"/>
<linearGradient id="g3_23" gradientUnits="userSpaceOnUse" x1="452.0" x2="606.5" y1="0" y2="0"><stop offset="0.031" stop-color="#ffffff"/><stop offset="0.094" stop-color="#ffffff"/><stop offset="0.156" stop-color="#6cb0de"/><stop offset="0.219" stop-color="#3e90cd"/><stop offset="0.281" stop-color="#50a1d8"/><stop offset="0.344" stop-color="#9ecae9"/><stop offset="0.406" stop-color="#95c4e6"/><stop offset="0.469" stop-color="#95c4e6"/><stop offset="0.531" stop-color="#68acdc"/><stop offset="0.594" stop-color="#9ecae9"/><stop offset="0.656" stop-color="#eee4e9"/><stop offset="0.719" stop-color="#fbcbcb"/><stop offset="0.781" stop-color="#fa9a9a"/><stop offset="0.844" stop-color="#fa9a9a"/><stop offset="0.906" stop-color="#fbc3c3"/><stop offset="0.969" stop-color="#ffffff"/></linearGradient>
<rect x="448.00" y="228.93" width="162.50" height="2.73" fill="url(#g3_23)"/>
<linearGradient id="g3_24" gradientUnits="userSpaceOnUse" x1="452.0" x2="606.5" y1="0" y2="0"><stop offset="0.031" stop-color="#ffffff"/><stop offset="0.094" stop-color="#ffffff"/><stop offset="0.156" stop-color="#a2cdea"/><stop offset="0.219" stop-color="#6aaada"/><stop offset="0.281" stop-color="#60aadc"/><stop offset="0.344" stop-color="#7db9e2"/><stop offset="0.406" stop-color="#6aaada"/><stop offset="0.469" stop-color="#6aaada"/><stop offset="0.531" stop-color="#4d9bd3"/><stop offset="0.594" stop-color="#7db9e2"/><stop offset="0.656" stop-color="#dadfeb"/><stop offset="0.719" stop-color="#fcd5d5"/><stop offset="0.781" stop-color="#fbb6b6"/><stop offset="0.844" stop-color="#fbb6b6"/><stop offset="0.906" stop-color="#fbc3c3"/><stop offset="0.969" stop-color="#ffffff"/></linearGradient>
<rect x="448.00" y="231.40" width="162.50" height="2.73" fill="url(#g3_24)"/>
<linearGradient id="g3_25" gradientUnits="userSpaceOnUse" x1="452.0" x2="606.5" y1="0" y2="0"><stop offset="0.031" stop-color="#ffffff"/><stop offset="0.094" stop-color="#ffffff"/><stop offset="0.156" stop-color="#d7eaf6"/><stop offset="0.219" stop-color="#95c4e6"/><stop offset="0.281" stop-color="#71b3df"/><stop offset="0.344" stop-color="#5ca8db"/><stop offset="0.406" stop-color="#3e90cd"/><stop offset="0.469" stop-color="#3e90cd"/><stop offset="0.531" stop-color="#328aca"/><stop offset="0.594" stop-color="#5ca8db"/><stop offset="0.656" stop-color="#c5daed"/><stop offset="0.719" stop-color="#fddfdf"/><stop offset="0.781" stop-color="#fcd2d2"/><stop offset="0.844" stop-color="#fcd2d2"/><stop offset="0.906" stop-color="#fbc3c3"/><stop offset="0.969" stop-color="#ffffff"/></linearGradient>
<rect x="448.00" y="233.88" width="162.50" height="2.73" fill="url(#g3_25)"/>
<linearGradient id="g3_26" gradientUnits="userSpaceOnUse" x1="452.0" x2="606.5" y1="0" y2="0"><stop offset="0.031" stop-color="#ffffff"/><stop offset="0.094" stop-color="#ffffff"/><stop offset="0.156" stop-color="#ffffff"/><stop offset="0.219" stop-color="#b6d7ef"/><stop offset="0.281" stop-color="#7db9e2"/><stop offset="0.344" stop-color="#449bd5"/><stop offset="0.406" stop-color="#1d7dc4"/><stop offset="0.469" stop-color="#1d7dc4"/><stop offset="0.531" stop-color="#1d7dc4"/><stop offset="0.594" stop-color="#449bd5"/><stop offset="0.656" stop-color="#b6d7ef"/><stop offset="0.719" stop-color="#fde7e7"/><stop offset="0.781" stop-color="#fde7e7"/><stop offset="0.844" stop-color="#fde7e7"/><stop offset="0.906" stop-color="#fbc3c3"/><stop offset="0.969" stop-color="#ffffff"/></linearGradient>
<rect x="448.00" y="236.35" width="162.50" height="2.73" fill="url(#g3_26)"/>
<linearGradient id="g3_27" gradientUnits="userSpaceOnUse" x1="452.0" x2="606.5" y1="0" y2="0"><stop offset="0.031" stop-color="#ffffff"/><stop offset="0.094" stop-color="#ffffff"/><stop offset="0.156" stop-color="#ffffff"/><stop offset="0.219" stop-color="#b6d7ef"/><stop offset="0.281" stop-color="#7db9e2"/><stop offset="0.344" stop-color="#449bd5"/><stop offset="0.406" stop-color="#1d7dc4"/><stop offset="0.469" stop-color="#1d7dc4"/><stop offset="0.531" stop-color="#1d7dc4"/><stop offset="0.594" stop-color="#449bd5"/><stop offset="0.656" stop-color="#b6d7ef"/><stop offset="0.719" stop-color="#fde7e7"/><stop offset="0.781" stop-color="#fde7e7"/><stop offset="0.844" stop-color="#fde7e7"/><stop offset="0.906" stop-color="#fbc3c3"/><stop offset="0.969" stop-color="#ffffff"/></linearGradient>
<rect x="448.00" y="238.83" width="162.50" height="6.73" fill="url(#g3_27)"/>
</g>
<path d="M461.4,167.7 461.4,170.0 461.4,172.4 461.4,174.8 461.4,177.1 461.5,179.5 461.6,181.8 461.8,183.9 462.1,185.8 462.6,188.1 463.0,189.7 463.4,192.1 463.4,194.4 462.8,196.5 461.8,197.8 460.0,199.0 458.2,199.6 455.8,200.0 453.6,200.1 450.8,200.2 448.1,200.2" fill="none" stroke="#b59a55" stroke-width="0.55"/>
<path d="M555.8,245.6 555.7,243.3 555.6,240.9 555.4,239.3 554.5,237.0 553.6,235.4 552.6,234.3 551.4,233.0 549.9,231.8 548.4,230.7 547.1,229.8 545.3,228.8 543.5,228.0 541.6,227.4 539.5,226.7 537.0,226.1 535.2,225.8 532.5,225.5 529.7,225.5 527.0,225.6 524.2,225.6 521.5,225.4 519.6,225.1 516.9,224.5 515.0,223.9 513.2,223.1 511.4,222.1 510.2,221.2 508.6,219.8 507.7,218.8 506.4,217.3 505.2,215.7 504.0,214.2 503.1,212.8 502.2,211.3 501.3,209.6 500.7,207.8 500.4,205.5 500.4,203.1 500.6,200.7 500.7,198.4 500.8,196.0 501.0,193.7 501.1,191.3 501.3,189.7 502.2,187.5 503.1,186.4 504.9,185.2 506.8,184.6 508.6,184.1 511.4,183.7 513.2,183.2 515.0,182.4 516.9,181.4 518.3,180.3 519.6,179.2 520.9,177.9 522.2,176.3 523.3,174.8 524.1,173.2 524.7,171.6 525.0,169.2" fill="none" stroke="#b59a55" stroke-width="0.55"/>
<path d="M527.4,167.7 527.5,170.0 527.9,171.6 528.8,173.4 529.9,174.8 531.5,175.9 533.4,176.6 536.1,177.1 538.9,176.9 541.3,176.3 542.8,175.5 544.3,174.0 544.8,172.4 545.1,170.0 545.2,167.7" fill="none" stroke="#b59a55" stroke-width="0.55"/>
<path d="M576.3,167.7 576.3,170.0 576.4,172.4 576.5,174.0 576.9,176.3 577.4,177.9 578.4,179.5 580.0,181.1 581.5,181.8 583.8,182.3 586.4,181.8 587.9,181.1 589.3,179.8 590.2,178.6 591.2,176.5 591.6,174.8 591.8,172.4 591.9,170.0 591.9,167.7" fill="none" stroke="#b59a55" stroke-width="0.55"/>
<path d="M598.7,167.7 598.7,170.0 598.7,172.4 598.7,174.8 598.7,177.1 598.8,179.5 599.1,181.8 599.5,183.4 600.5,185.0 602.2,186.4 604.0,187.0 605.9,187.4 608.6,187.5 611.3,187.5" fill="none" stroke="#b59a55" stroke-width="0.55"/>
<path d="M447.2,219.5 449.9,219.5 452.7,219.5 455.4,219.4 458.2,219.1 460.2,218.9 462.8,218.6 464.6,219.0 466.0,220.4 466.8,222.0 467.3,223.7 468.0,225.9 468.4,227.5 469.2,229.4 470.1,231.0 471.1,232.2 472.8,233.7 474.4,234.6 476.0,235.4 477.5,236.2 479.3,237.2 480.8,238.5 481.9,240.1 482.4,241.7 482.6,244.1" fill="none" stroke="#b59a55" stroke-width="0.55"/>
<path d="M455.5,167.7 455.5,170.0 455.5,172.4 455.4,174.0 454.9,176.3 454.4,177.9 453.3,179.5 451.8,180.5 449.7,181.1 447.2,181.2" fill="none" stroke="#b59a55" stroke-width="0.55"/>
<path d="M586.8,245.6 586.7,243.3 586.6,241.7 585.7,239.3 584.7,238.3 582.9,237.4 581.1,236.9 578.3,236.7 575.6,236.5 572.8,236.3 571.0,236.1 568.2,235.4 566.4,234.6 565.1,233.8 563.6,232.8 562.0,231.5 560.9,230.6 559.1,229.3 557.3,228.3 555.7,227.5 554.0,226.7 552.1,225.9 550.1,225.2 548.1,224.5 546.2,223.9 544.4,223.4 542.2,222.8 539.8,222.1 538.0,221.6 536.1,221.0 533.9,220.4 531.5,219.9 529.7,219.6 527.0,219.2 525.1,218.8 522.4,218.1 520.5,217.6 518.7,217.0 516.9,216.3 515.0,215.4 513.2,214.2 512.2,213.3 511.1,211.8 510.5,209.4 510.7,207.0 511.4,205.0 512.3,203.3 513.2,202.1 514.6,200.7 516.0,199.7 517.8,198.5 519.2,197.6 520.6,196.8 522.4,195.8 524.2,194.7 526.0,193.7 527.2,192.9 528.8,191.8 530.6,190.6 532.3,189.7 534.0,188.9 535.7,188.1 537.5,187.4 539.2,186.6 541.1,185.8 543.4,185.0 545.3,184.4 547.1,183.9 549.0,183.2 550.8,182.3 552.4,181.1 553.6,179.5 554.2,177.9 554.6,176.3 554.8,174.0 554.9,171.6 554.9,169.2" fill="none" stroke="#b59a55" stroke-width="0.55"/>
<path d="M572.0,167.7 572.0,170.0 572.1,172.4 572.1,174.8 572.2,177.1 572.5,179.5 572.9,181.1 573.6,183.4 574.5,185.0 575.6,186.5 576.5,187.5 578.1,188.9 579.2,189.7 581.1,190.9 582.6,192.1 583.8,193.4 584.7,195.2 585.2,196.8 585.6,199.2 586.0,200.7 586.6,202.9 587.2,204.7 587.8,206.3 588.4,208.4 588.8,210.2 589.1,212.6 589.2,214.9 589.3,216.5 589.7,218.9 590.2,220.9 591.1,222.8 592.1,224.4 593.0,225.8 593.9,227.5 594.5,229.1 594.8,231.5 594.8,232.7 594.7,234.6 594.5,237.0 594.4,239.3 594.3,241.7 594.3,244.1" fill="none" stroke="#b59a55" stroke-width="0.55"/>
<path d="M465.8,167.7 465.8,170.0 465.8,172.4 466.0,174.8 466.4,177.1 466.9,178.7 467.7,180.3 469.1,181.8 470.2,182.6 472.8,183.3 475.6,183.1 477.4,182.6 479.8,181.8 482.0,181.2 483.9,180.8 486.6,180.4 488.4,180.2 491.2,180.0 493.9,179.6 495.8,179.2 497.6,178.5 499.4,177.5 501.0,176.3 502.2,175.2 503.1,173.9 504.0,171.6 504.2,170.0 504.2,167.7" fill="none" stroke="#6b6b6b" stroke-width="0.45"/>
<path d="M580.0,167.7 580.1,170.0 580.1,171.8 580.5,174.0 581.3,175.5 582.9,176.5 584.7,175.7 585.7,174.0 586.0,172.4 586.1,170.0 586.1,167.7" fill="none" stroke="#6b6b6b" stroke-width="0.45"/>
<path d="M447.2,212.8 449.9,212.8 452.7,212.6 454.5,212.2 456.3,211.2 456.5,209.4 455.4,208.6 452.7,207.9 450.8,207.8 448.1,207.7" fill="none" stroke="#6b6b6b" stroke-width="0.45"/>
<path d="M547.9,245.6 547.9,243.3 547.7,240.9 547.2,238.5 546.4,237.0 545.3,235.5 544.4,234.6 542.5,233.2 540.8,232.2 538.9,231.5 537.0,230.9 535.2,230.5 532.5,230.3 529.7,230.5 527.9,230.7 525.1,231.0 522.4,231.2 519.6,231.3 516.9,231.3 514.5,231.5 512.3,231.7 509.5,232.0 507.6,232.2 504.9,232.4 503.1,232.2 501.3,231.3 500.4,229.8 499.9,227.5 499.7,225.2 499.4,223.1 499.0,221.2 498.2,219.6 496.8,218.1 495.6,217.3 493.7,216.5 491.2,216.0 488.4,215.9 485.7,215.8 482.9,215.9 480.2,216.1 478.1,216.5 476.5,217.3 474.9,218.9 474.3,220.4 474.0,222.8 474.2,225.2 474.7,226.9 475.6,228.5 477.0,229.9 478.4,230.7 480.2,231.6 482.0,232.3 484.1,233.0 486.6,233.7 488.4,234.1 491.2,234.6 493.0,235.0 494.9,235.7 496.3,237.0 496.9,238.5 497.2,240.9 497.2,243.3 497.2,245.6" fill="none" stroke="#6b6b6b" stroke-width="0.45"/>
<path d="M566.8,167.7 566.8,170.0 566.7,172.4 566.4,174.5 565.5,176.3 563.6,177.0 562.1,175.5 561.6,174.0 561.3,171.6 561.3,169.2" fill="none" stroke="#7a6a6a" stroke-width="0.45"/>
<path d="M582.0,230.0 579.2,230.4 576.5,230.4 573.7,230.1 571.9,229.6 570.1,228.7 568.3,227.5 567.2,226.7 565.5,225.4 563.6,224.4 561.8,223.7 560.0,223.1 558.1,222.7 555.4,222.1 553.6,221.7 551.2,221.2 549.0,220.8 547.1,220.4 544.4,219.7 542.5,219.1 540.7,218.3 538.9,217.5 537.0,216.6 535.2,215.9 533.4,215.5 530.6,215.3 527.9,215.1 525.5,214.9 523.3,214.6 521.5,214.1 519.4,213.3 517.8,212.5 516.2,211.0 515.6,209.4 516.0,207.5 516.9,205.9 518.0,204.7 519.6,203.3 521.0,202.3 522.4,201.5 524.2,200.7 526.4,200.0 528.8,199.4 530.6,199.0 533.4,198.5 535.2,198.3 538.0,198.1 540.7,198.0 543.5,198.0 546.2,198.0 549.0,198.0 551.7,198.0 554.5,198.0 557.2,198.0 560.0,198.0 562.7,198.0 565.5,198.0 568.2,198.1 570.7,198.4 572.8,198.9 574.6,199.8 575.8,200.7 577.3,202.3 578.3,203.7 579.2,204.8 580.4,206.3 581.6,207.8 582.6,209.4 583.2,211.0 583.8,213.3 583.9,214.9 584.1,217.3 584.3,219.6 584.6,222.0 584.9,223.6 585.2,225.9 584.7,228.1 583.8,229.1 582.0,230.0" fill="none" stroke="#7a6a6a" stroke-width="0.45"/>
<path d="M539.6,245.6 539.5,243.3 539.2,240.9 538.7,239.3 537.5,237.8 536.1,236.7 534.3,236.0 531.5,235.5 528.8,235.5 526.0,235.7 523.3,235.8 520.5,235.9 517.8,236.1 516.0,236.3 513.5,237.0 511.9,237.8 510.4,239.0 509.5,240.8 509.2,242.5 509.1,244.8" fill="none" stroke="#555" stroke-width="0.4"/>
<path d="M451.1,229.8 L452.9,228.6 L454.6,226.3 L456.3,223.4 L458.0,222.8 L459.7,223.7 L460.6,221.1 L462.3,219.9 L464.9,220.5 L465.7,221.1 L465.7,222.8 L465.3,224.0 L466.6,225.1 L468.7,226.9 L469.6,226.9 L470.5,224.0 L470.5,221.1 L471.3,219.0 L472.2,222.8 L473.7,224.0 L473.9,226.3 L474.6,228.6 L476.7,230.1 L477.3,232.6 L478.4,233.2 L480.3,235.5 L480.5,239.0 L480.8,242.5" fill="none" stroke="#d6a32c" stroke-width="0.75" stroke-linejoin="round"/>
<path d="M461.4,207.8 L464.0,207.8 L464.9,210.5 L467.4,208.5 L470.0,209.7 L473.5,211.8 L474.3,213.6 L475.6,215.3 L477.8,218.8 L475.2,218.2 L474.3,216.5 L472.6,215.7 L471.3,217.4 L470.0,217.0 L468.3,215.9 L467.4,216.5 L466.6,212.4 L464.9,211.8 L463.2,211.3 L462.3,210.1 L461.4,207.8" fill="none" stroke="#d6a32c" stroke-width="0.75" stroke-linejoin="round"/>
<path d="M476.5,213.0 L478.6,212.4 L479.5,211.5 L479.0,213.6 L476.9,213.8 L476.5,213.0" fill="none" stroke="#d6a32c" stroke-width="0.75" stroke-linejoin="round"/>
<path d="M482.0,213.6 L483.3,214.7 L484.2,215.9 L485.5,216.5 L486.8,217.6 L488.1,219.0 L486.3,218.2 L483.8,216.5 L482.0,213.6" fill="none" stroke="#d6a32c" stroke-width="0.75" stroke-linejoin="round"/>
<path d="M451.6,213.0 L452.4,210.1 L452.0,206.7 L452.6,205.5 L455.9,204.9 L452.9,206.1 L453.7,207.8 L454.8,207.6 L453.3,209.0 L454.1,211.8 L452.9,211.8 L452.4,213.0" fill="none" stroke="#d6a32c" stroke-width="0.75" stroke-linejoin="round"/>
<path d="M458.4,204.3 L458.9,205.5 L459.3,207.2 L458.7,206.1 L458.4,204.3" fill="none" stroke="#d6a32c" stroke-width="0.75" stroke-linejoin="round"/>
<path d="M458.9,210.1 L461.0,210.3 L460.6,211.0 L458.9,210.8 L458.9,210.1" fill="none" stroke="#d6a32c" stroke-width="0.75" stroke-linejoin="round"/>
<path d="M452.0,216.5 L454.6,216.1 L454.6,216.8 L452.0,216.9" fill="none" stroke="#d6a32c" stroke-width="0.75" stroke-linejoin="round"/>
<path d="M455.3,218.2 L458.0,216.2 L456.3,216.8 L455.3,218.2" fill="none" stroke="#d6a32c" stroke-width="0.75" stroke-linejoin="round"/>
<path d="M452.0,185.3 L454.1,185.3 L453.7,188.2 L453.3,189.9 L455.4,191.6 L454.6,191.1 L452.9,190.7 L452.4,189.6 L452.0,188.2 L452.0,185.3" fill="none" stroke="#d6a32c" stroke-width="0.75" stroke-linejoin="round"/>
<path d="M453.7,198.6 L455.0,197.4 L456.7,195.7 L457.6,198.6 L456.7,199.7 L455.4,199.1 L453.7,198.6" fill="none" stroke="#d6a32c" stroke-width="0.75" stroke-linejoin="round"/>
<path d="M454.1,194.5 L455.4,193.4 L456.7,193.9 L455.4,195.1 L454.1,194.5" fill="none" stroke="#d6a32c" stroke-width="0.75" stroke-linejoin="round"/>
<path d="M452.0,181.2 L452.9,177.8 L453.7,177.8 L452.7,181.2" fill="none" stroke="#d6a32c" stroke-width="0.75" stroke-linejoin="round"/>
<path d="M489.8,229.8 L492.3,232.6 L491.9,232.8 L489.6,230.0" fill="none" stroke="#d6a32c" stroke-width="0.75" stroke-linejoin="round"/>
<path d="M492.3,224.0 L493.2,225.7 L493.5,227.2" fill="none" stroke="#d6a32c" stroke-width="0.75" stroke-linejoin="round"/>
<path d="M501.4,226.9 L502.2,227.7 L502.3,226.3" fill="none" stroke="#d6a32c" stroke-width="0.75" stroke-linejoin="round"/>
<path d="M520.5,181.2 L521.5,182.0 L523.2,182.6 L524.1,184.1 L525.0,183.9" fill="none" stroke="#d6a32c" stroke-width="0.75" stroke-linejoin="round"/>
<path d="M558.4,172.0 L559.7,174.3 L561.4,177.8 L563.6,180.2 L564.0,178.9 L561.9,175.5 L561.0,173.2 L560.6,172.0" fill="none" stroke="#d6a32c" stroke-width="0.75" stroke-linejoin="round"/>
<path d="M561.4,172.0 L563.6,175.5 L565.3,177.8 L567.0,181.2 L567.7,183.0 L567.9,184.1 L569.6,185.3 L572.2,186.4 L575.6,188.2 L577.3,188.7 L579.0,190.5 L582.5,192.2 L584.2,195.1 L585.9,196.3 L587.6,197.4 L589.8,198.0 L591.0,196.8 L591.5,198.6 L591.0,202.0 L590.2,204.3 L589.3,206.7 L588.5,209.5 L589.2,211.3 L588.5,213.6 L590.2,217.0 L591.9,220.5 L592.8,222.8 L594.5,225.1 L597.1,227.4 L597.7,229.8 L597.7,235.5 L596.6,241.9" fill="none" stroke="#d6a32c" stroke-width="0.75" stroke-linejoin="round"/>
<path d="M574.7,171.4 L574.7,172.6 L574.3,175.5 L573.9,177.8 L574.1,181.2 L574.7,183.6 L576.5,185.3 L579.0,185.3 L580.3,184.1 L580.8,182.4 L583.3,181.8 L583.3,185.3 L582.0,188.2 L584.2,188.4 L585.9,188.2 L586.6,189.3 L586.3,192.8 L586.1,193.9 L587.6,195.7 L589.8,195.8 L591.0,196.6 L592.3,194.5 L593.6,193.9 L595.3,192.8 L596.6,193.9 L597.9,194.5 L602.2,194.5 L604.8,194.5 L607.4,194.5" fill="none" stroke="#d6a32c" stroke-width="0.75" stroke-linejoin="round"/>
<path d="M586.8,171.4 L587.2,174.3 L588.0,175.5 L588.3,177.4 L589.2,177.2 L589.3,175.5 L588.5,171.4" fill="none" stroke="#d6a32c" stroke-width="0.75" stroke-linejoin="round"/>
<path d="M585.0,181.2 L586.8,180.1 L589.3,180.1 L591.9,181.8 L594.3,183.3 L592.3,183.7 L590.2,182.4 L587.6,181.2 L585.0,181.2" fill="none" stroke="#d6a32c" stroke-width="0.75" stroke-linejoin="round"/>
<path d="M595.8,183.8 L599.2,184.7 L598.8,185.5 L596.2,185.9 L594.9,185.3 L595.8,183.8" fill="none" stroke="#d6a32c" stroke-width="0.75" stroke-linejoin="round"/>
<path d="M591.0,185.3 L592.4,185.6 L591.5,186.1 L591.0,185.3" fill="none" stroke="#d6a32c" stroke-width="0.75" stroke-linejoin="round"/>
<path d="M600.3,185.3 L601.8,185.4 L601.6,185.9 L600.3,185.7" fill="none" stroke="#d6a32c" stroke-width="0.75" stroke-linejoin="round"/>
</g>
<rect x="452.0" y="172.0" width="154.5" height="69.3" fill="none" stroke="#666" stroke-width="0.9"/>
<text x="467.1" y="170.3" font-family="Liberation Mono" font-weight="bold" font-size="6.1" fill="#505050" textLength="98.5" lengthAdjust="spacingAndGlyphs">SST Anomaly ERSSTv5 Date= 198710</text>
<g font-family="Liberation Sans" font-weight="bold" fill="#1e1e1e" stroke="#1e1e1e" stroke-width="0.45">
<text x="450.8" y="173.2" font-size="3.6" text-anchor="end" textLength="5.2" lengthAdjust="spacingAndGlyphs">30N</text>
<text x="450.8" y="179.0" font-size="3.6" text-anchor="end" textLength="5.2" lengthAdjust="spacingAndGlyphs">25N</text>
<text x="450.8" y="184.8" font-size="3.6" text-anchor="end" textLength="5.2" lengthAdjust="spacingAndGlyphs">20N</text>
<text x="450.8" y="190.6" font-size="3.6" text-anchor="end" textLength="5.2" lengthAdjust="spacingAndGlyphs">15N</text>
<text x="450.8" y="196.3" font-size="3.6" text-anchor="end" textLength="5.2" lengthAdjust="spacingAndGlyphs">10N</text>
<text x="450.8" y="202.1" font-size="3.6" text-anchor="end" textLength="3.6" lengthAdjust="spacingAndGlyphs">5N</text>
<text x="450.8" y="207.9" font-size="3.6" text-anchor="end" textLength="3.6" lengthAdjust="spacingAndGlyphs">EQ</text>
<text x="450.8" y="213.7" font-size="3.6" text-anchor="end" textLength="3.6" lengthAdjust="spacingAndGlyphs">5S</text>
<text x="450.8" y="219.5" font-size="3.6" text-anchor="end" textLength="5.2" lengthAdjust="spacingAndGlyphs">10S</text>
<text x="450.8" y="225.2" font-size="3.6" text-anchor="end" textLength="5.2" lengthAdjust="spacingAndGlyphs">15S</text>
<text x="450.8" y="231.0" font-size="3.6" text-anchor="end" textLength="5.2" lengthAdjust="spacingAndGlyphs">20S</text>
<text x="450.8" y="236.8" font-size="3.6" text-anchor="end" textLength="5.2" lengthAdjust="spacingAndGlyphs">25S</text>
<text x="450.8" y="242.6" font-size="3.6" text-anchor="end" textLength="5.2" lengthAdjust="spacingAndGlyphs">30S</text>
<text x="452.0" y="246.0" font-size="3.7" text-anchor="middle" textLength="5.6" lengthAdjust="spacingAndGlyphs">120E</text>
<text x="469.2" y="246.0" font-size="3.7" text-anchor="middle" textLength="5.6" lengthAdjust="spacingAndGlyphs">140E</text>
<text x="486.3" y="246.0" font-size="3.7" text-anchor="middle" textLength="5.6" lengthAdjust="spacingAndGlyphs">160E</text>
<text x="503.5" y="246.0" font-size="3.7" text-anchor="middle" textLength="4.6" lengthAdjust="spacingAndGlyphs">180</text>
<text x="520.7" y="246.0" font-size="3.7" text-anchor="middle" textLength="5.6" lengthAdjust="spacingAndGlyphs">160W</text>
<text x="537.8" y="246.0" font-size="3.7" text-anchor="middle" textLength="5.6" lengthAdjust="spacingAndGlyphs">140W</text>
<text x="555.0" y="246.0" font-size="3.7" text-anchor="middle" textLength="5.6" lengthAdjust="spacingAndGlyphs">120W</text>
<text x="572.2" y="246.0" font-size="3.7" text-anchor="middle" textLength="5.6" lengthAdjust="spacingAndGlyphs">100W</text>
<text x="589.3" y="246.0" font-size="3.7" text-anchor="middle" textLength="4.6" lengthAdjust="spacingAndGlyphs">80W</text>
<text x="606.5" y="246.0" font-size="3.7" text-anchor="middle" textLength="4.6" lengthAdjust="spacingAndGlyphs">60W</text>
</g>
<text x="458.5" y="185.8" font-family="Liberation Sans" font-weight="bold" font-size="12.6" fill="#000" stroke="#000" stroke-width="0.25" textLength="86.4" lengthAdjust="spacingAndGlyphs">Niño 1 198710</text>
<rect x="93.6" y="294.2" width="172.4" height="93.2" fill="#fff"/>
<clipPath id="cp4"><rect x="102.1" y="309.2" width="153.4" height="70.2"/></clipPath>
<g clip-path="url(#cp4)">
<rect x="102.1" y="309.2" width="153.4" height="70.2" fill="#fdf8f8"/>
<g filter="url(#blg)">
<linearGradient id="g4_0" gradientUnits="userSpaceOnUse" x1="102.1" x2="255.5" y1="0" y2="0"><stop offset="0.031" stop-color="#b6d7ef"/><stop offset="0.094" stop-color="#b6d7ef"/><stop offset="0.156" stop-color="#b6d7ef"/><stop offset="0.219" stop-color="#e3eff9"/><stop offset="0.281" stop-color="#fbc3c3"/><stop offset="0.344" stop-color="#fbc3c3"/><stop offset="0.406" stop-color="#fbc3c3"/><stop offset="0.469" stop-color="#fde7e7"/><stop offset="0.531" stop-color="#e3eff9"/><stop offset="0.594" stop-color="#e3eff9"/><stop offset="0.656" stop-color="#b6d7ef"/><stop offset="0.719" stop-color="#449bd5"/><stop offset="0.781" stop-color="#ffffff"/><stop offset="0.844" stop-color="#fde7e7"/><stop offset="0.906" stop-color="#7db9e2"/><stop offset="0.969" stop-color="#b6d7ef"/></linearGradient>
<rect x="98.10" y="305.20" width="161.40" height="6.76" fill="url(#g4_0)"/>
<linearGradient id="g4_1" gradientUnits="userSpaceOnUse" x1="102.1" x2="255.5" y1="0" y2="0"><stop offset="0.031" stop-color="#b6d7ef"/><stop offset="0.094" stop-color="#b6d7ef"/><stop offset="0.156" stop-color="#b6d7ef"/><stop offset="0.219" stop-color="#e3eff9"/><stop offset="0.281" stop-color="#fbc3c3"/><stop offset="0.344" stop-color="#fbc3c3"/><stop offset="0.406" stop-color="#fbc3c3"/><stop offset="0.469" stop-color="#fde7e7"/><stop offset="0.531" stop-color="#e3eff9"/><stop offset="0.594" stop-color="#e3eff9"/><stop offset="0.656" stop-color="#b6d7ef"/><stop offset="0.719" stop-color="#449bd5"/><stop offset="0.781" stop-color="#ffffff"/><stop offset="0.844" stop-color="#fde7e7"/><stop offset="0.906" stop-color="#7db9e2"/><stop offset="0.969" stop-color="#b6d7ef"/></linearGradient>
<rect x="98.10" y="311.71" width="161.40" height="2.76" fill="url(#g4_1)"/>
<linearGradient id="g4_2" gradientUnits="userSpaceOnUse" x1="102.1" x2="255.5" y1="0" y2="0"><stop offset="0.031" stop-color="#c5daed"/><stop offset="0.094" stop-color="#c5daed"/><stop offset="0.156" stop-color="#c0dcf1"/><stop offset="0.219" stop-color="#e9edf5"/><stop offset="0.281" stop-color="#fbcbcb"/><stop offset="0.344" stop-color="#fbc3c3"/><stop offset="0.406" stop-color="#fbcbcb"/><stop offset="0.469" stop-color="#fde7e7"/><stop offset="0.531" stop-color="#e3eff9"/><stop offset="0.594" stop-color="#e3eff9"/><stop offset="0.656" stop-color="#b6d7ef"/><stop offset="0.719" stop-color="#3c95d1"/><stop offset="0.781" stop-color="#ffffff"/><stop offset="0.844" stop-color="#fdecec"/><stop offset="0.906" stop-color="#89bfe5"/><stop offset="0.969" stop-color="#b6d7ef"/></linearGradient>
<rect x="98.10" y="314.21" width="161.40" height="2.76" fill="url(#g4_2)"/>
<linearGradient id="g4_3" gradientUnits="userSpaceOnUse" x1="102.1" x2="255.5" y1="0" y2="0"><stop offset="0.031" stop-color="#dadfeb"/><stop offset="0.094" stop-color="#dadfeb"/><stop offset="0.156" stop-color="#cce3f4"/><stop offset="0.219" stop-color="#f0ebf0"/><stop offset="0.281" stop-color="#fcd5d5"/><stop offset="0.344" stop-color="#fbc3c3"/><stop offset="0.406" stop-color="#fcd5d5"/><stop offset="0.469" stop-color="#fde7e7"/><stop offset="0.531" stop-color="#e3eff9"/><stop offset="0.594" stop-color="#e3eff9"/><stop offset="0.656" stop-color="#b6d7ef"/><stop offset="0.719" stop-color="#308ccc"/><stop offset="0.781" stop-color="#ffffff"/><stop offset="0.844" stop-color="#fef3f3"/><stop offset="0.906" stop-color="#9ac8e8"/><stop offset="0.969" stop-color="#b6d7ef"/></linearGradient>
<rect x="98.10" y="316.72" width="161.40" height="2.76" fill="url(#g4_3)"/>
<linearGradient id="g4_4" gradientUnits="userSpaceOnUse" x1="102.1" x2="255.5" y1="0" y2="0"><stop offset="0.031" stop-color="#eee4e9"/><stop offset="0.094" stop-color="#eee4e9"/><stop offset="0.156" stop-color="#d9eaf7"/><stop offset="0.219" stop-color="#f7e9eb"/><stop offset="0.281" stop-color="#fddfdf"/><stop offset="0.344" stop-color="#fbc3c3"/><stop offset="0.406" stop-color="#fddfdf"/><stop offset="0.469" stop-color="#fde7e7"/><stop offset="0.531" stop-color="#e3eff9"/><stop offset="0.594" stop-color="#e3eff9"/><stop offset="0.656" stop-color="#b6d7ef"/><stop offset="0.719" stop-color="#2583c8"/><stop offset="0.781" stop-color="#ffffff"/><stop offset="0.844" stop-color="#fffafa"/><stop offset="0.906" stop-color="#aad1ec"/><stop offset="0.969" stop-color="#b6d7ef"/></linearGradient>
<rect x="98.10" y="319.23" width="161.40" height="2.76" fill="url(#g4_4)"/>
<linearGradient id="g4_5" gradientUnits="userSpaceOnUse" x1="102.1" x2="255.5" y1="0" y2="0"><stop offset="0.031" stop-color="#fde7e7"/><stop offset="0.094" stop-color="#fde7e7"/><stop offset="0.156" stop-color="#e5eef8"/><stop offset="0.219" stop-color="#fbe8e8"/><stop offset="0.281" stop-color="#f8e6e8"/><stop offset="0.344" stop-color="#f6c4c6"/><stop offset="0.406" stop-color="#f8e6e8"/><stop offset="0.469" stop-color="#f8e6e8"/><stop offset="0.531" stop-color="#e0edf8"/><stop offset="0.594" stop-color="#e0edf8"/><stop offset="0.656" stop-color="#b6d7ef"/><stop offset="0.719" stop-color="#2883c7"/><stop offset="0.781" stop-color="#fafcfe"/><stop offset="0.844" stop-color="#fdfeff"/><stop offset="0.906" stop-color="#bbdaf0"/><stop offset="0.969" stop-color="#b9d9f0"/></linearGradient>
<rect x="98.10" y="321.74" width="161.40" height="2.76" fill="url(#g4_5)"/>
<linearGradient id="g4_6" gradientUnits="userSpaceOnUse" x1="102.1" x2="255.5" y1="0" y2="0"><stop offset="0.031" stop-color="#fde7e7"/><stop offset="0.094" stop-color="#fde7e7"/><stop offset="0.156" stop-color="#ececf3"/><stop offset="0.219" stop-color="#f4eaed"/><stop offset="0.281" stop-color="#e4e1ea"/><stop offset="0.344" stop-color="#e2cad3"/><stop offset="0.406" stop-color="#e4e1ea"/><stop offset="0.469" stop-color="#e4e1ea"/><stop offset="0.531" stop-color="#d3e6f5"/><stop offset="0.594" stop-color="#d3e6f5"/><stop offset="0.656" stop-color="#b6d7ef"/><stop offset="0.719" stop-color="#549dd3"/><stop offset="0.781" stop-color="#e5f1f9"/><stop offset="0.844" stop-color="#f5f9fd"/><stop offset="0.906" stop-color="#d0e5f5"/><stop offset="0.969" stop-color="#c6e0f3"/></linearGradient>
<rect x="98.10" y="324.24" width="161.40" height="2.76" fill="url(#g4_6)"/>
<linearGradient id="g4_7" gradientUnits="userSpaceOnUse" x1="102.1" x2="255.5" y1="0" y2="0"><stop offset="0.031" stop-color="#fde7e7"/><stop offset="0.094" stop-color="#fde7e7"/><stop offset="0.156" stop-color="#f4eaed"/><stop offset="0.219" stop-color="#ececf3"/><stop offset="0.281" stop-color="#cfddec"/><stop offset="0.344" stop-color="#cfd0df"/><stop offset="0.406" stop-color="#cfddec"/><stop offset="0.469" stop-color="#cfddec"/><stop offset="0.531" stop-color="#c6e0f3"/><stop offset="0.594" stop-color="#c6e0f3"/><stop offset="0.656" stop-color="#b6d7ef"/><stop offset="0.719" stop-color="#7fb7e0"/><stop offset="0.781" stop-color="#d0e5f5"/><stop offset="0.844" stop-color="#edf5fb"/><stop offset="0.906" stop-color="#e5f1f9"/><stop offset="0.969" stop-color="#d3e6f5"/></linearGradient>
<rect x="98.10" y="326.75" width="161.40" height="2.76" fill="url(#g4_7)"/>
<linearGradient id="g4_8" gradientUnits="userSpaceOnUse" x1="102.1" x2="255.5" y1="0" y2="0"><stop offset="0.031" stop-color="#fde7e7"/><stop offset="0.094" stop-color="#fde7e7"/><stop offset="0.156" stop-color="#fbe8e8"/><stop offset="0.219" stop-color="#e5eef8"/><stop offset="0.281" stop-color="#bbd8ee"/><stop offset="0.344" stop-color="#bbd6ec"/><stop offset="0.406" stop-color="#bbd8ee"/><stop offset="0.469" stop-color="#bbd8ee"/><stop offset="0.531" stop-color="#b9d9f0"/><stop offset="0.594" stop-color="#b9d9f0"/><stop offset="0.656" stop-color="#b6d7ef"/><stop offset="0.719" stop-color="#abd1ec"/><stop offset="0.781" stop-color="#bbdaf0"/><stop offset="0.844" stop-color="#e5f0f9"/><stop offset="0.906" stop-color="#fafcfe"/><stop offset="0.969" stop-color="#e0edf8"/></linearGradient>
<rect x="98.10" y="329.26" width="161.40" height="2.76" fill="url(#g4_8)"/>
<linearGradient id="g4_9" gradientUnits="userSpaceOnUse" x1="102.1" x2="255.5" y1="0" y2="0"><stop offset="0.031" stop-color="#fde7e7"/><stop offset="0.094" stop-color="#f7e9eb"/><stop offset="0.156" stop-color="#f7e9eb"/><stop offset="0.219" stop-color="#d9eaf7"/><stop offset="0.281" stop-color="#9ecae9"/><stop offset="0.344" stop-color="#95c4e6"/><stop offset="0.406" stop-color="#9ecae9"/><stop offset="0.469" stop-color="#9ecae9"/><stop offset="0.531" stop-color="#95c4e6"/><stop offset="0.594" stop-color="#95c4e6"/><stop offset="0.656" stop-color="#9ecae9"/><stop offset="0.719" stop-color="#aad1ec"/><stop offset="0.781" stop-color="#b6d7ef"/><stop offset="0.844" stop-color="#e9edf5"/><stop offset="0.906" stop-color="#ffffff"/><stop offset="0.969" stop-color="#e9f2fa"/></linearGradient>
<rect x="98.10" y="331.76" width="161.40" height="2.76" fill="url(#g4_9)"/>
<linearGradient id="g4_10" gradientUnits="userSpaceOnUse" x1="102.1" x2="255.5" y1="0" y2="0"><stop offset="0.031" stop-color="#fde7e7"/><stop offset="0.094" stop-color="#f0ebf0"/><stop offset="0.156" stop-color="#f0ebf0"/><stop offset="0.219" stop-color="#cce3f4"/><stop offset="0.281" stop-color="#7db9e2"/><stop offset="0.344" stop-color="#6aaada"/><stop offset="0.406" stop-color="#7db9e2"/><stop offset="0.469" stop-color="#7db9e2"/><stop offset="0.531" stop-color="#6aaada"/><stop offset="0.594" stop-color="#6aaada"/><stop offset="0.656" stop-color="#7db9e2"/><stop offset="0.719" stop-color="#9ac8e8"/><stop offset="0.781" stop-color="#b6d7ef"/><stop offset="0.844" stop-color="#f0ebf0"/><stop offset="0.906" stop-color="#ffffff"/><stop offset="0.969" stop-color="#f1f7fc"/></linearGradient>
<rect x="98.10" y="334.27" width="161.40" height="2.76" fill="url(#g4_10)"/>
<linearGradient id="g4_11" gradientUnits="userSpaceOnUse" x1="102.1" x2="255.5" y1="0" y2="0"><stop offset="0.031" stop-color="#fde7e7"/><stop offset="0.094" stop-color="#e9edf5"/><stop offset="0.156" stop-color="#e9edf5"/><stop offset="0.219" stop-color="#c0dcf1"/><stop offset="0.281" stop-color="#5ca8db"/><stop offset="0.344" stop-color="#3e90cd"/><stop offset="0.406" stop-color="#5ca8db"/><stop offset="0.469" stop-color="#5ca8db"/><stop offset="0.531" stop-color="#3e90cd"/><stop offset="0.594" stop-color="#3e90cd"/><stop offset="0.656" stop-color="#5ca8db"/><stop offset="0.719" stop-color="#89bfe5"/><stop offset="0.781" stop-color="#b6d7ef"/><stop offset="0.844" stop-color="#f7e9eb"/><stop offset="0.906" stop-color="#ffffff"/><stop offset="0.969" stop-color="#f9fcfe"/></linearGradient>
<rect x="98.10" y="336.78" width="161.40" height="2.76" fill="url(#g4_11)"/>
<linearGradient id="g4_12" gradientUnits="userSpaceOnUse" x1="102.1" x2="255.5" y1="0" y2="0"><stop offset="0.031" stop-color="#fde9e9"/><stop offset="0.094" stop-color="#e5eef8"/><stop offset="0.156" stop-color="#e3eff9"/><stop offset="0.219" stop-color="#b6d7ef"/><stop offset="0.281" stop-color="#449bd5"/><stop offset="0.344" stop-color="#207fc5"/><stop offset="0.406" stop-color="#449bd5"/><stop offset="0.469" stop-color="#449bd5"/><stop offset="0.531" stop-color="#207fc5"/><stop offset="0.594" stop-color="#207fc5"/><stop offset="0.656" stop-color="#489dd6"/><stop offset="0.719" stop-color="#81bbe3"/><stop offset="0.781" stop-color="#bbd8ee"/><stop offset="0.844" stop-color="#fde4e4"/><stop offset="0.906" stop-color="#ffffff"/><stop offset="0.969" stop-color="#ffffff"/></linearGradient>
<rect x="98.10" y="339.29" width="161.40" height="2.76" fill="url(#g4_12)"/>
<linearGradient id="g4_13" gradientUnits="userSpaceOnUse" x1="102.1" x2="255.5" y1="0" y2="0"><stop offset="0.031" stop-color="#fef0f0"/><stop offset="0.094" stop-color="#ececf3"/><stop offset="0.156" stop-color="#e3eff9"/><stop offset="0.219" stop-color="#b6d7ef"/><stop offset="0.281" stop-color="#449bd5"/><stop offset="0.344" stop-color="#2b88ca"/><stop offset="0.406" stop-color="#449bd5"/><stop offset="0.469" stop-color="#449bd5"/><stop offset="0.531" stop-color="#2b88ca"/><stop offset="0.594" stop-color="#2b88ca"/><stop offset="0.656" stop-color="#58a6da"/><stop offset="0.719" stop-color="#91c4e7"/><stop offset="0.781" stop-color="#cfddec"/><stop offset="0.844" stop-color="#fcdada"/><stop offset="0.906" stop-color="#ffffff"/><stop offset="0.969" stop-color="#ffffff"/></linearGradient>
<rect x="98.10" y="341.79" width="161.40" height="2.76" fill="url(#g4_13)"/>
<linearGradient id="g4_14" gradientUnits="userSpaceOnUse" x1="102.1" x2="255.5" y1="0" y2="0"><stop offset="0.031" stop-color="#fef6f6"/><stop offset="0.094" stop-color="#f4eaed"/><stop offset="0.156" stop-color="#e3eff9"/><stop offset="0.219" stop-color="#b6d7ef"/><stop offset="0.281" stop-color="#449bd5"/><stop offset="0.344" stop-color="#3690cf"/><stop offset="0.406" stop-color="#449bd5"/><stop offset="0.469" stop-color="#449bd5"/><stop offset="0.531" stop-color="#3690cf"/><stop offset="0.594" stop-color="#3690cf"/><stop offset="0.656" stop-color="#69aedd"/><stop offset="0.719" stop-color="#a2ccea"/><stop offset="0.781" stop-color="#e4e1ea"/><stop offset="0.844" stop-color="#fcd0d0"/><stop offset="0.906" stop-color="#ffffff"/><stop offset="0.969" stop-color="#ffffff"/></linearGradient>
<rect x="98.10" y="344.30" width="161.40" height="2.76" fill="url(#g4_14)"/>
<linearGradient id="g4_15" gradientUnits="userSpaceOnUse" x1="102.1" x2="255.5" y1="0" y2="0"><stop offset="0.031" stop-color="#fffdfd"/><stop offset="0.094" stop-color="#fbe8e8"/><stop offset="0.156" stop-color="#e3eff9"/><stop offset="0.219" stop-color="#b6d7ef"/><stop offset="0.281" stop-color="#449bd5"/><stop offset="0.344" stop-color="#4199d4"/><stop offset="0.406" stop-color="#449bd5"/><stop offset="0.469" stop-color="#449bd5"/><stop offset="0.531" stop-color="#4199d4"/><stop offset="0.594" stop-color="#4199d4"/><stop offset="0.656" stop-color="#79b7e1"/><stop offset="0.719" stop-color="#b2d5ee"/><stop offset="0.781" stop-color="#f8e6e8"/><stop offset="0.844" stop-color="#fbc6c6"/><stop offset="0.906" stop-color="#ffffff"/><stop offset="0.969" stop-color="#ffffff"/></linearGradient>
<rect x="98.10" y="346.81" width="161.40" height="2.76" fill="url(#g4_15)"/>
<linearGradient id="g4_16" gradientUnits="userSpaceOnUse" x1="102.1" x2="255.5" y1="0" y2="0"><stop offset="0.031" stop-color="#ffffff"/><stop offset="0.094" stop-color="#fde7e7"/><stop offset="0.156" stop-color="#e9edf5"/><stop offset="0.219" stop-color="#c0dcf1"/><stop offset="0.281" stop-color="#5ca8db"/><stop offset="0.344" stop-color="#5ca8db"/><stop offset="0.406" stop-color="#5ca8db"/><stop offset="0.469" stop-color="#5ca8db"/><stop offset="0.531" stop-color="#5ca8db"/><stop offset="0.594" stop-color="#5ca8db"/><stop offset="0.656" stop-color="#93c5e7"/><stop offset="0.719" stop-color="#c5d3e6"/><stop offset="0.781" stop-color="#fde7e7"/><stop offset="0.844" stop-color="#f6cccf"/><stop offset="0.906" stop-color="#ffffff"/><stop offset="0.969" stop-color="#ffffff"/></linearGradient>
<rect x="98.10" y="349.31" width="161.40" height="2.76" fill="url(#g4_16)"/>
<linearGradient id="g4_17" gradientUnits="userSpaceOnUse" x1="102.1" x2="255.5" y1="0" y2="0"><stop offset="0.031" stop-color="#ffffff"/><stop offset="0.094" stop-color="#fde7e7"/><stop offset="0.156" stop-color="#f0ebf0"/><stop offset="0.219" stop-color="#cce3f4"/><stop offset="0.281" stop-color="#7db9e2"/><stop offset="0.344" stop-color="#7db9e2"/><stop offset="0.406" stop-color="#7db9e2"/><stop offset="0.469" stop-color="#7db9e2"/><stop offset="0.531" stop-color="#7db9e2"/><stop offset="0.594" stop-color="#7db9e2"/><stop offset="0.656" stop-color="#b0d4ee"/><stop offset="0.719" stop-color="#d8cdd9"/><stop offset="0.781" stop-color="#fde7e7"/><stop offset="0.844" stop-color="#efd9de"/><stop offset="0.906" stop-color="#ffffff"/><stop offset="0.969" stop-color="#ffffff"/></linearGradient>
<rect x="98.10" y="351.82" width="161.40" height="2.76" fill="url(#g4_17)"/>
<linearGradient id="g4_18" gradientUnits="userSpaceOnUse" x1="102.1" x2="255.5" y1="0" y2="0"><stop offset="0.031" stop-color="#ffffff"/><stop offset="0.094" stop-color="#fde7e7"/><stop offset="0.156" stop-color="#f7e9eb"/><stop offset="0.219" stop-color="#d9eaf7"/><stop offset="0.281" stop-color="#9ecae9"/><stop offset="0.344" stop-color="#9ecae9"/><stop offset="0.406" stop-color="#9ecae9"/><stop offset="0.469" stop-color="#9ecae9"/><stop offset="0.531" stop-color="#9ecae9"/><stop offset="0.594" stop-color="#9ecae9"/><stop offset="0.656" stop-color="#cde3f4"/><stop offset="0.719" stop-color="#ecc7cc"/><stop offset="0.781" stop-color="#fde7e7"/><stop offset="0.844" stop-color="#e8e6ed"/><stop offset="0.906" stop-color="#ffffff"/><stop offset="0.969" stop-color="#ffffff"/></linearGradient>
<rect x="98.10" y="354.33" width="161.40" height="2.76" fill="url(#g4_18)"/>
<linearGradient id="g4_19" gradientUnits="userSpaceOnUse" x1="102.1" x2="255.5" y1="0" y2="0"><stop offset="0.031" stop-color="#ffffff"/><stop offset="0.094" stop-color="#fde7e7"/><stop offset="0.156" stop-color="#fde7e7"/><stop offset="0.219" stop-color="#e5eef8"/><stop offset="0.281" stop-color="#bbd8ee"/><stop offset="0.344" stop-color="#bbd8ee"/><stop offset="0.406" stop-color="#bbd8ee"/><stop offset="0.469" stop-color="#bbd6ec"/><stop offset="0.531" stop-color="#bbd6ec"/><stop offset="0.594" stop-color="#bbd1e7"/><stop offset="0.656" stop-color="#e5e7f1"/><stop offset="0.719" stop-color="#fbc3c3"/><stop offset="0.781" stop-color="#fde4e4"/><stop offset="0.844" stop-color="#e5ecf5"/><stop offset="0.906" stop-color="#fff6f6"/><stop offset="0.969" stop-color="#ffffff"/></linearGradient>
<rect x="98.10" y="356.84" width="161.40" height="2.76" fill="url(#g4_19)"/>
<linearGradient id="g4_20" gradientUnits="userSpaceOnUse" x1="102.1" x2="255.5" y1="0" y2="0"><stop offset="0.031" stop-color="#ffffff"/><stop offset="0.094" stop-color="#fde7e7"/><stop offset="0.156" stop-color="#fde7e7"/><stop offset="0.219" stop-color="#ececf3"/><stop offset="0.281" stop-color="#cfddec"/><stop offset="0.344" stop-color="#cfddec"/><stop offset="0.406" stop-color="#cfddec"/><stop offset="0.469" stop-color="#cfd0df"/><stop offset="0.531" stop-color="#cfd0df"/><stop offset="0.594" stop-color="#cebac9"/><stop offset="0.656" stop-color="#ebc9d0"/><stop offset="0.719" stop-color="#fbc3c3"/><stop offset="0.781" stop-color="#fcdada"/><stop offset="0.844" stop-color="#ecdfe6"/><stop offset="0.906" stop-color="#fdd3d3"/><stop offset="0.969" stop-color="#ffffff"/></linearGradient>
<rect x="98.10" y="359.34" width="161.40" height="2.76" fill="url(#g4_20)"/>
<linearGradient id="g4_21" gradientUnits="userSpaceOnUse" x1="102.1" x2="255.5" y1="0" y2="0"><stop offset="0.031" stop-color="#ffffff"/><stop offset="0.094" stop-color="#fde7e7"/><stop offset="0.156" stop-color="#fde7e7"/><stop offset="0.219" stop-color="#f4eaed"/><stop offset="0.281" stop-color="#e4e1ea"/><stop offset="0.344" stop-color="#e4e1ea"/><stop offset="0.406" stop-color="#e4e1ea"/><stop offset="0.469" stop-color="#e2cad3"/><stop offset="0.531" stop-color="#e2cad3"/><stop offset="0.594" stop-color="#e1a2ab"/><stop offset="0.656" stop-color="#f1abae"/><stop offset="0.719" stop-color="#fbc3c3"/><stop offset="0.781" stop-color="#fcd0d0"/><stop offset="0.844" stop-color="#f2d3d6"/><stop offset="0.906" stop-color="#fbb1b1"/><stop offset="0.969" stop-color="#ffffff"/></linearGradient>
<rect x="98.10" y="361.85" width="161.40" height="2.76" fill="url(#g4_21)"/>
<linearGradient id="g4_22" gradientUnits="userSpaceOnUse" x1="102.1" x2="255.5" y1="0" y2="0"><stop offset="0.031" stop-color="#ffffff"/><stop offset="0.094" stop-color="#fde7e7"/><stop offset="0.156" stop-color="#fde7e7"/><stop offset="0.219" stop-color="#fbe8e8"/><stop offset="0.281" stop-color="#f8e6e8"/><stop offset="0.344" stop-color="#f8e6e8"/><stop offset="0.406" stop-color="#f8e6e8"/><stop offset="0.469" stop-color="#f6c4c6"/><stop offset="0.531" stop-color="#f6c4c6"/><stop offset="0.594" stop-color="#f48b8d"/><stop offset="0.656" stop-color="#f78d8d"/><stop offset="0.719" stop-color="#fbc3c3"/><stop offset="0.781" stop-color="#fbc6c6"/><stop offset="0.844" stop-color="#f9c6c7"/><stop offset="0.906" stop-color="#f98e8e"/><stop offset="0.969" stop-color="#ffffff"/></linearGradient>
<rect x="98.10" y="364.36" width="161.40" height="2.76" fill="url(#g4_22)"/>
<linearGradient id="g4_23" gradientUnits="userSpaceOnUse" x1="102.1" x2="255.5" y1="0" y2="0"><stop offset="0.031" stop-color="#ffffff"/><stop offset="0.094" stop-color="#fdecec"/><stop offset="0.156" stop-color="#fde7e7"/><stop offset="0.219" stop-color="#fde7e7"/><stop offset="0.281" stop-color="#fde7e7"/><stop offset="0.344" stop-color="#fde7e7"/><stop offset="0.406" stop-color="#fde7e7"/><stop offset="0.469" stop-color="#fbc3c3"/><stop offset="0.531" stop-color="#fbb6b6"/><stop offset="0.594" stop-color="#f98585"/><stop offset="0.656" stop-color="#f98585"/><stop offset="0.719" stop-color="#fbb6b6"/><stop offset="0.781" stop-color="#fbb6b6"/><stop offset="0.844" stop-color="#fbc3c3"/><stop offset="0.906" stop-color="#f99292"/><stop offset="0.969" stop-color="#ffffff"/></linearGradient>
<rect x="98.10" y="366.86" width="161.40" height="2.76" fill="url(#g4_23)"/>
<linearGradient id="g4_24" gradientUnits="userSpaceOnUse" x1="102.1" x2="255.5" y1="0" y2="0"><stop offset="0.031" stop-color="#ffffff"/><stop offset="0.094" stop-color="#fef3f3"/><stop offset="0.156" stop-color="#fde7e7"/><stop offset="0.219" stop-color="#fde7e7"/><stop offset="0.281" stop-color="#fde7e7"/><stop offset="0.344" stop-color="#fde7e7"/><stop offset="0.406" stop-color="#fde7e7"/><stop offset="0.469" stop-color="#fbc3c3"/><stop offset="0.531" stop-color="#faa4a4"/><stop offset="0.594" stop-color="#f98585"/><stop offset="0.656" stop-color="#f98585"/><stop offset="0.719" stop-color="#faa4a4"/><stop offset="0.781" stop-color="#faa4a4"/><stop offset="0.844" stop-color="#fbc3c3"/><stop offset="0.906" stop-color="#faa4a4"/><stop offset="0.969" stop-color="#ffffff"/></linearGradient>
<rect x="98.10" y="369.37" width="161.40" height="2.76" fill="url(#g4_24)"/>
<linearGradient id="g4_25" gradientUnits="userSpaceOnUse" x1="102.1" x2="255.5" y1="0" y2="0"><stop offset="0.031" stop-color="#ffffff"/><stop offset="0.094" stop-color="#fffafa"/><stop offset="0.156" stop-color="#fde7e7"/><stop offset="0.219" stop-color="#fde7e7"/><stop offset="0.281" stop-color="#fde7e7"/><stop offset="0.344" stop-color="#fde7e7"/><stop offset="0.406" stop-color="#fde7e7"/><stop offset="0.469" stop-color="#fbc3c3"/><stop offset="0.531" stop-color="#f99292"/><stop offset="0.594" stop-color="#f98585"/><stop offset="0.656" stop-color="#f98585"/><stop offset="0.719" stop-color="#f99292"/><stop offset="0.781" stop-color="#f99292"/><stop offset="0.844" stop-color="#fbc3c3"/><stop offset="0.906" stop-color="#fbb6b6"/><stop offset="0.969" stop-color="#ffffff"/></linearGradient>
<rect x="98.10" y="371.88" width="161.40" height="2.76" fill="url(#g4_25)"/>
<linearGradient id="g4_26" gradientUnits="userSpaceOnUse" x1="102.1" x2="255.5" y1="0" y2="0"><stop offset="0.031" stop-color="#ffffff"/><stop offset="0.094" stop-color="#ffffff"/><stop offset="0.156" stop-color="#fde7e7"/><stop offset="0.219" stop-color="#fde7e7"/><stop offset="0.281" stop-color="#fde7e7"/><stop offset="0.344" stop-color="#fde7e7"/><stop offset="0.406" stop-color="#fde7e7"/><stop offset="0.469" stop-color="#fbc3c3"/><stop offset="0.531" stop-color="#f98585"/><stop offset="0.594" stop-color="#f98585"/><stop offset="0.656" stop-color="#f98585"/><stop offset="0.719" stop-color="#f98585"/><stop offset="0.781" stop-color="#f98585"/><stop offset="0.844" stop-color="#fbc3c3"/><stop offset="0.906" stop-color="#fbc3c3"/><stop offset="0.969" stop-color="#ffffff"/></linearGradient>
<rect x="98.10" y="374.39" width="161.40" height="2.76" fill="url(#g4_26)"/>
<linearGradient id="g4_27" gradientUnits="userSpaceOnUse" x1="102.1" x2="255.5" y1="0" y2="0"><stop offset="0.031" stop-color="#ffffff"/><stop offset="0.094" stop-color="#ffffff"/><stop offset="0.156" stop-color="#fde7e7"/><stop offset="0.219" stop-color="#fde7e7"/><stop offset="0.281" stop-color="#fde7e7"/><stop offset="0.344" stop-color="#fde7e7"/><stop offset="0.406" stop-color="#fde7e7"/><stop offset="0.469" stop-color="#fbc3c3"/><stop offset="0.531" stop-color="#f98585"/><stop offset="0.594" stop-color="#f98585"/><stop offset="0.656" stop-color="#f98585"/><stop offset="0.719" stop-color="#f98585"/><stop offset="0.781" stop-color="#f98585"/><stop offset="0.844" stop-color="#fbc3c3"/><stop offset="0.906" stop-color="#fbc3c3"/><stop offset="0.969" stop-color="#ffffff"/></linearGradient>
<rect x="98.10" y="376.89" width="161.40" height="6.76" fill="url(#g4_27)"/>
</g>
<path d="M97.3,315.0 100.0,315.0 102.8,315.0 105.5,315.0 108.2,315.0 111.0,315.0 113.7,315.1 115.5,315.2 118.2,315.5 121.0,316.0 122.8,316.2 125.5,316.2 127.4,315.4 128.6,314.4 129.8,312.8 130.5,311.2 130.9,308.8 131.0,306.6 131.0,304.8" fill="none" stroke="#b59a55" stroke-width="0.55"/>
<path d="M197.0,304.8 197.0,307.2 197.0,309.6 197.0,312.0 197.0,314.4 196.9,316.8 196.8,319.2 196.5,320.8 195.6,322.9 194.7,324.0 192.9,325.0 190.9,325.6 188.4,325.9 185.6,326.3 183.8,326.6 181.9,327.1 179.3,327.8 177.4,328.2 174.7,328.6 172.9,328.8 170.1,329.0 167.4,329.0 164.7,329.1 162.0,329.2 159.2,329.3 156.5,329.4 153.8,329.4 151.0,329.4 148.3,329.4 145.6,329.5 143.7,329.8 141.9,330.4 140.1,331.2 138.3,332.3 136.7,333.5 135.5,334.7 134.4,335.9 133.1,337.5 132.0,339.1 131.1,340.7 130.6,342.3 130.4,344.7 130.9,347.1 131.6,348.7 132.6,350.3 133.7,351.8 134.6,352.9 135.9,354.3 137.4,355.6 138.8,356.7 140.2,357.5 142.0,358.3 144.7,359.0 146.5,359.3 149.2,359.5 151.9,359.6 154.7,359.6 157.4,359.6 160.1,359.6 162.9,359.5 165.6,359.4 168.3,359.2 170.2,359.1 172.9,358.9 175.6,358.8 178.3,358.7 181.1,358.7 183.8,358.6 186.5,358.4 188.4,358.2 191.1,358.0 193.8,357.6 195.6,357.3 198.1,356.7 200.2,356.0 202.0,355.2 203.8,354.3 205.3,353.5 206.7,352.7 208.4,351.7 210.2,350.7 212.0,349.7 213.5,348.7 214.8,347.7 216.3,346.3 217.5,345.2 218.8,343.9 220.2,342.5 221.2,341.5 222.5,339.9 223.5,338.3 224.2,336.7 224.8,335.0 225.1,332.7 224.8,331.0 223.9,329.4 223.0,327.9 222.1,326.1 221.4,324.0 221.1,322.4 220.8,320.0 220.5,317.6 220.2,315.3 220.1,313.6 220.0,311.2 219.9,308.8 219.9,306.4" fill="none" stroke="#b59a55" stroke-width="0.55"/>
<path d="M236.5,304.8 236.6,307.2 236.6,309.6 236.6,312.0 236.7,313.6 236.9,316.0 237.3,318.4 237.7,320.0 238.4,321.8 239.5,323.2 241.2,324.4 243.0,325.1 244.8,325.6 247.5,326.2 249.4,326.5 252.1,326.9 254.8,327.1 256.7,327.2 259.4,327.2" fill="none" stroke="#b59a55" stroke-width="0.55"/>
<path d="M169.5,304.8 169.5,307.2 169.5,309.6 169.2,311.7 168.8,313.6 168.0,315.2 166.6,316.8 165.5,317.6 163.8,318.5 162.0,319.4 160.1,320.3 158.3,321.0 155.6,321.5 152.8,321.3 150.8,320.8 149.0,320.0 147.4,319.0 145.9,317.6 144.9,316.0 144.4,314.4 144.0,312.0 143.8,309.6 143.8,307.2 143.8,304.8" fill="none" stroke="#b59a55" stroke-width="0.55"/>
<path d="M168.4,383.8 168.4,381.4 168.4,379.0 168.4,376.6 168.4,374.2 168.6,371.8 169.2,369.8 170.1,368.5 172.0,367.2 173.8,366.4 175.6,365.9 178.3,365.5 180.2,365.3 182.9,364.8 184.7,364.5 187.3,363.8 189.3,363.4 191.1,363.0 193.8,362.5 196.0,362.2 198.4,362.0 201.1,361.6 202.9,361.4 205.7,360.9 207.5,360.4 209.3,359.8 211.3,359.1 213.9,358.4 216.6,358.6 218.4,359.3 220.2,360.4 222.0,361.5 223.7,362.2 225.7,363.0 227.5,363.4 230.2,363.6 233.0,363.1 234.8,362.5 236.6,361.9 238.7,361.5 241.2,361.4 243.0,361.8 244.8,362.9 245.7,363.8 246.6,365.8 246.9,367.8 246.6,369.8 246.1,371.8 245.5,373.4 244.8,375.2 244.2,377.4 244.0,379.8 243.9,382.2 243.9,383.8" fill="none" stroke="#b59a55" stroke-width="0.55"/>
<path d="M209.0,304.8 209.0,307.2 208.9,309.6 208.6,312.0 208.3,313.6 207.7,316.0 207.3,317.6 207.0,320.0 207.2,322.4 207.9,324.0 209.3,325.4 211.1,326.1 213.4,325.6 214.8,324.1 215.3,322.4 215.4,320.0 215.0,317.6 214.6,316.0 214.0,313.6 213.6,312.0 213.3,309.6 213.2,307.2 213.2,304.8" fill="none" stroke="#6b6b6b" stroke-width="0.45"/>
<path d="M192.7,351.9 194.7,351.3 196.6,350.6 198.4,349.6 200.0,348.7 201.2,347.9 202.9,346.6 204.3,345.5 205.7,344.1 206.6,343.0 207.5,340.7 206.6,338.5 205.4,337.5 203.8,336.7 201.9,335.9 199.3,335.2 197.5,334.8 194.7,334.5 192.9,334.3 190.2,334.2 187.5,334.2 184.7,334.3 182.9,334.4 180.2,334.7 177.9,335.1 175.6,335.5 172.9,335.9 171.1,336.1 168.3,336.1 165.7,335.9 163.8,335.7 161.0,335.3 159.2,335.0 156.5,334.8 153.8,334.7 151.0,335.0 149.2,335.3 147.2,335.9 145.5,336.7 143.7,338.1 142.8,339.1 141.9,340.8 141.4,343.1 141.4,345.5 141.9,347.5 142.8,349.1 143.9,350.3 145.6,351.3 147.4,351.9 150.1,352.3 152.8,352.5 155.6,352.5 158.3,352.5 161.0,352.4 163.8,352.4 166.5,352.4 169.2,352.4 172.0,352.4 174.7,352.4 177.4,352.4 180.2,352.4 182.9,352.5 185.6,352.4 188.4,352.4 191.1,352.1" fill="none" stroke="#6b6b6b" stroke-width="0.45"/>
<path d="M178.9,383.8 178.9,381.4 179.0,379.0 179.3,377.0 179.8,375.0 180.7,373.4 182.0,372.1 183.5,371.0 184.9,370.2 186.5,369.3 188.4,368.3 190.2,367.5 192.0,366.8 193.9,366.2 196.6,365.8 199.3,365.6 202.0,365.7 204.8,366.2 206.6,366.9 208.4,367.8 209.7,368.6 211.3,369.4 213.9,370.2 215.7,370.5 218.4,370.8 220.2,371.1 222.4,371.8 223.9,372.7 225.3,374.2 226.1,375.8 226.6,378.2 226.7,379.8 226.7,382.2" fill="none" stroke="#7a6a6a" stroke-width="0.45"/>
<path d="M191.1,343.9 192.9,342.7 192.9,341.0 191.1,340.0 189.3,339.7 186.5,339.8 184.7,340.2 182.9,341.1 182.7,343.1 184.0,343.9 186.5,344.4 189.3,344.3 191.1,343.9" fill="none" stroke="#555" stroke-width="0.4"/>
<path d="M101.2,367.7 L103.0,366.5 L104.7,364.2 L106.4,361.3 L108.1,360.7 L109.8,361.6 L110.6,358.9 L112.3,357.8 L114.9,358.3 L115.7,358.9 L115.7,360.7 L115.3,361.8 L116.6,363.0 L118.7,364.8 L119.6,364.8 L120.4,361.8 L120.4,358.9 L121.3,356.8 L122.1,360.7 L123.7,361.8 L123.8,364.2 L124.5,366.5 L126.6,368.1 L127.2,370.6 L128.3,371.2 L130.2,373.5 L130.4,377.1 L130.6,380.6" fill="none" stroke="#d6a32c" stroke-width="0.75" stroke-linejoin="round"/>
<path d="M111.5,345.5 L114.0,345.5 L114.9,348.2 L117.4,346.2 L120.0,347.3 L123.4,349.6 L124.3,351.3 L125.5,353.1 L127.7,356.6 L125.1,356.0 L124.3,354.2 L122.6,353.4 L121.3,355.2 L120.0,354.8 L118.3,353.7 L117.4,354.2 L116.6,350.1 L114.9,349.6 L113.2,349.0 L112.3,347.8 L111.5,345.5" fill="none" stroke="#d6a32c" stroke-width="0.75" stroke-linejoin="round"/>
<path d="M126.4,350.7 L128.5,350.1 L129.4,349.2 L128.9,351.3 L126.8,351.6 L126.4,350.7" fill="none" stroke="#d6a32c" stroke-width="0.75" stroke-linejoin="round"/>
<path d="M131.9,351.3 L133.2,352.5 L134.1,353.7 L135.3,354.2 L136.6,355.4 L137.9,356.8 L136.2,356.0 L133.6,354.2 L131.9,351.3" fill="none" stroke="#d6a32c" stroke-width="0.75" stroke-linejoin="round"/>
<path d="M101.7,350.7 L102.5,347.8 L102.1,344.3 L102.7,343.1 L105.9,342.5 L103.0,343.7 L103.8,345.5 L104.9,345.2 L103.4,346.6 L104.2,349.6 L103.0,349.6 L102.5,350.7" fill="none" stroke="#d6a32c" stroke-width="0.75" stroke-linejoin="round"/>
<path d="M108.5,342.0 L108.9,343.1 L109.3,344.9 L108.7,343.7 L108.5,342.0" fill="none" stroke="#d6a32c" stroke-width="0.75" stroke-linejoin="round"/>
<path d="M108.9,347.8 L111.0,348.0 L110.6,348.7 L108.9,348.5 L108.9,347.8" fill="none" stroke="#d6a32c" stroke-width="0.75" stroke-linejoin="round"/>
<path d="M102.1,354.2 L104.7,353.9 L104.7,354.6 L102.1,354.7" fill="none" stroke="#d6a32c" stroke-width="0.75" stroke-linejoin="round"/>
<path d="M105.3,356.0 L108.1,354.0 L106.4,354.6 L105.3,356.0" fill="none" stroke="#d6a32c" stroke-width="0.75" stroke-linejoin="round"/>
<path d="M102.1,322.7 L104.2,322.7 L103.8,325.6 L103.4,327.3 L105.5,329.1 L104.7,328.5 L103.0,328.2 L102.5,327.0 L102.1,325.6 L102.1,322.7" fill="none" stroke="#d6a32c" stroke-width="0.75" stroke-linejoin="round"/>
<path d="M103.8,336.1 L105.1,334.9 L106.8,333.2 L107.6,336.1 L106.8,337.3 L105.5,336.7 L103.8,336.1" fill="none" stroke="#d6a32c" stroke-width="0.75" stroke-linejoin="round"/>
<path d="M104.2,332.0 L105.5,330.8 L106.8,331.4 L105.5,332.6 L104.2,332.0" fill="none" stroke="#d6a32c" stroke-width="0.75" stroke-linejoin="round"/>
<path d="M102.1,318.6 L103.0,315.1 L103.8,315.1 L102.8,318.6" fill="none" stroke="#d6a32c" stroke-width="0.75" stroke-linejoin="round"/>
<path d="M139.6,367.7 L142.2,370.6 L141.7,370.7 L139.4,367.9" fill="none" stroke="#d6a32c" stroke-width="0.75" stroke-linejoin="round"/>
<path d="M142.2,361.8 L143.0,363.6 L143.3,365.1" fill="none" stroke="#d6a32c" stroke-width="0.75" stroke-linejoin="round"/>
<path d="M151.1,364.8 L152.0,365.6 L152.0,364.2" fill="none" stroke="#d6a32c" stroke-width="0.75" stroke-linejoin="round"/>
<path d="M170.1,318.6 L171.1,319.4 L172.8,320.0 L173.7,321.5 L174.5,321.3" fill="none" stroke="#d6a32c" stroke-width="0.75" stroke-linejoin="round"/>
<path d="M207.8,309.2 L209.1,311.5 L210.8,315.1 L212.9,317.5 L213.3,316.2 L211.2,312.7 L210.3,310.4 L209.9,309.2" fill="none" stroke="#d6a32c" stroke-width="0.75" stroke-linejoin="round"/>
<path d="M210.8,309.2 L212.9,312.7 L214.6,315.1 L216.3,318.6 L217.0,320.3 L217.2,321.5 L218.9,322.7 L221.4,323.8 L224.8,325.6 L226.5,326.2 L228.2,327.9 L231.6,329.7 L233.3,332.6 L235.0,333.8 L236.8,334.9 L238.9,335.5 L240.2,334.4 L240.6,336.1 L240.2,339.6 L239.3,342.0 L238.5,344.3 L237.6,347.2 L238.3,349.0 L237.6,351.3 L239.3,354.8 L241.0,358.3 L241.9,360.7 L243.6,363.0 L246.1,365.4 L246.8,367.7 L246.8,373.5 L245.7,380.0" fill="none" stroke="#d6a32c" stroke-width="0.75" stroke-linejoin="round"/>
<path d="M224.0,308.6 L224.0,309.8 L223.5,312.7 L223.1,315.1 L223.4,318.6 L224.0,320.9 L225.7,322.7 L228.2,322.7 L229.5,321.5 L229.9,319.7 L232.5,319.1 L232.5,322.7 L231.2,325.6 L233.3,325.8 L235.0,325.6 L235.7,326.8 L235.5,330.3 L235.2,331.4 L236.8,333.2 L238.9,333.3 L240.2,334.1 L241.4,332.0 L242.7,331.4 L244.4,330.3 L245.7,331.4 L247.0,332.0 L251.2,332.0 L253.8,332.0 L256.4,332.0" fill="none" stroke="#d6a32c" stroke-width="0.75" stroke-linejoin="round"/>
<path d="M235.9,308.6 L236.3,311.5 L237.2,312.7 L237.4,314.7 L238.3,314.5 L238.5,312.7 L237.6,308.6" fill="none" stroke="#d6a32c" stroke-width="0.75" stroke-linejoin="round"/>
<path d="M234.2,318.6 L235.9,317.4 L238.5,317.4 L241.0,319.1 L243.4,320.7 L241.4,321.0 L239.3,319.7 L236.8,318.6 L234.2,318.6" fill="none" stroke="#d6a32c" stroke-width="0.75" stroke-linejoin="round"/>
<path d="M244.8,321.1 L248.3,322.1 L247.8,322.9 L245.3,323.2 L244.0,322.7 L244.8,321.1" fill="none" stroke="#d6a32c" stroke-width="0.75" stroke-linejoin="round"/>
<path d="M240.2,322.7 L241.5,323.0 L240.6,323.5 L240.2,322.7" fill="none" stroke="#d6a32c" stroke-width="0.75" stroke-linejoin="round"/>
<path d="M249.4,322.7 L250.8,322.8 L250.6,323.2 L249.4,323.1" fill="none" stroke="#d6a32c" stroke-width="0.75" stroke-linejoin="round"/>
</g>
<rect x="102.1" y="309.2" width="153.4" height="70.2" fill="none" stroke="#666" stroke-width="0.9"/>
<text x="116.4" y="307.5" font-family="Liberation Mono" font-weight="bold" font-size="6.1" fill="#505050" textLength="98.5" lengthAdjust="spacingAndGlyphs">SST Anomaly ERSSTv5 Date= 200602</text>
<g font-family="Liberation Sans" font-weight="bold" fill="#1e1e1e" stroke="#1e1e1e" stroke-width="0.45">
<text x="100.9" y="310.4" font-size="3.6" text-anchor="end" textLength="5.2" lengthAdjust="spacingAndGlyphs">30N</text>
<text x="100.9" y="316.3" font-size="3.6" text-anchor="end" textLength="5.2" lengthAdjust="spacingAndGlyphs">25N</text>
<text x="100.9" y="322.1" font-size="3.6" text-anchor="end" textLength="5.2" lengthAdjust="spacingAndGlyphs">20N</text>
<text x="100.9" y="328.0" font-size="3.6" text-anchor="end" textLength="5.2" lengthAdjust="spacingAndGlyphs">15N</text>
<text x="100.9" y="333.8" font-size="3.6" text-anchor="end" textLength="5.2" lengthAdjust="spacingAndGlyphs">10N</text>
<text x="100.9" y="339.7" font-size="3.6" text-anchor="end" textLength="3.6" lengthAdjust="spacingAndGlyphs">5N</text>
<text x="100.9" y="345.5" font-size="3.6" text-anchor="end" textLength="3.6" lengthAdjust="spacingAndGlyphs">EQ</text>
<text x="100.9" y="351.4" font-size="3.6" text-anchor="end" textLength="3.6" lengthAdjust="spacingAndGlyphs">5S</text>
<text x="100.9" y="357.2" font-size="3.6" text-anchor="end" textLength="5.2" lengthAdjust="spacingAndGlyphs">10S</text>
<text x="100.9" y="363.1" font-size="3.6" text-anchor="end" textLength="5.2" lengthAdjust="spacingAndGlyphs">15S</text>
<text x="100.9" y="368.9" font-size="3.6" text-anchor="end" textLength="5.2" lengthAdjust="spacingAndGlyphs">20S</text>
<text x="100.9" y="374.8" font-size="3.6" text-anchor="end" textLength="5.2" lengthAdjust="spacingAndGlyphs">25S</text>
<text x="100.9" y="380.6" font-size="3.6" text-anchor="end" textLength="5.2" lengthAdjust="spacingAndGlyphs">30S</text>
<text x="102.1" y="384.1" font-size="3.7" text-anchor="middle" textLength="5.6" lengthAdjust="spacingAndGlyphs">120E</text>
<text x="119.1" y="384.1" font-size="3.7" text-anchor="middle" textLength="5.6" lengthAdjust="spacingAndGlyphs">140E</text>
<text x="136.2" y="384.1" font-size="3.7" text-anchor="middle" textLength="5.6" lengthAdjust="spacingAndGlyphs">160E</text>
<text x="153.2" y="384.1" font-size="3.7" text-anchor="middle" textLength="4.6" lengthAdjust="spacingAndGlyphs">180</text>
<text x="170.3" y="384.1" font-size="3.7" text-anchor="middle" textLength="5.6" lengthAdjust="spacingAndGlyphs">160W</text>
<text x="187.3" y="384.1" font-size="3.7" text-anchor="middle" textLength="5.6" lengthAdjust="spacingAndGlyphs">140W</text>
<text x="204.4" y="384.1" font-size="3.7" text-anchor="middle" textLength="5.6" lengthAdjust="spacingAndGlyphs">120W</text>
<text x="221.4" y="384.1" font-size="3.7" text-anchor="middle" textLength="5.6" lengthAdjust="spacingAndGlyphs">100W</text>
<text x="238.5" y="384.1" font-size="3.7" text-anchor="middle" textLength="4.6" lengthAdjust="spacingAndGlyphs">80W</text>
<text x="255.5" y="384.1" font-size="3.7" text-anchor="middle" textLength="4.6" lengthAdjust="spacingAndGlyphs">60W</text>
</g>
<text x="107.6" y="324.4" font-family="Liberation Sans" font-weight="bold" font-size="12.6" fill="#000" stroke="#000" stroke-width="0.25" textLength="85.8" lengthAdjust="spacingAndGlyphs">Niña 2 200602</text>
<rect x="475.6" y="302.4" width="170.4" height="93.1" fill="#fff"/>
<clipPath id="cp5"><rect x="484.1" y="317.4" width="151.4" height="68.6"/></clipPath>
<g clip-path="url(#cp5)">
<rect x="484.1" y="317.4" width="151.4" height="68.6" fill="#fbf8f9"/>
<g filter="url(#blg)">
<linearGradient id="g5_0" gradientUnits="userSpaceOnUse" x1="484.1" x2="635.5" y1="0" y2="0"><stop offset="0.031" stop-color="#e3eff9"/><stop offset="0.094" stop-color="#b6d7ef"/><stop offset="0.156" stop-color="#fde7e7"/><stop offset="0.219" stop-color="#fbc3c3"/><stop offset="0.281" stop-color="#fbc3c3"/><stop offset="0.344" stop-color="#fde7e7"/><stop offset="0.406" stop-color="#b6d7ef"/><stop offset="0.469" stop-color="#b6d7ef"/><stop offset="0.531" stop-color="#b6d7ef"/><stop offset="0.594" stop-color="#e3eff9"/><stop offset="0.656" stop-color="#7db9e2"/><stop offset="0.719" stop-color="#e3eff9"/><stop offset="0.781" stop-color="#ffffff"/><stop offset="0.844" stop-color="#fde7e7"/><stop offset="0.906" stop-color="#fbc3c3"/><stop offset="0.969" stop-color="#fbc3c3"/></linearGradient>
<rect x="480.10" y="313.40" width="159.40" height="6.70" fill="url(#g5_0)"/>
<linearGradient id="g5_1" gradientUnits="userSpaceOnUse" x1="484.1" x2="635.5" y1="0" y2="0"><stop offset="0.031" stop-color="#e3eff9"/><stop offset="0.094" stop-color="#b6d7ef"/><stop offset="0.156" stop-color="#fde7e7"/><stop offset="0.219" stop-color="#fbc3c3"/><stop offset="0.281" stop-color="#fbc3c3"/><stop offset="0.344" stop-color="#fde7e7"/><stop offset="0.406" stop-color="#b6d7ef"/><stop offset="0.469" stop-color="#b6d7ef"/><stop offset="0.531" stop-color="#b6d7ef"/><stop offset="0.594" stop-color="#e3eff9"/><stop offset="0.656" stop-color="#7db9e2"/><stop offset="0.719" stop-color="#e3eff9"/><stop offset="0.781" stop-color="#ffffff"/><stop offset="0.844" stop-color="#fde7e7"/><stop offset="0.906" stop-color="#fbc3c3"/><stop offset="0.969" stop-color="#fbc3c3"/></linearGradient>
<rect x="480.10" y="319.85" width="159.40" height="2.70" fill="url(#g5_1)"/>
<linearGradient id="g5_2" gradientUnits="userSpaceOnUse" x1="484.1" x2="635.5" y1="0" y2="0"><stop offset="0.031" stop-color="#d9eaf7"/><stop offset="0.094" stop-color="#b6d7ef"/><stop offset="0.156" stop-color="#f7e9eb"/><stop offset="0.219" stop-color="#fbcbcb"/><stop offset="0.281" stop-color="#fbcbcb"/><stop offset="0.344" stop-color="#fde7e7"/><stop offset="0.406" stop-color="#c5d3e6"/><stop offset="0.469" stop-color="#c5d3e6"/><stop offset="0.531" stop-color="#c5d3e6"/><stop offset="0.594" stop-color="#e8e6ed"/><stop offset="0.656" stop-color="#98bbdb"/><stop offset="0.719" stop-color="#e9edf5"/><stop offset="0.781" stop-color="#ffffff"/><stop offset="0.844" stop-color="#fdecec"/><stop offset="0.906" stop-color="#fbcbcb"/><stop offset="0.969" stop-color="#fbcbcb"/></linearGradient>
<rect x="480.10" y="322.30" width="159.40" height="2.70" fill="url(#g5_2)"/>
<linearGradient id="g5_3" gradientUnits="userSpaceOnUse" x1="484.1" x2="635.5" y1="0" y2="0"><stop offset="0.031" stop-color="#cce3f4"/><stop offset="0.094" stop-color="#b6d7ef"/><stop offset="0.156" stop-color="#f0ebf0"/><stop offset="0.219" stop-color="#fcd5d5"/><stop offset="0.281" stop-color="#fcd5d5"/><stop offset="0.344" stop-color="#fde7e7"/><stop offset="0.406" stop-color="#d8cdd9"/><stop offset="0.469" stop-color="#d8cdd9"/><stop offset="0.531" stop-color="#d8cdd9"/><stop offset="0.594" stop-color="#efd9de"/><stop offset="0.656" stop-color="#bcbed2"/><stop offset="0.719" stop-color="#f0ebf0"/><stop offset="0.781" stop-color="#ffffff"/><stop offset="0.844" stop-color="#fef3f3"/><stop offset="0.906" stop-color="#fcd5d5"/><stop offset="0.969" stop-color="#fcd5d5"/></linearGradient>
<rect x="480.10" y="324.75" width="159.40" height="2.70" fill="url(#g5_3)"/>
<linearGradient id="g5_4" gradientUnits="userSpaceOnUse" x1="484.1" x2="635.5" y1="0" y2="0"><stop offset="0.031" stop-color="#c0dcf1"/><stop offset="0.094" stop-color="#b6d7ef"/><stop offset="0.156" stop-color="#e9edf5"/><stop offset="0.219" stop-color="#fddfdf"/><stop offset="0.281" stop-color="#fddfdf"/><stop offset="0.344" stop-color="#fde7e7"/><stop offset="0.406" stop-color="#ecc7cc"/><stop offset="0.469" stop-color="#ecc7cc"/><stop offset="0.531" stop-color="#ecc7cc"/><stop offset="0.594" stop-color="#f6cccf"/><stop offset="0.656" stop-color="#e0c1ca"/><stop offset="0.719" stop-color="#f7e9eb"/><stop offset="0.781" stop-color="#ffffff"/><stop offset="0.844" stop-color="#fffafa"/><stop offset="0.906" stop-color="#fddfdf"/><stop offset="0.969" stop-color="#fddfdf"/></linearGradient>
<rect x="480.10" y="327.20" width="159.40" height="2.70" fill="url(#g5_4)"/>
<linearGradient id="g5_5" gradientUnits="userSpaceOnUse" x1="484.1" x2="635.5" y1="0" y2="0"><stop offset="0.031" stop-color="#b6d7ef"/><stop offset="0.094" stop-color="#b9d9f0"/><stop offset="0.156" stop-color="#e3eff9"/><stop offset="0.219" stop-color="#fbe8e8"/><stop offset="0.281" stop-color="#fde7e7"/><stop offset="0.344" stop-color="#fde7e7"/><stop offset="0.406" stop-color="#fbc3c3"/><stop offset="0.469" stop-color="#fbc3c3"/><stop offset="0.531" stop-color="#fbbfbf"/><stop offset="0.594" stop-color="#fbbfbf"/><stop offset="0.656" stop-color="#fbbfbf"/><stop offset="0.719" stop-color="#fde4e4"/><stop offset="0.781" stop-color="#fffbfb"/><stop offset="0.844" stop-color="#ffffff"/><stop offset="0.906" stop-color="#fde9e9"/><stop offset="0.969" stop-color="#fde9e9"/></linearGradient>
<rect x="480.10" y="329.65" width="159.40" height="2.70" fill="url(#g5_5)"/>
<linearGradient id="g5_6" gradientUnits="userSpaceOnUse" x1="484.1" x2="635.5" y1="0" y2="0"><stop offset="0.031" stop-color="#b6d7ef"/><stop offset="0.094" stop-color="#c6e0f3"/><stop offset="0.156" stop-color="#e3eff9"/><stop offset="0.219" stop-color="#f4eaed"/><stop offset="0.281" stop-color="#fde7e7"/><stop offset="0.344" stop-color="#fde7e7"/><stop offset="0.406" stop-color="#fbc3c3"/><stop offset="0.469" stop-color="#fbc3c3"/><stop offset="0.531" stop-color="#faadad"/><stop offset="0.594" stop-color="#faadad"/><stop offset="0.656" stop-color="#faadad"/><stop offset="0.719" stop-color="#fcdada"/><stop offset="0.781" stop-color="#feeaea"/><stop offset="0.844" stop-color="#ffffff"/><stop offset="0.906" stop-color="#fef0f0"/><stop offset="0.969" stop-color="#fef0f0"/></linearGradient>
<rect x="480.10" y="332.10" width="159.40" height="2.70" fill="url(#g5_6)"/>
<linearGradient id="g5_7" gradientUnits="userSpaceOnUse" x1="484.1" x2="635.5" y1="0" y2="0"><stop offset="0.031" stop-color="#b6d7ef"/><stop offset="0.094" stop-color="#d3e6f5"/><stop offset="0.156" stop-color="#e3eff9"/><stop offset="0.219" stop-color="#ececf3"/><stop offset="0.281" stop-color="#fde7e7"/><stop offset="0.344" stop-color="#fde7e7"/><stop offset="0.406" stop-color="#fbc3c3"/><stop offset="0.469" stop-color="#fbc3c3"/><stop offset="0.531" stop-color="#fa9b9b"/><stop offset="0.594" stop-color="#fa9b9b"/><stop offset="0.656" stop-color="#fa9b9b"/><stop offset="0.719" stop-color="#fcd0d0"/><stop offset="0.781" stop-color="#fcd8d8"/><stop offset="0.844" stop-color="#ffffff"/><stop offset="0.906" stop-color="#fef6f6"/><stop offset="0.969" stop-color="#fef6f6"/></linearGradient>
<rect x="480.10" y="334.55" width="159.40" height="2.70" fill="url(#g5_7)"/>
<linearGradient id="g5_8" gradientUnits="userSpaceOnUse" x1="484.1" x2="635.5" y1="0" y2="0"><stop offset="0.031" stop-color="#b6d7ef"/><stop offset="0.094" stop-color="#e0edf8"/><stop offset="0.156" stop-color="#e3eff9"/><stop offset="0.219" stop-color="#e5eef8"/><stop offset="0.281" stop-color="#fde7e7"/><stop offset="0.344" stop-color="#fde7e7"/><stop offset="0.406" stop-color="#fbc3c3"/><stop offset="0.469" stop-color="#fbc3c3"/><stop offset="0.531" stop-color="#f98989"/><stop offset="0.594" stop-color="#f98989"/><stop offset="0.656" stop-color="#f98989"/><stop offset="0.719" stop-color="#fbc6c6"/><stop offset="0.781" stop-color="#fbc7c7"/><stop offset="0.844" stop-color="#ffffff"/><stop offset="0.906" stop-color="#fffdfd"/><stop offset="0.969" stop-color="#fffdfd"/></linearGradient>
<rect x="480.10" y="337.00" width="159.40" height="2.70" fill="url(#g5_8)"/>
<linearGradient id="g5_9" gradientUnits="userSpaceOnUse" x1="484.1" x2="635.5" y1="0" y2="0"><stop offset="0.031" stop-color="#b6d7ef"/><stop offset="0.094" stop-color="#d9eaf7"/><stop offset="0.156" stop-color="#e3eff9"/><stop offset="0.219" stop-color="#e3eff9"/><stop offset="0.281" stop-color="#fddfdf"/><stop offset="0.344" stop-color="#fcd2d2"/><stop offset="0.406" stop-color="#fbb6b6"/><stop offset="0.469" stop-color="#f9b0b0"/><stop offset="0.531" stop-color="#f88080"/><stop offset="0.594" stop-color="#f98585"/><stop offset="0.656" stop-color="#f98585"/><stop offset="0.719" stop-color="#fbb6b6"/><stop offset="0.781" stop-color="#fbb6b6"/><stop offset="0.844" stop-color="#fef2f2"/><stop offset="0.906" stop-color="#ffffff"/><stop offset="0.969" stop-color="#ffffff"/></linearGradient>
<rect x="480.10" y="339.45" width="159.40" height="2.70" fill="url(#g5_9)"/>
<linearGradient id="g5_10" gradientUnits="userSpaceOnUse" x1="484.1" x2="635.5" y1="0" y2="0"><stop offset="0.031" stop-color="#b6d7ef"/><stop offset="0.094" stop-color="#cce3f4"/><stop offset="0.156" stop-color="#e3eff9"/><stop offset="0.219" stop-color="#e3eff9"/><stop offset="0.281" stop-color="#fcd5d5"/><stop offset="0.344" stop-color="#fbb6b6"/><stop offset="0.406" stop-color="#faa4a4"/><stop offset="0.469" stop-color="#f69898"/><stop offset="0.531" stop-color="#f67878"/><stop offset="0.594" stop-color="#f98585"/><stop offset="0.656" stop-color="#f98585"/><stop offset="0.719" stop-color="#faa4a4"/><stop offset="0.781" stop-color="#faa4a4"/><stop offset="0.844" stop-color="#fde1e1"/><stop offset="0.906" stop-color="#ffffff"/><stop offset="0.969" stop-color="#ffffff"/></linearGradient>
<rect x="480.10" y="341.90" width="159.40" height="2.70" fill="url(#g5_10)"/>
<linearGradient id="g5_11" gradientUnits="userSpaceOnUse" x1="484.1" x2="635.5" y1="0" y2="0"><stop offset="0.031" stop-color="#b6d7ef"/><stop offset="0.094" stop-color="#c0dcf1"/><stop offset="0.156" stop-color="#e3eff9"/><stop offset="0.219" stop-color="#e3eff9"/><stop offset="0.281" stop-color="#fbcbcb"/><stop offset="0.344" stop-color="#fa9a9a"/><stop offset="0.406" stop-color="#f99292"/><stop offset="0.469" stop-color="#f47f7f"/><stop offset="0.531" stop-color="#f47171"/><stop offset="0.594" stop-color="#f98585"/><stop offset="0.656" stop-color="#f98585"/><stop offset="0.719" stop-color="#f99292"/><stop offset="0.781" stop-color="#f99292"/><stop offset="0.844" stop-color="#fcd0d0"/><stop offset="0.906" stop-color="#ffffff"/><stop offset="0.969" stop-color="#ffffff"/></linearGradient>
<rect x="480.10" y="344.35" width="159.40" height="2.70" fill="url(#g5_11)"/>
<linearGradient id="g5_12" gradientUnits="userSpaceOnUse" x1="484.1" x2="635.5" y1="0" y2="0"><stop offset="0.031" stop-color="#b6d7ef"/><stop offset="0.094" stop-color="#b9d9f0"/><stop offset="0.156" stop-color="#e3eff9"/><stop offset="0.219" stop-color="#e3eff9"/><stop offset="0.281" stop-color="#fbc3c3"/><stop offset="0.344" stop-color="#f98585"/><stop offset="0.406" stop-color="#f98585"/><stop offset="0.469" stop-color="#f26c6c"/><stop offset="0.531" stop-color="#f26c6c"/><stop offset="0.594" stop-color="#f98585"/><stop offset="0.656" stop-color="#f98585"/><stop offset="0.719" stop-color="#f98585"/><stop offset="0.781" stop-color="#f98585"/><stop offset="0.844" stop-color="#fbbfbf"/><stop offset="0.906" stop-color="#ffffff"/><stop offset="0.969" stop-color="#ffffff"/></linearGradient>
<rect x="480.10" y="346.80" width="159.40" height="2.70" fill="url(#g5_12)"/>
<linearGradient id="g5_13" gradientUnits="userSpaceOnUse" x1="484.1" x2="635.5" y1="0" y2="0"><stop offset="0.031" stop-color="#b6d7ef"/><stop offset="0.094" stop-color="#c6e0f3"/><stop offset="0.156" stop-color="#e3eff9"/><stop offset="0.219" stop-color="#e3eff9"/><stop offset="0.281" stop-color="#fbc3c3"/><stop offset="0.344" stop-color="#f98585"/><stop offset="0.406" stop-color="#f98585"/><stop offset="0.469" stop-color="#f26c6c"/><stop offset="0.531" stop-color="#f26c6c"/><stop offset="0.594" stop-color="#f98585"/><stop offset="0.656" stop-color="#f98585"/><stop offset="0.719" stop-color="#f98585"/><stop offset="0.781" stop-color="#f98585"/><stop offset="0.844" stop-color="#faadad"/><stop offset="0.906" stop-color="#ffffff"/><stop offset="0.969" stop-color="#ffffff"/></linearGradient>
<rect x="480.10" y="349.25" width="159.40" height="2.70" fill="url(#g5_13)"/>
<linearGradient id="g5_14" gradientUnits="userSpaceOnUse" x1="484.1" x2="635.5" y1="0" y2="0"><stop offset="0.031" stop-color="#b6d7ef"/><stop offset="0.094" stop-color="#d3e6f5"/><stop offset="0.156" stop-color="#e3eff9"/><stop offset="0.219" stop-color="#e3eff9"/><stop offset="0.281" stop-color="#fbc3c3"/><stop offset="0.344" stop-color="#f98585"/><stop offset="0.406" stop-color="#f98585"/><stop offset="0.469" stop-color="#f26c6c"/><stop offset="0.531" stop-color="#f26c6c"/><stop offset="0.594" stop-color="#f98585"/><stop offset="0.656" stop-color="#f98585"/><stop offset="0.719" stop-color="#f98585"/><stop offset="0.781" stop-color="#f98585"/><stop offset="0.844" stop-color="#fa9b9b"/><stop offset="0.906" stop-color="#ffffff"/><stop offset="0.969" stop-color="#ffffff"/></linearGradient>
<rect x="480.10" y="351.70" width="159.40" height="2.70" fill="url(#g5_14)"/>
<linearGradient id="g5_15" gradientUnits="userSpaceOnUse" x1="484.1" x2="635.5" y1="0" y2="0"><stop offset="0.031" stop-color="#b6d7ef"/><stop offset="0.094" stop-color="#e0edf8"/><stop offset="0.156" stop-color="#e3eff9"/><stop offset="0.219" stop-color="#e3eff9"/><stop offset="0.281" stop-color="#fbc3c3"/><stop offset="0.344" stop-color="#f98585"/><stop offset="0.406" stop-color="#f98585"/><stop offset="0.469" stop-color="#f26c6c"/><stop offset="0.531" stop-color="#f26c6c"/><stop offset="0.594" stop-color="#f98585"/><stop offset="0.656" stop-color="#f98585"/><stop offset="0.719" stop-color="#f98585"/><stop offset="0.781" stop-color="#f98585"/><stop offset="0.844" stop-color="#f98989"/><stop offset="0.906" stop-color="#ffffff"/><stop offset="0.969" stop-color="#ffffff"/></linearGradient>
<rect x="480.10" y="354.15" width="159.40" height="2.70" fill="url(#g5_15)"/>
<linearGradient id="g5_16" gradientUnits="userSpaceOnUse" x1="484.1" x2="635.5" y1="0" y2="0"><stop offset="0.031" stop-color="#c0dcf1"/><stop offset="0.094" stop-color="#e9edf5"/><stop offset="0.156" stop-color="#e3eff9"/><stop offset="0.219" stop-color="#cde3f4"/><stop offset="0.281" stop-color="#fbcbcb"/><stop offset="0.344" stop-color="#f99292"/><stop offset="0.406" stop-color="#f98585"/><stop offset="0.469" stop-color="#f47171"/><stop offset="0.531" stop-color="#f47171"/><stop offset="0.594" stop-color="#f98585"/><stop offset="0.656" stop-color="#f99292"/><stop offset="0.719" stop-color="#f99292"/><stop offset="0.781" stop-color="#eb979c"/><stop offset="0.844" stop-color="#d28a96"/><stop offset="0.906" stop-color="#fef2f2"/><stop offset="0.969" stop-color="#ffffff"/></linearGradient>
<rect x="480.10" y="356.60" width="159.40" height="2.70" fill="url(#g5_16)"/>
<linearGradient id="g5_17" gradientUnits="userSpaceOnUse" x1="484.1" x2="635.5" y1="0" y2="0"><stop offset="0.031" stop-color="#cce3f4"/><stop offset="0.094" stop-color="#f0ebf0"/><stop offset="0.156" stop-color="#e3eff9"/><stop offset="0.219" stop-color="#b0d4ee"/><stop offset="0.281" stop-color="#fcd5d5"/><stop offset="0.344" stop-color="#faa4a4"/><stop offset="0.406" stop-color="#f98585"/><stop offset="0.469" stop-color="#f67878"/><stop offset="0.531" stop-color="#f67878"/><stop offset="0.594" stop-color="#f98585"/><stop offset="0.656" stop-color="#faa4a4"/><stop offset="0.719" stop-color="#faa4a4"/><stop offset="0.781" stop-color="#d8aeba"/><stop offset="0.844" stop-color="#9e90ad"/><stop offset="0.906" stop-color="#fde1e1"/><stop offset="0.969" stop-color="#ffffff"/></linearGradient>
<rect x="480.10" y="359.05" width="159.40" height="2.70" fill="url(#g5_17)"/>
<linearGradient id="g5_18" gradientUnits="userSpaceOnUse" x1="484.1" x2="635.5" y1="0" y2="0"><stop offset="0.031" stop-color="#d9eaf7"/><stop offset="0.094" stop-color="#f7e9eb"/><stop offset="0.156" stop-color="#e3eff9"/><stop offset="0.219" stop-color="#93c5e7"/><stop offset="0.281" stop-color="#fddfdf"/><stop offset="0.344" stop-color="#fbb6b6"/><stop offset="0.406" stop-color="#f98585"/><stop offset="0.469" stop-color="#f88080"/><stop offset="0.531" stop-color="#f88080"/><stop offset="0.594" stop-color="#f98585"/><stop offset="0.656" stop-color="#fbb6b6"/><stop offset="0.719" stop-color="#fbb6b6"/><stop offset="0.781" stop-color="#c4c5d8"/><stop offset="0.844" stop-color="#6b96c4"/><stop offset="0.906" stop-color="#fcd0d0"/><stop offset="0.969" stop-color="#ffffff"/></linearGradient>
<rect x="480.10" y="361.50" width="159.40" height="2.70" fill="url(#g5_18)"/>
<linearGradient id="g5_19" gradientUnits="userSpaceOnUse" x1="484.1" x2="635.5" y1="0" y2="0"><stop offset="0.031" stop-color="#e5f0f9"/><stop offset="0.094" stop-color="#fde7e7"/><stop offset="0.156" stop-color="#e0edf8"/><stop offset="0.219" stop-color="#79b7e1"/><stop offset="0.281" stop-color="#eddfe4"/><stop offset="0.344" stop-color="#ebbec3"/><stop offset="0.406" stop-color="#ec878b"/><stop offset="0.469" stop-color="#f98c8c"/><stop offset="0.531" stop-color="#f98989"/><stop offset="0.594" stop-color="#f98c8c"/><stop offset="0.656" stop-color="#fbc6c6"/><stop offset="0.719" stop-color="#f6c4c6"/><stop offset="0.781" stop-color="#aed3ed"/><stop offset="0.844" stop-color="#4199d4"/><stop offset="0.906" stop-color="#fbc7c7"/><stop offset="0.969" stop-color="#ffffff"/></linearGradient>
<rect x="480.10" y="363.95" width="159.40" height="2.70" fill="url(#g5_19)"/>
<linearGradient id="g5_20" gradientUnits="userSpaceOnUse" x1="484.1" x2="635.5" y1="0" y2="0"><stop offset="0.031" stop-color="#edf5fb"/><stop offset="0.094" stop-color="#fde7e7"/><stop offset="0.156" stop-color="#d3e6f5"/><stop offset="0.219" stop-color="#69aedd"/><stop offset="0.281" stop-color="#adc1da"/><stop offset="0.344" stop-color="#acaac3"/><stop offset="0.406" stop-color="#b88da2"/><stop offset="0.469" stop-color="#faa8a8"/><stop offset="0.531" stop-color="#fa9b9b"/><stop offset="0.594" stop-color="#faa8a8"/><stop offset="0.656" stop-color="#fcd0d0"/><stop offset="0.719" stop-color="#e2cad3"/><stop offset="0.781" stop-color="#8dc2e6"/><stop offset="0.844" stop-color="#3690cf"/><stop offset="0.906" stop-color="#fcd8d8"/><stop offset="0.969" stop-color="#ffffff"/></linearGradient>
<rect x="480.10" y="366.40" width="159.40" height="2.70" fill="url(#g5_20)"/>
<linearGradient id="g5_21" gradientUnits="userSpaceOnUse" x1="484.1" x2="635.5" y1="0" y2="0"><stop offset="0.031" stop-color="#f5f9fd"/><stop offset="0.094" stop-color="#fde7e7"/><stop offset="0.156" stop-color="#c6e0f3"/><stop offset="0.219" stop-color="#58a6da"/><stop offset="0.281" stop-color="#6da3d0"/><stop offset="0.344" stop-color="#6c96c4"/><stop offset="0.406" stop-color="#8593b8"/><stop offset="0.469" stop-color="#fcc4c4"/><stop offset="0.531" stop-color="#faadad"/><stop offset="0.594" stop-color="#fcc4c4"/><stop offset="0.656" stop-color="#fcdada"/><stop offset="0.719" stop-color="#cfd0df"/><stop offset="0.781" stop-color="#6db0de"/><stop offset="0.844" stop-color="#2b88ca"/><stop offset="0.906" stop-color="#feeaea"/><stop offset="0.969" stop-color="#ffffff"/></linearGradient>
<rect x="480.10" y="368.85" width="159.40" height="2.70" fill="url(#g5_21)"/>
<linearGradient id="g5_22" gradientUnits="userSpaceOnUse" x1="484.1" x2="635.5" y1="0" y2="0"><stop offset="0.031" stop-color="#fdfeff"/><stop offset="0.094" stop-color="#fde7e7"/><stop offset="0.156" stop-color="#b9d9f0"/><stop offset="0.219" stop-color="#489dd6"/><stop offset="0.281" stop-color="#2d85c6"/><stop offset="0.344" stop-color="#2d82c4"/><stop offset="0.406" stop-color="#5199cf"/><stop offset="0.469" stop-color="#fde0e0"/><stop offset="0.531" stop-color="#fbbfbf"/><stop offset="0.594" stop-color="#fde0e0"/><stop offset="0.656" stop-color="#fde4e4"/><stop offset="0.719" stop-color="#bbd6ec"/><stop offset="0.781" stop-color="#4c9fd7"/><stop offset="0.844" stop-color="#207fc5"/><stop offset="0.906" stop-color="#fffbfb"/><stop offset="0.969" stop-color="#ffffff"/></linearGradient>
<rect x="480.10" y="371.30" width="159.40" height="2.70" fill="url(#g5_22)"/>
<linearGradient id="g5_23" gradientUnits="userSpaceOnUse" x1="484.1" x2="635.5" y1="0" y2="0"><stop offset="0.031" stop-color="#ffffff"/><stop offset="0.094" stop-color="#fdecec"/><stop offset="0.156" stop-color="#c5daed"/><stop offset="0.219" stop-color="#5ca8db"/><stop offset="0.281" stop-color="#2583c8"/><stop offset="0.344" stop-color="#2583c8"/><stop offset="0.406" stop-color="#5ca8db"/><stop offset="0.469" stop-color="#f7e9eb"/><stop offset="0.531" stop-color="#ecc7cc"/><stop offset="0.594" stop-color="#e2dde6"/><stop offset="0.656" stop-color="#d5d7e3"/><stop offset="0.719" stop-color="#b6d7ef"/><stop offset="0.781" stop-color="#5ca8db"/><stop offset="0.844" stop-color="#1d7dc4"/><stop offset="0.906" stop-color="#ffffff"/><stop offset="0.969" stop-color="#ffffff"/></linearGradient>
<rect x="480.10" y="373.75" width="159.40" height="2.70" fill="url(#g5_23)"/>
<linearGradient id="g5_24" gradientUnits="userSpaceOnUse" x1="484.1" x2="635.5" y1="0" y2="0"><stop offset="0.031" stop-color="#ffffff"/><stop offset="0.094" stop-color="#fef3f3"/><stop offset="0.156" stop-color="#dadfeb"/><stop offset="0.219" stop-color="#7db9e2"/><stop offset="0.281" stop-color="#308ccc"/><stop offset="0.344" stop-color="#308ccc"/><stop offset="0.406" stop-color="#7db9e2"/><stop offset="0.469" stop-color="#f0ebf0"/><stop offset="0.531" stop-color="#d8cdd9"/><stop offset="0.594" stop-color="#bdd0e4"/><stop offset="0.656" stop-color="#a0c1de"/><stop offset="0.719" stop-color="#b6d7ef"/><stop offset="0.781" stop-color="#7db9e2"/><stop offset="0.844" stop-color="#1d7dc4"/><stop offset="0.906" stop-color="#ffffff"/><stop offset="0.969" stop-color="#ffffff"/></linearGradient>
<rect x="480.10" y="376.20" width="159.40" height="2.70" fill="url(#g5_24)"/>
<linearGradient id="g5_25" gradientUnits="userSpaceOnUse" x1="484.1" x2="635.5" y1="0" y2="0"><stop offset="0.031" stop-color="#ffffff"/><stop offset="0.094" stop-color="#fffafa"/><stop offset="0.156" stop-color="#eee4e9"/><stop offset="0.219" stop-color="#9ecae9"/><stop offset="0.281" stop-color="#3c95d1"/><stop offset="0.344" stop-color="#3c95d1"/><stop offset="0.406" stop-color="#9ecae9"/><stop offset="0.469" stop-color="#e9edf5"/><stop offset="0.531" stop-color="#c5d3e6"/><stop offset="0.594" stop-color="#98c3e3"/><stop offset="0.656" stop-color="#6cabd9"/><stop offset="0.719" stop-color="#b6d7ef"/><stop offset="0.781" stop-color="#9ecae9"/><stop offset="0.844" stop-color="#1d7dc4"/><stop offset="0.906" stop-color="#ffffff"/><stop offset="0.969" stop-color="#ffffff"/></linearGradient>
<rect x="480.10" y="378.65" width="159.40" height="2.70" fill="url(#g5_25)"/>
<linearGradient id="g5_26" gradientUnits="userSpaceOnUse" x1="484.1" x2="635.5" y1="0" y2="0"><stop offset="0.031" stop-color="#ffffff"/><stop offset="0.094" stop-color="#ffffff"/><stop offset="0.156" stop-color="#fde7e7"/><stop offset="0.219" stop-color="#b6d7ef"/><stop offset="0.281" stop-color="#449bd5"/><stop offset="0.344" stop-color="#449bd5"/><stop offset="0.406" stop-color="#b6d7ef"/><stop offset="0.469" stop-color="#e3eff9"/><stop offset="0.531" stop-color="#b6d7ef"/><stop offset="0.594" stop-color="#7db9e2"/><stop offset="0.656" stop-color="#449bd5"/><stop offset="0.719" stop-color="#b6d7ef"/><stop offset="0.781" stop-color="#b6d7ef"/><stop offset="0.844" stop-color="#1d7dc4"/><stop offset="0.906" stop-color="#ffffff"/><stop offset="0.969" stop-color="#ffffff"/></linearGradient>
<rect x="480.10" y="381.10" width="159.40" height="2.70" fill="url(#g5_26)"/>
<linearGradient id="g5_27" gradientUnits="userSpaceOnUse" x1="484.1" x2="635.5" y1="0" y2="0"><stop offset="0.031" stop-color="#ffffff"/><stop offset="0.094" stop-color="#ffffff"/><stop offset="0.156" stop-color="#fde7e7"/><stop offset="0.219" stop-color="#b6d7ef"/><stop offset="0.281" stop-color="#449bd5"/><stop offset="0.344" stop-color="#449bd5"/><stop offset="0.406" stop-color="#b6d7ef"/><stop offset="0.469" stop-color="#e3eff9"/><stop offset="0.531" stop-color="#b6d7ef"/><stop offset="0.594" stop-color="#7db9e2"/><stop offset="0.656" stop-color="#449bd5"/><stop offset="0.719" stop-color="#b6d7ef"/><stop offset="0.781" stop-color="#b6d7ef"/><stop offset="0.844" stop-color="#1d7dc4"/><stop offset="0.906" stop-color="#ffffff"/><stop offset="0.969" stop-color="#ffffff"/></linearGradient>
<rect x="480.10" y="383.55" width="159.40" height="6.70" fill="url(#g5_27)"/>
</g>
<path d="M493.3,313.1 493.3,315.5 493.2,317.8 492.8,319.5 492.0,321.7 491.1,322.8 489.5,324.0 487.5,324.8 485.7,325.2 483.0,325.4 480.3,325.4" fill="none" stroke="#b59a55" stroke-width="0.55"/>
<path d="M479.4,360.7 482.1,360.7 483.9,360.6 486.6,360.1 488.4,359.3 490.1,358.3 491.1,357.5 492.8,356.1 494.0,355.2 495.5,354.0 497.2,352.9 498.3,352.1 500.0,350.8 500.9,349.8 501.7,347.4 501.0,345.1 500.0,343.8 499.0,342.7 497.5,341.2 496.7,339.6 497.0,337.3 498.2,335.7 499.1,334.8 500.5,333.4 501.4,331.8 501.6,329.5 501.1,327.1 500.6,325.6 500.0,323.9 499.4,321.7 499.1,319.5 499.0,317.8 498.9,315.5 498.9,313.1" fill="none" stroke="#b59a55" stroke-width="0.55"/>
<path d="M544.2,313.1 544.2,315.5 544.5,317.8 545.0,319.3 546.6,320.9 548.6,321.7 550.4,321.9 553.1,322.0 555.8,322.0 558.5,322.0 561.1,321.9 563.1,321.7 565.6,321.0 567.4,320.2 568.6,319.3 569.9,317.8 570.7,316.2 571.0,313.9" fill="none" stroke="#b59a55" stroke-width="0.55"/>
<path d="M573.4,313.1 573.6,315.5 574.0,317.0 574.8,318.6 576.0,320.1 577.3,321.3 579.1,322.4 580.9,323.2 582.7,323.5 585.4,323.5 587.2,323.0 589.0,322.0 590.1,320.9 590.9,319.3 591.3,317.0 591.4,314.7" fill="none" stroke="#b59a55" stroke-width="0.55"/>
<path d="M551.6,390.3 551.6,387.9 551.7,385.6 551.7,383.3 551.7,380.9 551.7,378.6 551.3,376.3 550.8,374.7 549.9,373.1 548.6,371.9 546.9,370.8 545.0,370.0 543.2,369.4 541.4,369.0 539.1,368.5 536.9,368.0 534.6,367.7 532.4,367.4 529.7,367.0 527.9,366.6 526.1,366.1 524.3,365.3 522.5,364.2 521.0,363.0 519.8,361.9 518.2,360.7 516.9,359.9 514.4,359.3 512.5,359.9 510.8,361.4 509.9,362.8 509.0,364.6 508.3,366.1 507.7,367.7 507.2,369.2 506.8,371.6 507.2,373.9 508.1,375.5 509.0,376.6 510.2,377.8 511.7,379.4 512.6,380.5 513.5,381.8 514.4,384.0 514.7,385.6 514.9,387.9 514.9,390.3" fill="none" stroke="#b59a55" stroke-width="0.55"/>
<path d="M620.4,390.3 620.4,387.9 620.4,385.6 620.4,383.3 620.4,380.9 620.4,378.6 620.3,376.3 620.0,373.9 619.6,372.0 618.9,370.0 618.3,368.5 617.7,366.9 616.9,365.3 615.7,363.8 614.2,362.8 612.4,362.2 609.7,362.1 607.9,362.3 605.5,363.0 603.5,363.8 602.1,364.6 600.7,365.5 598.9,366.8 597.9,367.7 596.2,369.2 595.2,370.0 593.5,371.5 592.6,372.4 590.8,373.8 589.4,374.7 587.3,375.5 585.4,375.9 582.8,376.3 580.9,376.5 578.2,376.9 576.4,377.2 574.0,377.8 571.9,378.4 570.1,379.0 568.3,379.6 566.5,380.2 564.7,380.9 562.9,381.8 561.1,382.9 560.0,384.1 559.2,385.6 558.7,387.9 558.7,390.3" fill="none" stroke="#b59a55" stroke-width="0.55"/>
<path d="M531.6,313.1 531.5,315.5 531.5,317.8 531.4,319.3 530.9,321.7 530.1,323.2 528.8,324.6 527.0,325.6 525.2,326.0 522.5,326.2 519.8,325.8 518.0,325.1 516.2,324.1 515.3,323.2 513.9,321.7 513.1,320.1 512.6,318.4 512.4,316.2 512.4,313.9" fill="none" stroke="#b59a55" stroke-width="0.55"/>
<path d="M640.2,326.4 637.5,326.4 634.8,326.4 632.1,326.4 629.4,326.4 627.4,326.4 625.0,326.2 622.3,325.6 620.6,324.8 619.5,324.0 618.0,322.5 617.0,320.9 616.5,319.3 616.2,317.0 616.1,314.7" fill="none" stroke="#b59a55" stroke-width="0.55"/>
<path d="M566.5,373.2 563.8,373.5 561.1,373.3 559.4,372.8 557.6,372.1 555.8,371.1 554.0,370.0 552.6,369.2 551.0,368.5 549.0,367.7 546.8,367.0 545.0,366.5 543.2,366.0 540.5,365.3 538.7,364.9 536.9,364.4 534.7,363.8 532.4,363.0 530.6,362.3 529.2,361.4 527.9,360.2 527.0,359.1 526.1,357.5 525.2,355.2 524.9,353.6 524.7,351.3 524.9,349.0 525.2,347.3 526.0,345.1 527.0,343.6 527.9,342.6 529.7,341.2 531.3,340.4 533.3,339.7 535.1,339.0 536.9,338.2 538.2,337.3 539.5,335.7 540.3,334.2 541.1,332.6 542.3,331.5 544.1,330.6 545.9,330.2 548.6,330.0 551.3,329.9 554.0,329.8 556.7,329.7 559.4,329.5 561.1,329.4 563.8,329.2 566.5,329.1 569.2,328.9 571.9,328.8 574.6,328.9 577.3,329.1 580.0,329.5 581.8,329.7 584.5,330.1 586.3,330.5 588.4,331.0 590.3,331.8 591.9,332.6 593.5,333.5 595.3,334.3 597.1,335.0 599.6,335.7 601.6,336.4 603.4,337.2 604.8,338.1 606.1,339.0 607.7,340.4 608.8,341.4 610.4,342.7 611.5,343.7 613.0,345.1 614.2,346.4 615.1,347.5 616.0,349.0 616.9,351.1 617.3,352.9 617.1,355.2 616.0,356.7 614.2,357.5 612.4,357.9 609.7,358.3 607.9,358.6 605.2,359.1 603.4,359.5 601.6,360.0 599.7,360.7 598.0,361.5 596.2,362.4 594.4,363.5 592.6,364.6 591.0,365.3 589.2,366.1 587.3,366.9 585.5,367.7 583.9,368.5 582.3,369.2 580.4,370.0 578.2,370.7 576.4,371.1 574.2,371.6 571.9,372.1 570.1,372.5 567.4,373.1" fill="none" stroke="#b59a55" stroke-width="0.55"/>
<path d="M615.8,390.3 615.8,387.9 615.8,385.6 615.8,383.3 615.8,380.9 615.8,378.6 615.8,376.3 615.5,373.9 615.1,371.8 614.5,370.0 613.7,368.5 612.4,367.0 610.6,366.2 607.9,366.5 606.1,367.3 604.5,368.5 603.4,369.4 602.1,370.8 601.1,372.4 600.8,374.7 601.6,376.5 602.5,377.8 603.6,379.4 604.4,380.9 605.1,383.3 605.4,384.8 605.5,387.2 605.5,389.5" fill="none" stroke="#6b6b6b" stroke-width="0.45"/>
<path d="M540.2,390.3 540.2,387.9 540.3,385.6 540.6,384.1 541.4,381.8 542.3,380.2 543.2,378.9 544.1,377.3 544.5,375.5 543.9,373.9 542.3,372.7 540.5,371.9 538.7,371.4 536.0,370.8 534.2,370.6 531.5,370.3 528.8,370.1 527.0,370.0 524.3,369.7 521.6,369.3 519.8,369.2 518.0,369.3 516.2,370.4 515.5,372.4 516.2,374.7 517.1,376.0 518.0,377.1 519.3,378.6 520.6,380.2 521.5,381.7 522.1,383.3 522.5,385.1 522.7,387.2 522.7,389.5" fill="none" stroke="#6b6b6b" stroke-width="0.45"/>
<path d="M587.4,390.3 587.3,387.9 587.2,386.4 586.6,384.1 585.4,382.7 583.6,381.9 580.9,382.0 579.1,382.6 577.3,384.0 576.4,385.4 576.0,387.2 575.8,389.5" fill="none" stroke="#6b6b6b" stroke-width="0.45"/>
<path d="M568.3,367.7 565.6,368.0 562.9,368.0 560.4,367.7 558.5,367.3 556.7,366.8 554.1,366.1 552.2,365.5 550.4,365.0 548.6,364.5 545.9,363.8 544.1,363.2 542.3,362.5 540.5,361.7 538.7,360.8 537.1,359.9 535.9,359.1 534.2,357.7 533.3,356.6 532.4,354.8 532.0,352.9 532.1,350.5 532.5,349.0 533.7,347.4 535.1,346.3 536.9,345.5 538.7,344.9 541.1,344.3 543.2,343.8 545.0,343.3 546.8,342.7 549.5,342.0 551.3,341.6 553.1,341.1 555.1,340.4 556.9,339.6 558.5,338.7 560.2,337.5 561.9,336.5 563.6,335.7 565.6,335.2 567.4,334.9 570.1,334.8 572.8,334.7 575.5,334.8 578.2,334.9 580.0,335.0 582.7,335.7 584.5,336.5 585.7,337.3 587.2,338.5 588.4,339.6 589.9,340.9 591.7,341.9 593.5,342.6 595.3,343.0 598.0,343.4 599.8,343.7 601.6,344.3 603.4,345.3 605.2,346.6 606.1,347.5 607.5,349.0 608.8,350.5 609.6,352.1 609.7,353.2 608.8,354.4 607.0,355.2 604.3,355.9 602.5,356.3 600.3,356.8 598.0,357.4 596.2,357.9 594.4,358.5 592.5,359.1 589.9,359.8 588.1,360.0 585.4,360.4 583.6,360.9 581.8,361.6 580.0,362.7 578.5,363.8 577.3,364.6 575.5,365.6 573.7,366.4 571.9,366.9 569.2,367.5" fill="none" stroke="#7a6a6a" stroke-width="0.45"/>
<path d="M532.1,377.0 532.7,375.5 530.6,375.2 529.2,376.3 530.6,377.1" fill="none" stroke="#555" stroke-width="0.4"/>
<path d="M483.3,374.6 L484.9,373.4 L486.6,371.1 L488.3,368.3 L490.0,367.7 L491.7,368.6 L492.5,366.0 L494.2,364.8 L496.7,365.4 L497.6,366.0 L497.6,367.7 L497.1,368.9 L498.4,370.0 L500.5,371.7 L501.3,371.7 L502.2,368.9 L502.2,366.0 L503.0,363.9 L503.9,367.7 L505.4,368.9 L505.5,371.1 L506.2,373.4 L508.3,374.9 L508.9,377.4 L510.0,378.0 L511.9,380.3 L512.0,383.7 L512.3,387.1" fill="none" stroke="#d6a32c" stroke-width="0.75" stroke-linejoin="round"/>
<path d="M493.4,352.8 L495.9,352.8 L496.7,355.5 L499.2,353.5 L501.8,354.7 L505.1,356.8 L506.0,358.6 L507.2,360.3 L509.3,363.7 L506.8,363.1 L506.0,361.4 L504.3,360.6 L503.0,362.3 L501.8,362.0 L500.1,360.8 L499.2,361.4 L498.4,357.4 L496.7,356.8 L495.0,356.3 L494.2,355.1 L493.4,352.8" fill="none" stroke="#d6a32c" stroke-width="0.75" stroke-linejoin="round"/>
<path d="M508.1,358.0 L510.2,357.4 L511.0,356.5 L510.6,358.6 L508.5,358.8 L508.1,358.0" fill="none" stroke="#d6a32c" stroke-width="0.75" stroke-linejoin="round"/>
<path d="M513.5,358.6 L514.8,359.7 L515.6,360.8 L516.9,361.4 L518.2,362.6 L519.4,363.9 L517.7,363.1 L515.2,361.4 L513.5,358.6" fill="none" stroke="#d6a32c" stroke-width="0.75" stroke-linejoin="round"/>
<path d="M483.7,358.0 L484.5,355.1 L484.1,351.7 L484.7,350.6 L487.9,350.0 L484.9,351.1 L485.8,352.8 L486.9,352.6 L485.4,354.0 L486.2,356.8 L484.9,356.8 L484.5,358.0" fill="none" stroke="#d6a32c" stroke-width="0.75" stroke-linejoin="round"/>
<path d="M490.4,349.4 L490.8,350.6 L491.2,352.3 L490.7,351.1 L490.4,349.4" fill="none" stroke="#d6a32c" stroke-width="0.75" stroke-linejoin="round"/>
<path d="M490.8,355.1 L492.9,355.4 L492.5,356.0 L490.8,355.8 L490.8,355.1" fill="none" stroke="#d6a32c" stroke-width="0.75" stroke-linejoin="round"/>
<path d="M484.1,361.4 L486.6,361.1 L486.6,361.8 L484.1,361.9" fill="none" stroke="#d6a32c" stroke-width="0.75" stroke-linejoin="round"/>
<path d="M487.3,363.1 L490.0,361.2 L488.3,361.8 L487.3,363.1" fill="none" stroke="#d6a32c" stroke-width="0.75" stroke-linejoin="round"/>
<path d="M484.1,330.5 L486.2,330.5 L485.8,333.4 L485.4,335.1 L487.5,336.8 L486.6,336.3 L484.9,335.9 L484.5,334.8 L484.1,333.4 L484.1,330.5" fill="none" stroke="#d6a32c" stroke-width="0.75" stroke-linejoin="round"/>
<path d="M485.8,343.7 L487.0,342.6 L488.7,340.8 L489.6,343.7 L488.7,344.8 L487.5,344.3 L485.8,343.7" fill="none" stroke="#d6a32c" stroke-width="0.75" stroke-linejoin="round"/>
<path d="M486.2,339.7 L487.5,338.6 L488.7,339.1 L487.5,340.3 L486.2,339.7" fill="none" stroke="#d6a32c" stroke-width="0.75" stroke-linejoin="round"/>
<path d="M484.1,326.5 L484.9,323.1 L485.8,323.1 L484.8,326.5" fill="none" stroke="#d6a32c" stroke-width="0.75" stroke-linejoin="round"/>
<path d="M521.1,374.6 L523.6,377.4 L523.2,377.5 L520.9,374.8" fill="none" stroke="#d6a32c" stroke-width="0.75" stroke-linejoin="round"/>
<path d="M523.6,368.9 L524.5,370.6 L524.7,372.1" fill="none" stroke="#d6a32c" stroke-width="0.75" stroke-linejoin="round"/>
<path d="M532.5,371.7 L533.3,372.5 L533.4,371.1" fill="none" stroke="#d6a32c" stroke-width="0.75" stroke-linejoin="round"/>
<path d="M551.2,326.5 L552.2,327.3 L553.9,327.9 L554.8,329.4 L555.6,329.2" fill="none" stroke="#d6a32c" stroke-width="0.75" stroke-linejoin="round"/>
<path d="M588.4,317.4 L589.7,319.7 L591.3,323.1 L593.4,325.5 L593.9,324.3 L591.8,320.8 L590.9,318.5 L590.5,317.4" fill="none" stroke="#d6a32c" stroke-width="0.75" stroke-linejoin="round"/>
<path d="M591.3,317.4 L593.4,320.8 L595.1,323.1 L596.8,326.5 L597.5,328.3 L597.6,329.4 L599.3,330.5 L601.9,331.7 L605.2,333.4 L606.9,334.0 L608.6,335.7 L611.9,337.4 L613.6,340.3 L615.3,341.4 L617.0,342.6 L619.1,343.1 L620.4,342.0 L620.8,343.7 L620.4,347.1 L619.5,349.4 L618.7,351.7 L617.8,354.6 L618.5,356.3 L617.8,358.6 L619.5,362.0 L621.2,365.4 L622.0,367.7 L623.7,370.0 L626.2,372.3 L626.9,374.6 L626.9,380.3 L625.8,386.6" fill="none" stroke="#d6a32c" stroke-width="0.75" stroke-linejoin="round"/>
<path d="M604.4,316.8 L604.4,318.0 L604.0,320.8 L603.5,323.1 L603.8,326.5 L604.4,328.8 L606.1,330.5 L608.6,330.5 L609.8,329.4 L610.3,327.7 L612.8,327.1 L612.8,330.5 L611.5,333.4 L613.6,333.6 L615.3,333.4 L616.0,334.5 L615.7,338.0 L615.5,339.1 L617.0,340.8 L619.1,341.0 L620.4,341.8 L621.6,339.7 L622.9,339.1 L624.6,338.0 L625.8,339.1 L627.1,339.7 L631.3,339.7 L633.8,339.7 L636.3,339.7" fill="none" stroke="#d6a32c" stroke-width="0.75" stroke-linejoin="round"/>
<path d="M616.2,316.8 L616.6,319.7 L617.4,320.8 L617.7,322.8 L618.5,322.5 L618.7,320.8 L617.8,316.8" fill="none" stroke="#d6a32c" stroke-width="0.75" stroke-linejoin="round"/>
<path d="M614.5,326.5 L616.2,325.4 L618.7,325.4 L621.2,327.1 L623.6,328.6 L621.6,328.9 L619.5,327.7 L617.0,326.5 L614.5,326.5" fill="none" stroke="#d6a32c" stroke-width="0.75" stroke-linejoin="round"/>
<path d="M625.0,329.1 L628.4,330.0 L627.9,330.8 L625.4,331.1 L624.1,330.5 L625.0,329.1" fill="none" stroke="#d6a32c" stroke-width="0.75" stroke-linejoin="round"/>
<path d="M620.4,330.5 L621.7,330.9 L620.8,331.3 L620.4,330.5" fill="none" stroke="#d6a32c" stroke-width="0.75" stroke-linejoin="round"/>
<path d="M629.4,330.5 L630.9,330.7 L630.7,331.1 L629.4,331.0" fill="none" stroke="#d6a32c" stroke-width="0.75" stroke-linejoin="round"/>
</g>
<rect x="484.1" y="317.4" width="151.4" height="68.6" fill="none" stroke="#666" stroke-width="0.9"/>
<text x="498.4" y="315.7" font-family="Liberation Mono" font-weight="bold" font-size="6.1" fill="#505050" textLength="98.5" lengthAdjust="spacingAndGlyphs">SST Anomaly ERSSTv5 Date= 200912</text>
<g font-family="Liberation Sans" font-weight="bold" fill="#1e1e1e" stroke="#1e1e1e" stroke-width="0.45">
<text x="482.9" y="318.6" font-size="3.6" text-anchor="end" textLength="5.2" lengthAdjust="spacingAndGlyphs">30N</text>
<text x="482.9" y="324.4" font-size="3.6" text-anchor="end" textLength="5.2" lengthAdjust="spacingAndGlyphs">25N</text>
<text x="482.9" y="330.1" font-size="3.6" text-anchor="end" textLength="5.2" lengthAdjust="spacingAndGlyphs">20N</text>
<text x="482.9" y="335.8" font-size="3.6" text-anchor="end" textLength="5.2" lengthAdjust="spacingAndGlyphs">15N</text>
<text x="482.9" y="341.5" font-size="3.6" text-anchor="end" textLength="5.2" lengthAdjust="spacingAndGlyphs">10N</text>
<text x="482.9" y="347.2" font-size="3.6" text-anchor="end" textLength="3.6" lengthAdjust="spacingAndGlyphs">5N</text>
<text x="482.9" y="352.9" font-size="3.6" text-anchor="end" textLength="3.6" lengthAdjust="spacingAndGlyphs">EQ</text>
<text x="482.9" y="358.7" font-size="3.6" text-anchor="end" textLength="3.6" lengthAdjust="spacingAndGlyphs">5S</text>
<text x="482.9" y="364.4" font-size="3.6" text-anchor="end" textLength="5.2" lengthAdjust="spacingAndGlyphs">10S</text>
<text x="482.9" y="370.1" font-size="3.6" text-anchor="end" textLength="5.2" lengthAdjust="spacingAndGlyphs">15S</text>
<text x="482.9" y="375.8" font-size="3.6" text-anchor="end" textLength="5.2" lengthAdjust="spacingAndGlyphs">20S</text>
<text x="482.9" y="381.5" font-size="3.6" text-anchor="end" textLength="5.2" lengthAdjust="spacingAndGlyphs">25S</text>
<text x="482.9" y="387.2" font-size="3.6" text-anchor="end" textLength="5.2" lengthAdjust="spacingAndGlyphs">30S</text>
<text x="484.1" y="390.7" font-size="3.7" text-anchor="middle" textLength="5.6" lengthAdjust="spacingAndGlyphs">120E</text>
<text x="500.9" y="390.7" font-size="3.7" text-anchor="middle" textLength="5.6" lengthAdjust="spacingAndGlyphs">140E</text>
<text x="517.7" y="390.7" font-size="3.7" text-anchor="middle" textLength="5.6" lengthAdjust="spacingAndGlyphs">160E</text>
<text x="534.6" y="390.7" font-size="3.7" text-anchor="middle" textLength="4.6" lengthAdjust="spacingAndGlyphs">180</text>
<text x="551.4" y="390.7" font-size="3.7" text-anchor="middle" textLength="5.6" lengthAdjust="spacingAndGlyphs">160W</text>
<text x="568.2" y="390.7" font-size="3.7" text-anchor="middle" textLength="5.6" lengthAdjust="spacingAndGlyphs">140W</text>
<text x="585.0" y="390.7" font-size="3.7" text-anchor="middle" textLength="5.6" lengthAdjust="spacingAndGlyphs">120W</text>
<text x="601.9" y="390.7" font-size="3.7" text-anchor="middle" textLength="5.6" lengthAdjust="spacingAndGlyphs">100W</text>
<text x="618.7" y="390.7" font-size="3.7" text-anchor="middle" textLength="4.6" lengthAdjust="spacingAndGlyphs">80W</text>
<text x="635.5" y="390.7" font-size="3.7" text-anchor="middle" textLength="4.6" lengthAdjust="spacingAndGlyphs">60W</text>
</g>
<text x="487.6" y="332.5" font-family="Liberation Sans" font-weight="bold" font-size="12.6" fill="#000" stroke="#000" stroke-width="0.25" textLength="87" lengthAdjust="spacingAndGlyphs">Niño 2 200912</text>
<rect x="283.3" y="329.4" width="172.7" height="92.1" fill="#fff"/>
<clipPath id="cp6"><rect x="291.8" y="343.2" width="153.7" height="70.3"/></clipPath>
<g clip-path="url(#cp6)">
<rect x="291.8" y="343.2" width="153.7" height="70.3" fill="#fdf6f6"/>
<g filter="url(#blg)">
<linearGradient id="g6_0" gradientUnits="userSpaceOnUse" x1="291.8" x2="445.5" y1="0" y2="0"><stop offset="0.031" stop-color="#e3eff9"/><stop offset="0.094" stop-color="#b6d7ef"/><stop offset="0.156" stop-color="#1d7dc4"/><stop offset="0.219" stop-color="#1d7dc4"/><stop offset="0.281" stop-color="#1d7dc4"/><stop offset="0.344" stop-color="#449bd5"/><stop offset="0.406" stop-color="#7db9e2"/><stop offset="0.469" stop-color="#b6d7ef"/><stop offset="0.531" stop-color="#fde7e7"/><stop offset="0.594" stop-color="#e3eff9"/><stop offset="0.656" stop-color="#fde7e7"/><stop offset="0.719" stop-color="#f98585"/><stop offset="0.781" stop-color="#fde7e7"/><stop offset="0.844" stop-color="#7db9e2"/><stop offset="0.906" stop-color="#ffffff"/><stop offset="0.969" stop-color="#fde7e7"/></linearGradient>
<rect x="287.80" y="339.20" width="161.70" height="6.76" fill="url(#g6_0)"/>
<linearGradient id="g6_1" gradientUnits="userSpaceOnUse" x1="291.8" x2="445.5" y1="0" y2="0"><stop offset="0.031" stop-color="#e3eff9"/><stop offset="0.094" stop-color="#b6d7ef"/><stop offset="0.156" stop-color="#1d7dc4"/><stop offset="0.219" stop-color="#1d7dc4"/><stop offset="0.281" stop-color="#1d7dc4"/><stop offset="0.344" stop-color="#449bd5"/><stop offset="0.406" stop-color="#7db9e2"/><stop offset="0.469" stop-color="#b6d7ef"/><stop offset="0.531" stop-color="#fde7e7"/><stop offset="0.594" stop-color="#e3eff9"/><stop offset="0.656" stop-color="#fde7e7"/><stop offset="0.719" stop-color="#f98585"/><stop offset="0.781" stop-color="#fde7e7"/><stop offset="0.844" stop-color="#7db9e2"/><stop offset="0.906" stop-color="#ffffff"/><stop offset="0.969" stop-color="#fde7e7"/></linearGradient>
<rect x="287.80" y="345.71" width="161.70" height="2.76" fill="url(#g6_1)"/>
<linearGradient id="g6_2" gradientUnits="userSpaceOnUse" x1="291.8" x2="445.5" y1="0" y2="0"><stop offset="0.031" stop-color="#e9edf5"/><stop offset="0.094" stop-color="#c5daed"/><stop offset="0.156" stop-color="#3e90cd"/><stop offset="0.219" stop-color="#3e90cd"/><stop offset="0.281" stop-color="#3e90cd"/><stop offset="0.344" stop-color="#66addd"/><stop offset="0.406" stop-color="#98c3e3"/><stop offset="0.469" stop-color="#c5daed"/><stop offset="0.531" stop-color="#fde7e7"/><stop offset="0.594" stop-color="#e9edf5"/><stop offset="0.656" stop-color="#fddfdf"/><stop offset="0.719" stop-color="#f98585"/><stop offset="0.781" stop-color="#f7e9eb"/><stop offset="0.844" stop-color="#99c8e8"/><stop offset="0.906" stop-color="#ffffff"/><stop offset="0.969" stop-color="#f7e9eb"/></linearGradient>
<rect x="287.80" y="348.22" width="161.70" height="2.76" fill="url(#g6_2)"/>
<linearGradient id="g6_3" gradientUnits="userSpaceOnUse" x1="291.8" x2="445.5" y1="0" y2="0"><stop offset="0.031" stop-color="#f0ebf0"/><stop offset="0.094" stop-color="#dadfeb"/><stop offset="0.156" stop-color="#6aaada"/><stop offset="0.219" stop-color="#6aaada"/><stop offset="0.281" stop-color="#6aaada"/><stop offset="0.344" stop-color="#94c5e7"/><stop offset="0.406" stop-color="#bdd0e4"/><stop offset="0.469" stop-color="#dadfeb"/><stop offset="0.531" stop-color="#fde7e7"/><stop offset="0.594" stop-color="#f0ebf0"/><stop offset="0.656" stop-color="#fcd5d5"/><stop offset="0.719" stop-color="#f98585"/><stop offset="0.781" stop-color="#f0ebf0"/><stop offset="0.844" stop-color="#bedcf0"/><stop offset="0.906" stop-color="#ffffff"/><stop offset="0.969" stop-color="#f0ebf0"/></linearGradient>
<rect x="287.80" y="350.73" width="161.70" height="2.76" fill="url(#g6_3)"/>
<linearGradient id="g6_4" gradientUnits="userSpaceOnUse" x1="291.8" x2="445.5" y1="0" y2="0"><stop offset="0.031" stop-color="#f7e9eb"/><stop offset="0.094" stop-color="#eee4e9"/><stop offset="0.156" stop-color="#95c4e6"/><stop offset="0.219" stop-color="#95c4e6"/><stop offset="0.281" stop-color="#95c4e6"/><stop offset="0.344" stop-color="#c1ddf1"/><stop offset="0.406" stop-color="#e2dde6"/><stop offset="0.469" stop-color="#eee4e9"/><stop offset="0.531" stop-color="#fde7e7"/><stop offset="0.594" stop-color="#f7e9eb"/><stop offset="0.656" stop-color="#fbcbcb"/><stop offset="0.719" stop-color="#f98585"/><stop offset="0.781" stop-color="#e9edf5"/><stop offset="0.844" stop-color="#e3f0f9"/><stop offset="0.906" stop-color="#ffffff"/><stop offset="0.969" stop-color="#e9edf5"/></linearGradient>
<rect x="287.80" y="353.24" width="161.70" height="2.76" fill="url(#g6_4)"/>
<linearGradient id="g6_5" gradientUnits="userSpaceOnUse" x1="291.8" x2="445.5" y1="0" y2="0"><stop offset="0.031" stop-color="#fde4e4"/><stop offset="0.094" stop-color="#fde4e4"/><stop offset="0.156" stop-color="#bbd8ee"/><stop offset="0.219" stop-color="#bbd8ee"/><stop offset="0.281" stop-color="#bbd8ee"/><stop offset="0.344" stop-color="#e5eef8"/><stop offset="0.406" stop-color="#fde7e7"/><stop offset="0.469" stop-color="#fde7e7"/><stop offset="0.531" stop-color="#fde7e7"/><stop offset="0.594" stop-color="#fde7e7"/><stop offset="0.656" stop-color="#fbc3c3"/><stop offset="0.719" stop-color="#f98989"/><stop offset="0.781" stop-color="#e5ecf5"/><stop offset="0.844" stop-color="#ffffff"/><stop offset="0.906" stop-color="#ffffff"/><stop offset="0.969" stop-color="#e5f0f9"/></linearGradient>
<rect x="287.80" y="355.75" width="161.70" height="2.76" fill="url(#g6_5)"/>
<linearGradient id="g6_6" gradientUnits="userSpaceOnUse" x1="291.8" x2="445.5" y1="0" y2="0"><stop offset="0.031" stop-color="#fcdada"/><stop offset="0.094" stop-color="#fcdada"/><stop offset="0.156" stop-color="#cfddec"/><stop offset="0.219" stop-color="#cfddec"/><stop offset="0.281" stop-color="#cfddec"/><stop offset="0.344" stop-color="#ececf3"/><stop offset="0.406" stop-color="#fde7e7"/><stop offset="0.469" stop-color="#fde7e7"/><stop offset="0.531" stop-color="#fde7e7"/><stop offset="0.594" stop-color="#fde7e7"/><stop offset="0.656" stop-color="#fbc3c3"/><stop offset="0.719" stop-color="#fa9b9b"/><stop offset="0.781" stop-color="#ecdfe6"/><stop offset="0.844" stop-color="#ffffff"/><stop offset="0.906" stop-color="#ffffff"/><stop offset="0.969" stop-color="#edf5fb"/></linearGradient>
<rect x="287.80" y="358.26" width="161.70" height="2.76" fill="url(#g6_6)"/>
<linearGradient id="g6_7" gradientUnits="userSpaceOnUse" x1="291.8" x2="445.5" y1="0" y2="0"><stop offset="0.031" stop-color="#fcd0d0"/><stop offset="0.094" stop-color="#fcd0d0"/><stop offset="0.156" stop-color="#e4e1ea"/><stop offset="0.219" stop-color="#e4e1ea"/><stop offset="0.281" stop-color="#e4e1ea"/><stop offset="0.344" stop-color="#f4eaed"/><stop offset="0.406" stop-color="#fde7e7"/><stop offset="0.469" stop-color="#fde7e7"/><stop offset="0.531" stop-color="#fde7e7"/><stop offset="0.594" stop-color="#fde7e7"/><stop offset="0.656" stop-color="#fbc3c3"/><stop offset="0.719" stop-color="#faadad"/><stop offset="0.781" stop-color="#f2d3d6"/><stop offset="0.844" stop-color="#ffffff"/><stop offset="0.906" stop-color="#ffffff"/><stop offset="0.969" stop-color="#f5f9fd"/></linearGradient>
<rect x="287.80" y="360.77" width="161.70" height="2.76" fill="url(#g6_7)"/>
<linearGradient id="g6_8" gradientUnits="userSpaceOnUse" x1="291.8" x2="445.5" y1="0" y2="0"><stop offset="0.031" stop-color="#fbc6c6"/><stop offset="0.094" stop-color="#fbc6c6"/><stop offset="0.156" stop-color="#f8e6e8"/><stop offset="0.219" stop-color="#f8e6e8"/><stop offset="0.281" stop-color="#f8e6e8"/><stop offset="0.344" stop-color="#fbe8e8"/><stop offset="0.406" stop-color="#fde7e7"/><stop offset="0.469" stop-color="#fde7e7"/><stop offset="0.531" stop-color="#fde7e7"/><stop offset="0.594" stop-color="#fde7e7"/><stop offset="0.656" stop-color="#fbc3c3"/><stop offset="0.719" stop-color="#fbbfbf"/><stop offset="0.781" stop-color="#f9c6c7"/><stop offset="0.844" stop-color="#ffffff"/><stop offset="0.906" stop-color="#ffffff"/><stop offset="0.969" stop-color="#fdfeff"/></linearGradient>
<rect x="287.80" y="363.29" width="161.70" height="2.76" fill="url(#g6_8)"/>
<linearGradient id="g6_9" gradientUnits="userSpaceOnUse" x1="291.8" x2="445.5" y1="0" y2="0"><stop offset="0.031" stop-color="#fbcbcb"/><stop offset="0.094" stop-color="#fbcbcb"/><stop offset="0.156" stop-color="#fddfdf"/><stop offset="0.219" stop-color="#fddfdf"/><stop offset="0.281" stop-color="#fddfdf"/><stop offset="0.344" stop-color="#fddfdf"/><stop offset="0.406" stop-color="#fde7e7"/><stop offset="0.469" stop-color="#fde7e7"/><stop offset="0.531" stop-color="#fde7e7"/><stop offset="0.594" stop-color="#fddfdf"/><stop offset="0.656" stop-color="#fbc3c3"/><stop offset="0.719" stop-color="#fbb6b6"/><stop offset="0.781" stop-color="#fbb6b6"/><stop offset="0.844" stop-color="#fee5e5"/><stop offset="0.906" stop-color="#ffffff"/><stop offset="0.969" stop-color="#ffffff"/></linearGradient>
<rect x="287.80" y="365.80" width="161.70" height="2.76" fill="url(#g6_9)"/>
<linearGradient id="g6_10" gradientUnits="userSpaceOnUse" x1="291.8" x2="445.5" y1="0" y2="0"><stop offset="0.031" stop-color="#fcd5d5"/><stop offset="0.094" stop-color="#fcd5d5"/><stop offset="0.156" stop-color="#fcd5d5"/><stop offset="0.219" stop-color="#fcd5d5"/><stop offset="0.281" stop-color="#fcd5d5"/><stop offset="0.344" stop-color="#fcd5d5"/><stop offset="0.406" stop-color="#fde7e7"/><stop offset="0.469" stop-color="#fde7e7"/><stop offset="0.531" stop-color="#fde7e7"/><stop offset="0.594" stop-color="#fcd5d5"/><stop offset="0.656" stop-color="#fbc3c3"/><stop offset="0.719" stop-color="#faa4a4"/><stop offset="0.781" stop-color="#faa4a4"/><stop offset="0.844" stop-color="#fcc2c2"/><stop offset="0.906" stop-color="#ffffff"/><stop offset="0.969" stop-color="#ffffff"/></linearGradient>
<rect x="287.80" y="368.31" width="161.70" height="2.76" fill="url(#g6_10)"/>
<linearGradient id="g6_11" gradientUnits="userSpaceOnUse" x1="291.8" x2="445.5" y1="0" y2="0"><stop offset="0.031" stop-color="#fddfdf"/><stop offset="0.094" stop-color="#fddfdf"/><stop offset="0.156" stop-color="#fbcbcb"/><stop offset="0.219" stop-color="#fbcbcb"/><stop offset="0.281" stop-color="#fbcbcb"/><stop offset="0.344" stop-color="#fbcbcb"/><stop offset="0.406" stop-color="#fde7e7"/><stop offset="0.469" stop-color="#fde7e7"/><stop offset="0.531" stop-color="#fde7e7"/><stop offset="0.594" stop-color="#fbcbcb"/><stop offset="0.656" stop-color="#fbc3c3"/><stop offset="0.719" stop-color="#f99292"/><stop offset="0.781" stop-color="#f99292"/><stop offset="0.844" stop-color="#fa9f9f"/><stop offset="0.906" stop-color="#ffffff"/><stop offset="0.969" stop-color="#ffffff"/></linearGradient>
<rect x="287.80" y="370.82" width="161.70" height="2.76" fill="url(#g6_11)"/>
<linearGradient id="g6_12" gradientUnits="userSpaceOnUse" x1="291.8" x2="445.5" y1="0" y2="0"><stop offset="0.031" stop-color="#fde7e7"/><stop offset="0.094" stop-color="#fde7e7"/><stop offset="0.156" stop-color="#fbc3c3"/><stop offset="0.219" stop-color="#fbc3c3"/><stop offset="0.281" stop-color="#fbc1c1"/><stop offset="0.344" stop-color="#fbc3c3"/><stop offset="0.406" stop-color="#fde7e7"/><stop offset="0.469" stop-color="#fde7e7"/><stop offset="0.531" stop-color="#fde7e7"/><stop offset="0.594" stop-color="#fbc3c3"/><stop offset="0.656" stop-color="#fbbfbf"/><stop offset="0.719" stop-color="#f98585"/><stop offset="0.781" stop-color="#f88383"/><stop offset="0.844" stop-color="#f88383"/><stop offset="0.906" stop-color="#ffffff"/><stop offset="0.969" stop-color="#ffffff"/></linearGradient>
<rect x="287.80" y="373.33" width="161.70" height="2.76" fill="url(#g6_12)"/>
<linearGradient id="g6_13" gradientUnits="userSpaceOnUse" x1="291.8" x2="445.5" y1="0" y2="0"><stop offset="0.031" stop-color="#fde7e7"/><stop offset="0.094" stop-color="#fde7e7"/><stop offset="0.156" stop-color="#fbc3c3"/><stop offset="0.219" stop-color="#fbc3c3"/><stop offset="0.281" stop-color="#fab8b8"/><stop offset="0.344" stop-color="#fbc3c3"/><stop offset="0.406" stop-color="#fde7e7"/><stop offset="0.469" stop-color="#fde7e7"/><stop offset="0.531" stop-color="#fde7e7"/><stop offset="0.594" stop-color="#fbc3c3"/><stop offset="0.656" stop-color="#faadad"/><stop offset="0.719" stop-color="#f98585"/><stop offset="0.781" stop-color="#f67c7c"/><stop offset="0.844" stop-color="#f67c7c"/><stop offset="0.906" stop-color="#ffffff"/><stop offset="0.969" stop-color="#ffffff"/></linearGradient>
<rect x="287.80" y="375.84" width="161.70" height="2.76" fill="url(#g6_13)"/>
<linearGradient id="g6_14" gradientUnits="userSpaceOnUse" x1="291.8" x2="445.5" y1="0" y2="0"><stop offset="0.031" stop-color="#fde7e7"/><stop offset="0.094" stop-color="#fde7e7"/><stop offset="0.156" stop-color="#fbc3c3"/><stop offset="0.219" stop-color="#fbc3c3"/><stop offset="0.281" stop-color="#fab0b0"/><stop offset="0.344" stop-color="#fbc3c3"/><stop offset="0.406" stop-color="#fde7e7"/><stop offset="0.469" stop-color="#fde7e7"/><stop offset="0.531" stop-color="#fde7e7"/><stop offset="0.594" stop-color="#fbc3c3"/><stop offset="0.656" stop-color="#fa9b9b"/><stop offset="0.719" stop-color="#f98585"/><stop offset="0.781" stop-color="#f47575"/><stop offset="0.844" stop-color="#f47575"/><stop offset="0.906" stop-color="#ffffff"/><stop offset="0.969" stop-color="#ffffff"/></linearGradient>
<rect x="287.80" y="378.35" width="161.70" height="2.76" fill="url(#g6_14)"/>
<linearGradient id="g6_15" gradientUnits="userSpaceOnUse" x1="291.8" x2="445.5" y1="0" y2="0"><stop offset="0.031" stop-color="#fde7e7"/><stop offset="0.094" stop-color="#fde7e7"/><stop offset="0.156" stop-color="#fbc3c3"/><stop offset="0.219" stop-color="#fbc3c3"/><stop offset="0.281" stop-color="#f9a7a7"/><stop offset="0.344" stop-color="#fbc3c3"/><stop offset="0.406" stop-color="#fde7e7"/><stop offset="0.469" stop-color="#fde7e7"/><stop offset="0.531" stop-color="#fde7e7"/><stop offset="0.594" stop-color="#fbc3c3"/><stop offset="0.656" stop-color="#f98989"/><stop offset="0.719" stop-color="#f98585"/><stop offset="0.781" stop-color="#f26e6e"/><stop offset="0.844" stop-color="#f26e6e"/><stop offset="0.906" stop-color="#ffffff"/><stop offset="0.969" stop-color="#ffffff"/></linearGradient>
<rect x="287.80" y="380.86" width="161.70" height="2.76" fill="url(#g6_15)"/>
<linearGradient id="g6_16" gradientUnits="userSpaceOnUse" x1="291.8" x2="445.5" y1="0" y2="0"><stop offset="0.031" stop-color="#fdecec"/><stop offset="0.094" stop-color="#fde7e7"/><stop offset="0.156" stop-color="#fbcbcb"/><stop offset="0.219" stop-color="#fbcbcb"/><stop offset="0.281" stop-color="#fab3b3"/><stop offset="0.344" stop-color="#fbcbcb"/><stop offset="0.406" stop-color="#eee4e9"/><stop offset="0.469" stop-color="#eee4e9"/><stop offset="0.531" stop-color="#eee4e9"/><stop offset="0.594" stop-color="#ecc7cc"/><stop offset="0.656" stop-color="#de9099"/><stop offset="0.719" stop-color="#d28a96"/><stop offset="0.781" stop-color="#f47f7f"/><stop offset="0.844" stop-color="#f47171"/><stop offset="0.906" stop-color="#ffffff"/><stop offset="0.969" stop-color="#ffffff"/></linearGradient>
<rect x="287.80" y="383.37" width="161.70" height="2.76" fill="url(#g6_16)"/>
<linearGradient id="g6_17" gradientUnits="userSpaceOnUse" x1="291.8" x2="445.5" y1="0" y2="0"><stop offset="0.031" stop-color="#fef3f3"/><stop offset="0.094" stop-color="#fde7e7"/><stop offset="0.156" stop-color="#fcd5d5"/><stop offset="0.219" stop-color="#fcd5d5"/><stop offset="0.281" stop-color="#fbc6c6"/><stop offset="0.344" stop-color="#fcd5d5"/><stop offset="0.406" stop-color="#dadfeb"/><stop offset="0.469" stop-color="#dadfeb"/><stop offset="0.531" stop-color="#dadfeb"/><stop offset="0.594" stop-color="#d8cdd9"/><stop offset="0.656" stop-color="#bb9fb4"/><stop offset="0.719" stop-color="#9e90ad"/><stop offset="0.781" stop-color="#f69898"/><stop offset="0.844" stop-color="#f67878"/><stop offset="0.906" stop-color="#ffffff"/><stop offset="0.969" stop-color="#ffffff"/></linearGradient>
<rect x="287.80" y="385.88" width="161.70" height="2.76" fill="url(#g6_17)"/>
<linearGradient id="g6_18" gradientUnits="userSpaceOnUse" x1="291.8" x2="445.5" y1="0" y2="0"><stop offset="0.031" stop-color="#fffafa"/><stop offset="0.094" stop-color="#fde7e7"/><stop offset="0.156" stop-color="#fddfdf"/><stop offset="0.219" stop-color="#fddfdf"/><stop offset="0.281" stop-color="#fcd9d9"/><stop offset="0.344" stop-color="#fddfdf"/><stop offset="0.406" stop-color="#c5daed"/><stop offset="0.469" stop-color="#c5daed"/><stop offset="0.531" stop-color="#c5daed"/><stop offset="0.594" stop-color="#c5d3e6"/><stop offset="0.656" stop-color="#98aece"/><stop offset="0.719" stop-color="#6b96c4"/><stop offset="0.781" stop-color="#f9b0b0"/><stop offset="0.844" stop-color="#f88080"/><stop offset="0.906" stop-color="#ffffff"/><stop offset="0.969" stop-color="#ffffff"/></linearGradient>
<rect x="287.80" y="388.39" width="161.70" height="2.76" fill="url(#g6_18)"/>
<linearGradient id="g6_19" gradientUnits="userSpaceOnUse" x1="291.8" x2="445.5" y1="0" y2="0"><stop offset="0.031" stop-color="#ffffff"/><stop offset="0.094" stop-color="#fde9e9"/><stop offset="0.156" stop-color="#fde7e7"/><stop offset="0.219" stop-color="#fde7e7"/><stop offset="0.281" stop-color="#fde7e7"/><stop offset="0.344" stop-color="#fde7e7"/><stop offset="0.406" stop-color="#b9d9f0"/><stop offset="0.469" stop-color="#b6d7ef"/><stop offset="0.531" stop-color="#b2d5ee"/><stop offset="0.594" stop-color="#b6d7ef"/><stop offset="0.656" stop-color="#79b7e1"/><stop offset="0.719" stop-color="#449bd5"/><stop offset="0.781" stop-color="#f2c2c5"/><stop offset="0.844" stop-color="#f48b8d"/><stop offset="0.906" stop-color="#ffffff"/><stop offset="0.969" stop-color="#ffffff"/></linearGradient>
<rect x="287.80" y="390.90" width="161.70" height="2.76" fill="url(#g6_19)"/>
<linearGradient id="g6_20" gradientUnits="userSpaceOnUse" x1="291.8" x2="445.5" y1="0" y2="0"><stop offset="0.031" stop-color="#ffffff"/><stop offset="0.094" stop-color="#fef0f0"/><stop offset="0.156" stop-color="#fde7e7"/><stop offset="0.219" stop-color="#fde7e7"/><stop offset="0.281" stop-color="#fde7e7"/><stop offset="0.344" stop-color="#fde7e7"/><stop offset="0.406" stop-color="#c6e0f3"/><stop offset="0.469" stop-color="#b6d7ef"/><stop offset="0.531" stop-color="#a2ccea"/><stop offset="0.594" stop-color="#b6d7ef"/><stop offset="0.656" stop-color="#69aedd"/><stop offset="0.719" stop-color="#449bd5"/><stop offset="0.781" stop-color="#cebfce"/><stop offset="0.844" stop-color="#e1a2ab"/><stop offset="0.906" stop-color="#ffffff"/><stop offset="0.969" stop-color="#ffffff"/></linearGradient>
<rect x="287.80" y="393.41" width="161.70" height="2.76" fill="url(#g6_20)"/>
<linearGradient id="g6_21" gradientUnits="userSpaceOnUse" x1="291.8" x2="445.5" y1="0" y2="0"><stop offset="0.031" stop-color="#ffffff"/><stop offset="0.094" stop-color="#fef6f6"/><stop offset="0.156" stop-color="#fde7e7"/><stop offset="0.219" stop-color="#fde7e7"/><stop offset="0.281" stop-color="#fde7e7"/><stop offset="0.344" stop-color="#fde7e7"/><stop offset="0.406" stop-color="#d3e6f5"/><stop offset="0.469" stop-color="#b6d7ef"/><stop offset="0.531" stop-color="#91c4e7"/><stop offset="0.594" stop-color="#b6d7ef"/><stop offset="0.656" stop-color="#58a6da"/><stop offset="0.719" stop-color="#449bd5"/><stop offset="0.781" stop-color="#aabdd7"/><stop offset="0.844" stop-color="#cebac9"/><stop offset="0.906" stop-color="#ffffff"/><stop offset="0.969" stop-color="#ffffff"/></linearGradient>
<rect x="287.80" y="395.93" width="161.70" height="2.76" fill="url(#g6_21)"/>
<linearGradient id="g6_22" gradientUnits="userSpaceOnUse" x1="291.8" x2="445.5" y1="0" y2="0"><stop offset="0.031" stop-color="#ffffff"/><stop offset="0.094" stop-color="#fffdfd"/><stop offset="0.156" stop-color="#fde7e7"/><stop offset="0.219" stop-color="#fde7e7"/><stop offset="0.281" stop-color="#fde7e7"/><stop offset="0.344" stop-color="#fde7e7"/><stop offset="0.406" stop-color="#e0edf8"/><stop offset="0.469" stop-color="#b6d7ef"/><stop offset="0.531" stop-color="#81bbe3"/><stop offset="0.594" stop-color="#b6d7ef"/><stop offset="0.656" stop-color="#489dd6"/><stop offset="0.719" stop-color="#449bd5"/><stop offset="0.781" stop-color="#86bae0"/><stop offset="0.844" stop-color="#bbd1e7"/><stop offset="0.906" stop-color="#ffffff"/><stop offset="0.969" stop-color="#ffffff"/></linearGradient>
<rect x="287.80" y="398.44" width="161.70" height="2.76" fill="url(#g6_22)"/>
<linearGradient id="g6_23" gradientUnits="userSpaceOnUse" x1="291.8" x2="445.5" y1="0" y2="0"><stop offset="0.031" stop-color="#ffffff"/><stop offset="0.094" stop-color="#ffffff"/><stop offset="0.156" stop-color="#fdecec"/><stop offset="0.219" stop-color="#fde7e7"/><stop offset="0.281" stop-color="#fde7e7"/><stop offset="0.344" stop-color="#fde7e7"/><stop offset="0.406" stop-color="#e3eff9"/><stop offset="0.469" stop-color="#b6d7ef"/><stop offset="0.531" stop-color="#89bfe5"/><stop offset="0.594" stop-color="#c0dcf1"/><stop offset="0.656" stop-color="#50a1d8"/><stop offset="0.719" stop-color="#449bd5"/><stop offset="0.781" stop-color="#71b3df"/><stop offset="0.844" stop-color="#b6d7ef"/><stop offset="0.906" stop-color="#ffffff"/><stop offset="0.969" stop-color="#ffffff"/></linearGradient>
<rect x="287.80" y="400.95" width="161.70" height="2.76" fill="url(#g6_23)"/>
<linearGradient id="g6_24" gradientUnits="userSpaceOnUse" x1="291.8" x2="445.5" y1="0" y2="0"><stop offset="0.031" stop-color="#ffffff"/><stop offset="0.094" stop-color="#ffffff"/><stop offset="0.156" stop-color="#fef3f3"/><stop offset="0.219" stop-color="#fde7e7"/><stop offset="0.281" stop-color="#fde7e7"/><stop offset="0.344" stop-color="#fde7e7"/><stop offset="0.406" stop-color="#e3eff9"/><stop offset="0.469" stop-color="#b6d7ef"/><stop offset="0.531" stop-color="#9ac8e8"/><stop offset="0.594" stop-color="#cce3f4"/><stop offset="0.656" stop-color="#60aadc"/><stop offset="0.719" stop-color="#449bd5"/><stop offset="0.781" stop-color="#60aadc"/><stop offset="0.844" stop-color="#b6d7ef"/><stop offset="0.906" stop-color="#ffffff"/><stop offset="0.969" stop-color="#ffffff"/></linearGradient>
<rect x="287.80" y="403.46" width="161.70" height="2.76" fill="url(#g6_24)"/>
<linearGradient id="g6_25" gradientUnits="userSpaceOnUse" x1="291.8" x2="445.5" y1="0" y2="0"><stop offset="0.031" stop-color="#ffffff"/><stop offset="0.094" stop-color="#ffffff"/><stop offset="0.156" stop-color="#fffafa"/><stop offset="0.219" stop-color="#fde7e7"/><stop offset="0.281" stop-color="#fde7e7"/><stop offset="0.344" stop-color="#fde7e7"/><stop offset="0.406" stop-color="#e3eff9"/><stop offset="0.469" stop-color="#b6d7ef"/><stop offset="0.531" stop-color="#aad1ec"/><stop offset="0.594" stop-color="#d9eaf7"/><stop offset="0.656" stop-color="#71b3df"/><stop offset="0.719" stop-color="#449bd5"/><stop offset="0.781" stop-color="#50a1d8"/><stop offset="0.844" stop-color="#b6d7ef"/><stop offset="0.906" stop-color="#ffffff"/><stop offset="0.969" stop-color="#ffffff"/></linearGradient>
<rect x="287.80" y="405.97" width="161.70" height="2.76" fill="url(#g6_25)"/>
<linearGradient id="g6_26" gradientUnits="userSpaceOnUse" x1="291.8" x2="445.5" y1="0" y2="0"><stop offset="0.031" stop-color="#ffffff"/><stop offset="0.094" stop-color="#ffffff"/><stop offset="0.156" stop-color="#ffffff"/><stop offset="0.219" stop-color="#fde7e7"/><stop offset="0.281" stop-color="#fde7e7"/><stop offset="0.344" stop-color="#fde7e7"/><stop offset="0.406" stop-color="#e3eff9"/><stop offset="0.469" stop-color="#b6d7ef"/><stop offset="0.531" stop-color="#b6d7ef"/><stop offset="0.594" stop-color="#e3eff9"/><stop offset="0.656" stop-color="#7db9e2"/><stop offset="0.719" stop-color="#449bd5"/><stop offset="0.781" stop-color="#449bd5"/><stop offset="0.844" stop-color="#b6d7ef"/><stop offset="0.906" stop-color="#ffffff"/><stop offset="0.969" stop-color="#ffffff"/></linearGradient>
<rect x="287.80" y="408.48" width="161.70" height="2.76" fill="url(#g6_26)"/>
<linearGradient id="g6_27" gradientUnits="userSpaceOnUse" x1="291.8" x2="445.5" y1="0" y2="0"><stop offset="0.031" stop-color="#ffffff"/><stop offset="0.094" stop-color="#ffffff"/><stop offset="0.156" stop-color="#ffffff"/><stop offset="0.219" stop-color="#fde7e7"/><stop offset="0.281" stop-color="#fde7e7"/><stop offset="0.344" stop-color="#fde7e7"/><stop offset="0.406" stop-color="#e3eff9"/><stop offset="0.469" stop-color="#b6d7ef"/><stop offset="0.531" stop-color="#b6d7ef"/><stop offset="0.594" stop-color="#e3eff9"/><stop offset="0.656" stop-color="#7db9e2"/><stop offset="0.719" stop-color="#449bd5"/><stop offset="0.781" stop-color="#449bd5"/><stop offset="0.844" stop-color="#b6d7ef"/><stop offset="0.906" stop-color="#ffffff"/><stop offset="0.969" stop-color="#ffffff"/></linearGradient>
<rect x="287.80" y="410.99" width="161.70" height="6.76" fill="url(#g6_27)"/>
</g>
<path d="M300.3,338.8 300.4,341.2 300.6,343.6 301.1,345.2 302.0,346.8 303.4,348.4 304.3,349.3 306.0,350.8 307.1,351.7 308.8,353.2 309.8,354.0 311.6,355.4 313.1,356.4 314.6,357.2 316.6,358.0 318.9,358.5 321.7,358.7 324.4,358.8 327.1,358.8 329.9,358.7 332.6,358.6 335.4,358.4 337.5,358.0 339.9,357.4 341.7,356.8 343.6,356.2 345.4,355.5 347.2,354.8 349.2,354.0 351.3,353.2 353.6,352.4 355.4,351.8 357.2,351.3 359.1,350.7 361.0,350.0 362.7,349.0 364.2,347.6 365.1,346.0 365.5,344.4 365.8,342.0 365.8,339.6" fill="none" stroke="#b59a55" stroke-width="0.55"/>
<path d="M417.2,338.8 417.2,341.2 417.3,343.6 417.4,346.0 417.8,347.6 418.4,349.2 420.2,350.8 422.0,351.1 423.8,350.6 425.5,349.2 426.4,347.6 426.9,346.0 427.2,343.6 427.2,341.2 427.2,338.8" fill="none" stroke="#b59a55" stroke-width="0.55"/>
<path d="M424.9,417.9 424.9,415.5 424.9,413.1 424.9,410.7 424.9,408.3 424.8,406.5 424.4,404.3 423.7,402.7 422.1,401.1 420.7,400.3 418.8,399.5 416.7,398.7 414.7,398.0 412.9,397.1 411.5,396.3 410.2,395.3 408.6,393.9 407.4,392.7 406.2,391.5 404.7,390.4 402.9,389.5 401.0,389.0 398.3,388.8 395.6,389.0 393.7,389.2 391.0,389.6 388.3,389.9 386.4,390.1 383.7,390.4 381.0,390.6 378.2,390.4 375.5,390.2 372.8,390.0 370.9,389.9 368.4,389.9 366.4,390.0 363.6,390.1 360.9,390.3 358.4,390.7 356.6,391.5 355.4,393.1 355.4,394.5 356.1,396.3 356.9,397.9 357.6,399.5 358.2,401.5 358.5,403.5 358.6,405.9 358.7,408.3 358.7,410.7 358.7,413.1 358.7,415.5 358.7,417.9" fill="none" stroke="#b59a55" stroke-width="0.55"/>
<path d="M380.1,417.9 380.2,415.5 380.9,413.1 381.9,413.2 382.3,415.5 382.4,417.9" fill="none" stroke="#b59a55" stroke-width="0.55"/>
<path d="M410.0,338.8 410.0,341.2 410.0,343.6 409.9,346.0 409.6,348.4 409.2,350.1 408.8,352.4 408.4,354.8 408.4,357.2 408.9,359.6 409.8,361.2 411.1,362.5 412.8,363.6 414.3,364.4 415.9,365.2 417.5,366.0 419.3,366.8 421.1,367.6 422.9,368.5 424.8,369.7 425.9,370.8 427.1,372.4 427.9,374.0 428.4,375.7 428.8,378.0 429.1,380.3 429.2,382.7 429.1,385.1 428.8,387.5 428.4,389.2 427.5,391.4 426.6,392.6 424.8,393.8 422.9,394.3 420.2,394.4 417.6,393.9 415.6,393.3 413.8,392.4 412.5,391.5 411.1,390.5 409.4,389.1 408.3,388.3 406.5,387.2 404.7,386.3 402.9,385.8 400.1,385.3 397.4,385.2 394.7,385.3 391.9,385.2 390.1,385.0 387.4,384.6 385.5,384.1 383.7,383.5 381.9,382.7 380.1,381.5 378.9,380.3 378.1,378.7 377.9,376.4 378.2,374.5 379.1,372.5 380.1,371.3 381.4,370.0 382.8,368.9 384.4,367.6 385.5,366.2 386.4,364.4 386.9,362.8 387.3,360.4 387.6,358.8 388.3,357.1 389.2,355.5 390.2,354.0 391.2,352.4 392.1,350.8 392.8,349.0 393.4,346.8 393.7,344.4 393.8,342.8 393.8,340.4" fill="none" stroke="#b59a55" stroke-width="0.55"/>
<path d="M287.0,360.5 289.7,360.5 292.5,360.6 295.2,360.6 297.9,360.6 300.7,360.8 302.7,361.2 304.7,362.0 306.2,362.9 307.8,364.4 308.9,365.7 309.8,366.9 311.3,368.4 313.5,369.1 315.3,369.2 318.0,369.3 320.8,369.4 323.5,369.4 326.2,369.4 329.0,369.3 331.7,369.3 334.4,369.3 337.2,369.3 339.9,369.3 342.6,369.5 344.7,370.0 346.5,370.8 348.1,372.1 349.0,373.5 349.7,375.6 349.8,378.0 349.3,380.3 348.4,381.9 347.2,383.5 346.3,384.5 344.7,385.9 343.6,386.9 341.7,388.1 339.9,388.9 338.1,389.3 335.4,389.6 332.6,389.4 330.3,389.1 328.1,388.7 325.9,388.3 323.5,388.0 320.8,387.7 318.9,387.5 316.2,387.0 314.4,386.2 312.9,385.1 311.6,383.5 311.0,381.9 310.6,380.3 310.4,378.0 310.3,375.6 310.0,373.2 309.3,371.6 308.0,370.6 305.2,370.2 302.5,370.1 299.8,370.1 297.0,370.0 294.3,370.0 291.6,370.0 288.8,370.0" fill="none" stroke="#b59a55" stroke-width="0.55"/>
<path d="M309.4,338.8 309.4,341.2 309.6,343.6 309.8,345.2 310.7,347.6 311.6,348.9 312.6,350.0 314.4,351.4 316.2,352.3 318.0,352.8 320.6,353.2 322.6,353.3 325.3,353.3 328.1,353.3 330.8,353.2 332.6,353.1 335.4,352.8 337.5,352.4 339.9,351.7 341.7,351.1 343.6,350.4 345.4,349.6 347.2,348.6 348.9,347.6 349.9,346.7 351.3,345.2 352.0,343.6 352.4,341.2 352.5,338.8" fill="none" stroke="#6b6b6b" stroke-width="0.45"/>
<path d="M415.9,417.9 415.9,415.5 415.9,413.1 415.7,410.7 415.4,409.1 414.7,407.0 413.8,405.4 412.9,404.3 411.1,402.7 410.0,401.9 408.3,400.6 407.2,399.5 405.8,397.9 404.7,396.6 403.8,395.4 402.2,393.9 400.3,393.1 398.3,393.0 396.5,393.3 394.6,393.9 392.8,394.9 391.2,396.3 390.3,397.9 390.0,399.5 390.1,401.1 391.0,403.5 391.9,405.1 392.8,406.6 393.7,408.3 394.3,409.9 394.7,411.6 394.9,413.9 394.9,416.3" fill="none" stroke="#6b6b6b" stroke-width="0.45"/>
<path d="M403.1,338.8 403.1,341.2 403.0,343.6 402.9,346.0 402.7,347.6 402.3,350.0 402.0,352.4 401.1,354.0 400.6,353.2 400.8,350.8 401.0,348.8 401.4,346.8 401.5,344.4 401.5,342.0 401.5,339.6" fill="none" stroke="#7a6a6a" stroke-width="0.45"/>
<path d="M422.0,390.0 419.3,390.6 416.5,390.0 414.7,389.1 413.4,388.3 412.0,387.5 410.2,386.3 408.3,385.2 406.7,384.3 404.9,383.5 402.9,382.9 401.0,382.4 398.3,382.0 396.5,381.6 394.7,381.1 393.3,379.5 394.0,378.0 395.4,376.4 396.5,375.2 397.5,374.0 399.1,372.4 400.1,371.5 401.9,370.5 403.9,370.0 406.5,369.7 409.2,369.8 411.1,370.1 413.8,370.6 415.6,371.1 417.5,371.6 419.5,372.4 421.1,373.2 422.7,374.8 423.7,376.4 424.3,378.0 424.8,379.9 425.0,381.9 424.9,384.3 424.6,385.9 423.8,388.0 422.9,389.3" fill="none" stroke="#7a6a6a" stroke-width="0.45"/>
<path d="M314.8,338.8 314.8,341.2 315.0,343.6 315.5,345.2 316.6,346.8 318.0,347.8 320.2,348.4 322.6,348.6 325.3,348.7 328.1,348.7 330.8,348.6 332.7,348.4 335.4,347.8 337.2,347.0 338.6,346.0 339.9,344.4 340.4,342.8 340.7,340.4" fill="none" stroke="#555" stroke-width="0.4"/>
<path d="M290.9,401.8 L292.7,400.6 L294.4,398.3 L296.1,395.3 L297.8,394.8 L299.5,395.7 L300.3,393.0 L302.0,391.8 L304.6,392.4 L305.5,393.0 L305.5,394.8 L305.0,395.9 L306.3,397.1 L308.5,398.9 L309.3,398.9 L310.2,395.9 L310.2,393.0 L311.0,390.9 L311.9,394.8 L313.4,395.9 L313.6,398.3 L314.3,400.6 L316.4,402.1 L317.0,404.7 L318.1,405.3 L320.0,407.6 L320.1,411.2 L320.4,414.7" fill="none" stroke="#d6a32c" stroke-width="0.75" stroke-linejoin="round"/>
<path d="M301.2,379.5 L303.8,379.5 L304.6,382.2 L307.2,380.2 L309.7,381.4 L313.1,383.6 L314.0,385.4 L315.3,387.1 L317.4,390.7 L314.9,390.1 L314.0,388.3 L312.3,387.5 L311.0,389.2 L309.7,388.9 L308.0,387.7 L307.2,388.3 L306.3,384.2 L304.6,383.6 L302.9,383.0 L302.0,381.9 L301.2,379.5" fill="none" stroke="#d6a32c" stroke-width="0.75" stroke-linejoin="round"/>
<path d="M316.1,384.8 L318.3,384.2 L319.1,383.3 L318.7,385.4 L316.6,385.6 L316.1,384.8" fill="none" stroke="#d6a32c" stroke-width="0.75" stroke-linejoin="round"/>
<path d="M321.7,385.4 L323.0,386.6 L323.8,387.7 L325.1,388.3 L326.4,389.5 L327.7,390.9 L326.0,390.1 L323.4,388.3 L321.7,385.4" fill="none" stroke="#d6a32c" stroke-width="0.75" stroke-linejoin="round"/>
<path d="M291.4,384.8 L292.2,381.9 L291.8,378.4 L292.4,377.2 L295.6,376.6 L292.7,377.8 L293.5,379.5 L294.6,379.3 L293.1,380.7 L293.9,383.6 L292.7,383.6 L292.2,384.8" fill="none" stroke="#d6a32c" stroke-width="0.75" stroke-linejoin="round"/>
<path d="M298.2,376.0 L298.6,377.2 L299.1,378.9 L298.5,377.8 L298.2,376.0" fill="none" stroke="#d6a32c" stroke-width="0.75" stroke-linejoin="round"/>
<path d="M298.6,381.9 L300.8,382.1 L300.3,382.8 L298.6,382.6 L298.6,381.9" fill="none" stroke="#d6a32c" stroke-width="0.75" stroke-linejoin="round"/>
<path d="M291.8,388.3 L294.4,388.0 L294.4,388.7 L291.8,388.8" fill="none" stroke="#d6a32c" stroke-width="0.75" stroke-linejoin="round"/>
<path d="M295.0,390.1 L297.8,388.1 L296.1,388.7 L295.0,390.1" fill="none" stroke="#d6a32c" stroke-width="0.75" stroke-linejoin="round"/>
<path d="M291.8,356.7 L293.9,356.7 L293.5,359.6 L293.1,361.4 L295.2,363.1 L294.4,362.5 L292.7,362.2 L292.2,361.0 L291.8,359.6 L291.8,356.7" fill="none" stroke="#d6a32c" stroke-width="0.75" stroke-linejoin="round"/>
<path d="M293.5,370.1 L294.8,369.0 L296.5,367.2 L297.4,370.1 L296.5,371.3 L295.2,370.7 L293.5,370.1" fill="none" stroke="#d6a32c" stroke-width="0.75" stroke-linejoin="round"/>
<path d="M293.9,366.0 L295.2,364.9 L296.5,365.5 L295.2,366.6 L293.9,366.0" fill="none" stroke="#d6a32c" stroke-width="0.75" stroke-linejoin="round"/>
<path d="M291.8,352.6 L292.7,349.1 L293.5,349.1 L292.5,352.6" fill="none" stroke="#d6a32c" stroke-width="0.75" stroke-linejoin="round"/>
<path d="M329.4,401.8 L331.9,404.7 L331.5,404.8 L329.2,402.0" fill="none" stroke="#d6a32c" stroke-width="0.75" stroke-linejoin="round"/>
<path d="M331.9,395.9 L332.8,397.7 L333.0,399.2" fill="none" stroke="#d6a32c" stroke-width="0.75" stroke-linejoin="round"/>
<path d="M340.9,398.9 L341.8,399.7 L341.8,398.3" fill="none" stroke="#d6a32c" stroke-width="0.75" stroke-linejoin="round"/>
<path d="M359.9,352.6 L361.0,353.4 L362.7,354.0 L363.5,355.5 L364.4,355.3" fill="none" stroke="#d6a32c" stroke-width="0.75" stroke-linejoin="round"/>
<path d="M397.7,343.2 L399.0,345.5 L400.7,349.1 L402.8,351.5 L403.2,350.2 L401.1,346.7 L400.2,344.4 L399.8,343.2" fill="none" stroke="#d6a32c" stroke-width="0.75" stroke-linejoin="round"/>
<path d="M400.7,343.2 L402.8,346.7 L404.5,349.1 L406.2,352.6 L406.9,354.3 L407.1,355.5 L408.8,356.7 L411.3,357.8 L414.8,359.6 L416.5,360.2 L418.2,361.9 L421.6,363.7 L423.3,366.6 L425.0,367.8 L426.7,369.0 L428.8,369.6 L430.1,368.4 L430.6,370.1 L430.1,373.7 L429.3,376.0 L428.4,378.4 L427.6,381.3 L428.3,383.0 L427.6,385.4 L429.3,388.9 L431.0,392.4 L431.8,394.8 L433.5,397.1 L436.1,399.4 L436.8,401.8 L436.8,407.6 L435.7,414.1" fill="none" stroke="#d6a32c" stroke-width="0.75" stroke-linejoin="round"/>
<path d="M413.9,342.6 L413.9,343.8 L413.5,346.7 L413.1,349.1 L413.3,352.6 L413.9,354.9 L415.6,356.7 L418.2,356.7 L419.5,355.5 L419.9,353.7 L422.4,353.2 L422.4,356.7 L421.2,359.6 L423.3,359.8 L425.0,359.6 L425.7,360.8 L425.4,364.3 L425.2,365.5 L426.7,367.2 L428.8,367.3 L430.1,368.2 L431.4,366.0 L432.7,365.5 L434.4,364.3 L435.7,365.5 L437.0,366.0 L441.2,366.0 L443.8,366.0 L446.4,366.0" fill="none" stroke="#d6a32c" stroke-width="0.75" stroke-linejoin="round"/>
<path d="M425.9,342.6 L426.3,345.5 L427.1,346.7 L427.4,348.7 L428.3,348.5 L428.4,346.7 L427.6,342.6" fill="none" stroke="#d6a32c" stroke-width="0.75" stroke-linejoin="round"/>
<path d="M424.2,352.6 L425.9,351.4 L428.4,351.4 L431.0,353.2 L433.4,354.7 L431.4,355.0 L429.3,353.7 L426.7,352.6 L424.2,352.6" fill="none" stroke="#d6a32c" stroke-width="0.75" stroke-linejoin="round"/>
<path d="M434.8,355.2 L438.2,356.1 L437.8,356.9 L435.3,357.3 L434.0,356.7 L434.8,355.2" fill="none" stroke="#d6a32c" stroke-width="0.75" stroke-linejoin="round"/>
<path d="M430.1,356.7 L431.5,357.0 L430.6,357.5 L430.1,356.7" fill="none" stroke="#d6a32c" stroke-width="0.75" stroke-linejoin="round"/>
<path d="M439.4,356.7 L440.8,356.8 L440.6,357.3 L439.4,357.1" fill="none" stroke="#d6a32c" stroke-width="0.75" stroke-linejoin="round"/>
</g>
<rect x="291.8" y="343.2" width="153.7" height="70.3" fill="none" stroke="#666" stroke-width="0.9"/>
<text x="306.4" y="341.5" font-family="Liberation Mono" font-weight="bold" font-size="6.1" fill="#505050" textLength="98.5" lengthAdjust="spacingAndGlyphs">SST Anomaly ERSSTv5 Date= 201406</text>
<g font-family="Liberation Sans" font-weight="bold" fill="#1e1e1e" stroke="#1e1e1e" stroke-width="0.45">
<text x="290.6" y="344.4" font-size="3.6" text-anchor="end" textLength="5.2" lengthAdjust="spacingAndGlyphs">30N</text>
<text x="290.6" y="350.3" font-size="3.6" text-anchor="end" textLength="5.2" lengthAdjust="spacingAndGlyphs">25N</text>
<text x="290.6" y="356.2" font-size="3.6" text-anchor="end" textLength="5.2" lengthAdjust="spacingAndGlyphs">20N</text>
<text x="290.6" y="362.0" font-size="3.6" text-anchor="end" textLength="5.2" lengthAdjust="spacingAndGlyphs">15N</text>
<text x="290.6" y="367.9" font-size="3.6" text-anchor="end" textLength="5.2" lengthAdjust="spacingAndGlyphs">10N</text>
<text x="290.6" y="373.7" font-size="3.6" text-anchor="end" textLength="3.6" lengthAdjust="spacingAndGlyphs">5N</text>
<text x="290.6" y="379.6" font-size="3.6" text-anchor="end" textLength="3.6" lengthAdjust="spacingAndGlyphs">EQ</text>
<text x="290.6" y="385.5" font-size="3.6" text-anchor="end" textLength="3.6" lengthAdjust="spacingAndGlyphs">5S</text>
<text x="290.6" y="391.3" font-size="3.6" text-anchor="end" textLength="5.2" lengthAdjust="spacingAndGlyphs">10S</text>
<text x="290.6" y="397.2" font-size="3.6" text-anchor="end" textLength="5.2" lengthAdjust="spacingAndGlyphs">15S</text>
<text x="290.6" y="403.0" font-size="3.6" text-anchor="end" textLength="5.2" lengthAdjust="spacingAndGlyphs">20S</text>
<text x="290.6" y="408.9" font-size="3.6" text-anchor="end" textLength="5.2" lengthAdjust="spacingAndGlyphs">25S</text>
<text x="290.6" y="414.8" font-size="3.6" text-anchor="end" textLength="5.2" lengthAdjust="spacingAndGlyphs">30S</text>
<text x="291.8" y="418.2" font-size="3.7" text-anchor="middle" textLength="5.6" lengthAdjust="spacingAndGlyphs">120E</text>
<text x="308.9" y="418.2" font-size="3.7" text-anchor="middle" textLength="5.6" lengthAdjust="spacingAndGlyphs">140E</text>
<text x="326.0" y="418.2" font-size="3.7" text-anchor="middle" textLength="5.6" lengthAdjust="spacingAndGlyphs">160E</text>
<text x="343.0" y="418.2" font-size="3.7" text-anchor="middle" textLength="4.6" lengthAdjust="spacingAndGlyphs">180</text>
<text x="360.1" y="418.2" font-size="3.7" text-anchor="middle" textLength="5.6" lengthAdjust="spacingAndGlyphs">160W</text>
<text x="377.2" y="418.2" font-size="3.7" text-anchor="middle" textLength="5.6" lengthAdjust="spacingAndGlyphs">140W</text>
<text x="394.3" y="418.2" font-size="3.7" text-anchor="middle" textLength="5.6" lengthAdjust="spacingAndGlyphs">120W</text>
<text x="411.3" y="418.2" font-size="3.7" text-anchor="middle" textLength="5.6" lengthAdjust="spacingAndGlyphs">100W</text>
<text x="428.4" y="418.2" font-size="3.7" text-anchor="middle" textLength="4.6" lengthAdjust="spacingAndGlyphs">80W</text>
<text x="445.5" y="418.2" font-size="3.7" text-anchor="middle" textLength="4.6" lengthAdjust="spacingAndGlyphs">60W</text>
</g>
<text x="297.6" y="360.7" font-family="Liberation Sans" font-weight="bold" font-size="12.6" fill="#000" stroke="#000" stroke-width="0.25" textLength="80.7" lengthAdjust="spacingAndGlyphs">Nor 2 201406</text>
<rect x="649.3" y="52.30" width="9.5" height="16.05" fill="#f88484"/>
<rect x="649.3" y="68.15" width="9.5" height="16.05" fill="#f99292"/>
<rect x="649.3" y="83.99" width="9.5" height="16.05" fill="#faa0a0"/>
<rect x="649.3" y="99.84" width="9.5" height="16.05" fill="#fbaeae"/>
<rect x="649.3" y="115.69" width="9.5" height="16.05" fill="#fcbcbc"/>
<rect x="649.3" y="131.54" width="9.5" height="16.05" fill="#fdcaca"/>
<rect x="649.3" y="147.38" width="9.5" height="16.05" fill="#fdd7d7"/>
<rect x="649.3" y="163.23" width="9.5" height="16.05" fill="#fee4e4"/>
<rect x="649.3" y="179.08" width="9.5" height="16.05" fill="#fff1f1"/>
<rect x="649.3" y="194.93" width="9.5" height="16.05" fill="#ffffff"/>
<rect x="649.3" y="210.77" width="9.5" height="16.05" fill="#e2f0fa"/>
<rect x="649.3" y="226.62" width="9.5" height="16.05" fill="#c8e3f4"/>
<rect x="649.3" y="242.47" width="9.5" height="16.05" fill="#aed6ee"/>
<rect x="649.3" y="258.32" width="9.5" height="16.05" fill="#94c9e8"/>
<rect x="649.3" y="274.16" width="9.5" height="16.05" fill="#7abce2"/>
<rect x="649.3" y="290.01" width="9.5" height="16.05" fill="#60aedc"/>
<rect x="649.3" y="305.86" width="9.5" height="16.05" fill="#46a0d6"/>
<rect x="649.3" y="321.71" width="9.5" height="16.05" fill="#2d92d0"/>
<rect x="649.3" y="337.55" width="9.5" height="16.05" fill="#1885ca"/>
<path d="M649.3,52.3 L654.05,38.7 L658.8,52.3Z" fill="#f77f7f" stroke="#111" stroke-width="1.9" stroke-linejoin="miter"/>
<path d="M649.3,353.4 L654.05,366.4 L658.8,353.4Z" fill="#1885ca" stroke="#111" stroke-width="1.9"/>
<g stroke="#111" stroke-width="1.9">
<rect x="649.3" y="52.3" width="9.5" height="301.10" fill="none"/>
<path d="M649.3,68.15 H661.3"/>
<path d="M649.3,83.99 H661.3"/>
<path d="M649.3,99.84 H661.3"/>
<path d="M649.3,115.69 H661.3"/>
<path d="M649.3,131.54 H661.3"/>
<path d="M649.3,147.38 H661.3"/>
<path d="M649.3,163.23 H661.3"/>
<path d="M649.3,179.08 H661.3"/>
<path d="M649.3,194.93 H661.3"/>
<path d="M649.3,210.77 H661.3"/>
<path d="M649.3,226.62 H661.3"/>
<path d="M649.3,242.47 H661.3"/>
<path d="M649.3,258.32 H661.3"/>
<path d="M649.3,274.16 H661.3"/>
<path d="M649.3,290.01 H661.3"/>
<path d="M649.3,305.86 H661.3"/>
<path d="M649.3,321.71 H661.3"/>
<path d="M649.3,337.55 H661.3"/>
<path d="M658.8,52.3 H661.3 M658.8,353.4 H661.3"/>
</g>
<g font-family="Liberation Sans" font-weight="bold" font-size="10.3" fill="#000" stroke="#000" stroke-width="0.3">
<text x="662" y="55.90">1</text>
<text x="662" y="71.75">0.9</text>
<text x="662" y="87.59">0.8</text>
<text x="662" y="103.44">0.7</text>
<text x="662" y="119.29">0.6</text>
<text x="662" y="135.14">0.5</text>
<text x="662" y="150.98">0.4</text>
<text x="662" y="166.83">0.3</text>
<text x="662" y="182.68">0.2</text>
<text x="662" y="198.53">0.1</text>
<rect x="662" y="209.87" width="6.6" height="1.9" stroke="none"/>
<text x="669.3" y="214.37">0.1</text>
<rect x="662" y="225.72" width="6.6" height="1.9" stroke="none"/>
<text x="669.3" y="230.22">0.2</text>
<rect x="662" y="241.57" width="6.6" height="1.9" stroke="none"/>
<text x="669.3" y="246.07">0.3</text>
<rect x="662" y="257.42" width="6.6" height="1.9" stroke="none"/>
<text x="669.3" y="261.92">0.4</text>
<rect x="662" y="273.26" width="6.6" height="1.9" stroke="none"/>
<text x="669.3" y="277.76">0.5</text>
<rect x="662" y="289.11" width="6.6" height="1.9" stroke="none"/>
<text x="669.3" y="293.61">0.6</text>
<rect x="662" y="304.96" width="6.6" height="1.9" stroke="none"/>
<text x="669.3" y="309.46">0.7</text>
<rect x="662" y="320.81" width="6.6" height="1.9" stroke="none"/>
<text x="669.3" y="325.31">0.8</text>
<rect x="662" y="336.65" width="6.6" height="1.9" stroke="none"/>
<text x="669.3" y="341.15">0.9</text>
<rect x="662" y="352.50" width="6.6" height="1.9" stroke="none"/>
<text x="669.3" y="357.00">1</text>
</g>
<use href="#mC" x="268.2" y="130.7"/>
<use href="#mC" x="374.8" y="158.0"/>
<use href="#mC" x="505.4" y="143.7"/>
<use href="#mC" x="205.0" y="213.9"/>
<use href="#mC" x="262.4" y="281.7"/>
<use href="#mC" x="358.0" y="321.6"/>
<use href="#mC" x="463.4" y="304.5"/>
</svg>
</body></html>
